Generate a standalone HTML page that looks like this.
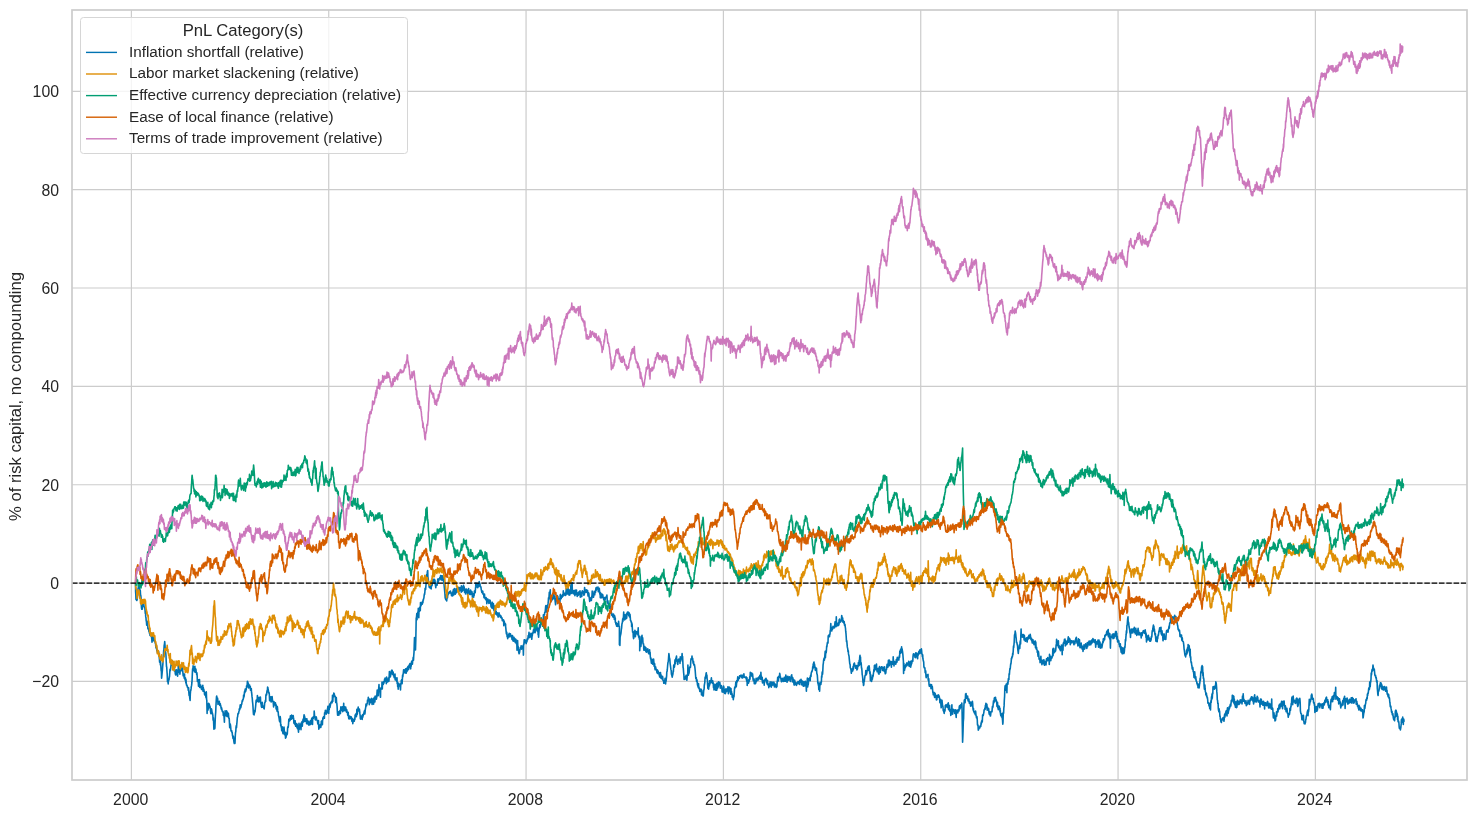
<!DOCTYPE html><html><head><meta charset="utf-8"><style>html,body{margin:0;padding:0;background:#fff;width:1477px;height:818px;overflow:hidden;position:relative;font-family:"Liberation Sans",sans-serif}</style></head><body><svg width="1477" height="818" viewBox="0 0 1477 818" style="position:absolute;left:0;top:0;will-change:transform">
<line x1="131.40" y1="10" x2="131.40" y2="780" stroke="#cccccc" stroke-width="1.2"/>
<line x1="328.73" y1="10" x2="328.73" y2="780" stroke="#cccccc" stroke-width="1.2"/>
<line x1="526.06" y1="10" x2="526.06" y2="780" stroke="#cccccc" stroke-width="1.2"/>
<line x1="723.40" y1="10" x2="723.40" y2="780" stroke="#cccccc" stroke-width="1.2"/>
<line x1="920.73" y1="10" x2="920.73" y2="780" stroke="#cccccc" stroke-width="1.2"/>
<line x1="1118.06" y1="10" x2="1118.06" y2="780" stroke="#cccccc" stroke-width="1.2"/>
<line x1="1315.39" y1="10" x2="1315.39" y2="780" stroke="#cccccc" stroke-width="1.2"/>
<line x1="72" y1="681.46" x2="1467" y2="681.46" stroke="#cccccc" stroke-width="1.2"/>
<line x1="72" y1="583.10" x2="1467" y2="583.10" stroke="#cccccc" stroke-width="1.2"/>
<line x1="72" y1="484.74" x2="1467" y2="484.74" stroke="#cccccc" stroke-width="1.2"/>
<line x1="72" y1="386.38" x2="1467" y2="386.38" stroke="#cccccc" stroke-width="1.2"/>
<line x1="72" y1="288.02" x2="1467" y2="288.02" stroke="#cccccc" stroke-width="1.2"/>
<line x1="72" y1="189.66" x2="1467" y2="189.66" stroke="#cccccc" stroke-width="1.2"/>
<line x1="72" y1="91.30" x2="1467" y2="91.30" stroke="#cccccc" stroke-width="1.2"/>
<path d="M135.5 583.1l.1 8.4 .2 2.9 .2 5 .3-1.6 .3 2.7 .2 0 .3-.8 .2-1.3 .3-3.4 .2 .1 .3-7.3 .2 3.8 .3-2.2 .2-2.9 .3 1.4 .2-4.7 .3 5.9 .2-.3 .3 2.9 .2-1.2 .2 4.1 .3 .9 .2 1.8 .3 7.4 .2 3.1 .3 1.5 .2-3.1 .3 3.1 .2-2.6 .3-2.1 .2-.6 .3-.6 .2 2.9 .3-2.7 .2 3 .3 .2 .2 .4 .3 .1 .2 2.4 .3 3.7 .2-2.2 .2 5.2 .3 1.6 .2 3 .2 .2 .3 4.1 .2-1.7 .3-.6 .2-1.7 .3 4.2 .2 3.1 .3-.6 .2 1.3 .3-.3 .2 2.4 .3 .3 .3 1.7 .2-2.2 .3 4.3 .2-.6 .3-2 .2 2.8 .3 .5 .2-2.8 .3 3 .2 2.1 .3 3.7 .2-3.6 .3 .9 .3-2.9 .2-1.6 .3 4.1 .2 1.7 .3-.8 .2-1.3 .3 2.3 .2-1.1 .3 .9 .2 .7 .3 1.9 .2-.3 .3 3.6 .3 1.3 .2-2.8 .3 2.5 .2 2.9 .3-1.4 .2 3 .3-.5 .2 .7 .3-.7 .2-.7 .3 .4 .2 3.2 .3 1.5 .3 2.7 .2 3.5 .3-4.2 .2 2.1 .3 4.8 .2-3.1 .3 5.1 .2 3.3 .3 1.4 .2 6.4 .3-2.8 .2-2.1 .3-3 .3-4.4 .2-2.1 .3-6.1 .2-2.4 .3-4.9 .2 .1 .3-5.4 .2-.1 .3-3.3 .2 2.3 .3 5.1 .2 1.9 .3 1.7 .3 3.4 .2 5 .3 5.6 .2 .2 .3 5 .2 2.3 .3 7.5 .2-1.5 .3-.6 .2 4.4 .3-5.1 .2 .2 .3 1 .3-3.3 .2 .3 .3-4.9 .2-2.7 .3 1.3 .2-1.7 .3-1.9 .2-1.7 .3-2.4 .2-1.1 .3 0 .2 3.4 .3-4.8 .3 3.6 .2-.9 .3 1.9 .2 .5 .3 1.1 .2-1.9 .3 3.1 .2 3 .3-1 .2-.5 .3 1.5 .2 2.7 .3 1.3 .3-.8 .2-.3 .3 1 .2-4.9 .3 1.1 .2 1.7 .3-2.1 .2 5.5 .3-4 .2 .3 .3-9.7 .2 6.4 .3 .1 .3 1.3 .2 2 .3-1.1 .2 2.9 .3-3.4 .2-2.5 .3-.9 .2 2.5 .3-1.6 .2 .2 .3 1.9 .2 .4 .3-3.3 .3 1.8 .2 1.3 .3 3.1 .2 2 .3-2.1 .2 1.5 .3 0 .2 3 .3-4.2 .2 5 .3-.9 .3 2.3 .2-2.3 .3 4.9 .2-3.5 .3 4.2 .2 1.4 .3-.2 .2 .3 .3 1.8 .2 .4 .3-.2 .2 1 .3 2.3 .3-2.6 .2 3.7 .3 3.8 .2-.8 .3 1.9 .2 1.8 .3 2.2 .2-6.4 .3-3.5 .2-.1 .3-1.8 .2-2 .3-1.3 .3-2.7 .2-3 .3-7.3 .2-3.7 .3 1.2 .2-4 0 2.4 .3-1.6 .2 .8 .3 2.9 .2-1.5 .3 2.8 .2-3.9 .3-1.6 .3 5.9 .2-1.7 .3 1.3 .2-2.7 .3 3 .2 .1 .3 2.5 .2-1.7 .3 3.5 .2 5.1 .3-.5 .2-1.2 .3 .1 .3 6.3 .2-6.1 .3 3.9 .2 1 .3-5.4 .2 7.8 .3-2.3 .2 2.1 .3-.3 .2-1.8 .3 2.6 .2-1.1 0 1.7 .3 1.1 .3 .1 .2-.3 .3-.8 .2 .8 .3-3.8 .2 5.7 .3-3.6 .2 2.4 .3-.7 .2 1.7 .3 .2 .2 3.2 .3 .7 .3-2.3 .2 2 .3-2.2 .2 4.2 .3 1.2 .2-6 .3 7.7 .2 .6 .3 13.2 .2-7.5 .3-1.7 .2 6.1 .3-.8 .3-2.9 .2-3.4 .3 4.6 .2-4 .3 1 .2 2.5 .3-1.3 .2 1 .3 2.1 .2 3.1 .3 1.5 .2-.8 .3-4.2 .3 1 .2 1.5 .3 2 .2-.2 .3 1.6 .2 1.1 .2 4.5 .3-2.3 .2 3.9 .3 7.4 .2-4.8 .3 1.5 .2 2.9 .3-.6 .2-5.6 .3-6.8 .3-3.7 .2-5.1 .3-5.7 .3-4.6 .2-.6 .3 1.7 .2 .3 .3-.1 .2 1.2 .3 5.3 .3-3.3 .2 1 .3 1.3 .2 .1 .3-2.4 .2 1.6 .3 2.6 .2-.7 .3-1 .2 1.9 .3 .1 .2 1.9 .3 1.5 .3-1.3 .2 1.2 .3 1.7 .2 .7 .3 .6 .2-.8 .3 .5 .2 3.8 .3-2.5 .2 .4 .3 3.8 .3 5 .2-7.9 .3 2.2 .2-5.6 .3 3.1 .2-1.1 .3 1 .2 1.2 .3-.6 .2-3.8 .3 5.7 .2-4.5 .3 .8 .3 2.3 .2-1.2 .3 3.2 .2-3.6 .3 3.6 .2 1.3 .3 0 .2 3.3 .3 6.1 .2-4.2 .3 .9 .2 .3 .3 2.5 .3 3.8 .2-.3 .3 .6 .2-.6 .3 2.2 .2-.4 .3 3.2 .2 .4 .3 2.3 .2-2.3 .3 .7 .2 3 .3 2.6 .3 1.1 .2-1.9 .3 1.8 .2-.2 .3-7.6 .2-2.9 .3-1.2 .2-4.1 .3-1.9 .2 2.3 .3-4 .2-1.8 .3-4.2 .3-1 .2-1.8 .3-1.8 .2 .6 .3-.5 .2-1.3 .3-1.1 .2-2.1 .3 1.1 .2-.5 .3-3.5 .2-1.2 .3 3.2 .3-.8 .2-1.1 .3-1.4 .2-.1 .3-1.7 .2-1.3 .3-1.3 .2 .9 .3-1.8 .2 .3 .3-1 .2-3.5 .3 2.1 .3-1.4 .2-3.2 .3-1.6 .2 1.7 .3-3.6 .2 1.5 .3 .7 .2-1.1 .2-.3 .3-2 .2-2.1 .3 1.4 .2-1.3 .3-4.7 .2 .2 .3 3.3 .2-1.8 .3 .6 .2 4.5 .2-2 .3 1.7 .2-.2 .3-2.5 .2 2.6 .2 .1 .3-1.1 .2 3.6 .3-1.9 .2 .3 .3-.1 .2 3.7 .3 1.8 .2 2.4 .3 2.2 .2 3 .3 2.4 .2 2.9 .3 5.3 .2 2.1 .3-2.2 .3 2.9 .2-1.8 .3-.3 .2-2.7 .3 1.4 .2-2.4 .3-2.7 .2-2.3 .3-3.4 .2-.8 .3 2.1 .2-.6 .3-.1 .3-5.9 .2 3.9 .3 1.3 .2-2 .3-.4 .2 3.6 .3-2.7 .2-1.8 .3 .8 .2-.7 .3 3.5 .2 .8 .3-4.8 .3 6 .2 .5 .3 1.3 .2 1.9 .3 .6 .2-.1 .3-5 .2 2 .3 1.8 .2 1.1 .3 0 .2-.5 .3 1.5 .3-2.1 .2 2.9 .3-3.7 .2-2.4 .2-.1 .3-.8 .2-1.6 .3 1.2 .2-6.6 .3 0 .2-1.1 .2 1.1 .3-3.2 .2-1 .3-.6 .2-3 .3 .5 .2 1.9 .3 1.3 .2 2 .3-.6 .2 .6 .2 1.2 .3 6.7 .2-3.5 .3 .5 .2 2.2 .3 .7 .2-3.8 .3 5.2 .2-1.2 .3-1.3 .2 1.5 .3-4.4 .2 2.1 .3 2.7 .2 0 .3 .1 .3 2.8 .2 2.6 .3-5.4 .2 .9 .3 2.6 .2-1.7 .3 1.4 .2-.9 .3-1 .2 2.6 .3-1.2 .2 4.7 .3-3.7 .3 2.8 .2 2 .3 1.4 .2-4.6 .3 3.6 .2 1.3 .3 .2 .2 3.1 .3 1.3 .2 .7 .3 1.9 .2 1.7 .3 1.2 .3-1.4 .2-3.9 .3 2.5 .2 6.8 .3-1.2 .2 2.6 .3 .3 .2 3.2 .3-1.1 .2-2.9 .3 2.5 .2 3 .3 1.5 .3-4.4 .2 .7 .3 .9 .2-3.9 .3 3.8 .2 4 .3-.4 .2-1.8 .3-.3 .2 5.8 .3-4.5 .2 3.8 .3-2.2 .3 .1 .2-1.3 .3-1.8 .2 2.1 .3-6.1 .2-1.4 .3 .7 .2-.8 .3-3.6 .2-3.8 .3 1.9 .2-2.4 .3 2.2 .3-2.7 .2 2 .3-4.5 .2 1 .3 .1 .2-.7 .3 2.9 .2-4.1 .3 1.3 .2 .8 .3 1.4 .2-2.1 .3 1.6 .3-2.4 .2 1.6 .3 2 .2 3.9 .3-2.5 .2 3.1 .3-.6 .2 1.3 .3-3.6 .2 4.3 .3 1.1 .2-1.8 .3 1.9 .3-1.9 .2-.9 .3 4.3 .2-3.3 .3 4.2 .2-2.2 .3 2 .2 .5 .3 3.1 .2-2.9 .3-6 .2 6.2 .3-2.4 .3 .6 .2-.8 .3-1.8 .2 1.7 .3-2.8 .2 5.7 .3-6.8 .2 3.9 .3-1.8 .2-3.3 .3 4.7 .2-3.4 .3-1.8 .3-2.1 .2 2.2 .3 .7 .2-4.9 .3-2.3 .2 4.8 .3-3.5 .2 4.7 .3 .6 .2-2.2 .3-.6 .2 1.9 .3-1.1 .3 1.2 .2 3.2 .3-5 .2 4.9 .3-3 .2 1.7 .3 1.7 .2-1.3 .3 1.1 .2-2.5 .3 3.9 .3-1.8 .2-.2 .3-1 .2 2.4 .3-1.1 .2-2.6 .3 3.5 .2-.3 .3-2.2 .2-2.1 .3-1.2 .2-.5 .3 1.7 .3 4.6 .2-7 .3 1.2 .2-.1 .3-1.1 .2-.8 .3 .4 .2-5.9 .3 4 .2 1.4 .3 1.1 .2 1.8 .3 .6 .3-1.5 .2-.8 .3-.8 .2 1.4 .3 1.4 .2 .4 .3 .5 .2 .7 .3 2.5 .2 .3 .3-.6 .2-3 .3 8.6 .3-1.9 .2 .6 .3-2.3 .2 .1 .3 .4 .2-1.5 .3 2 .2 1 .3-2.1 .2-4.2 .3 1 .2 .2 .3-1.8 .3 4.2 .2-4.5 .3-2.5 .2 1.3 .3-2 .2-.3 .3 .9 .2-.2 .3 .7 .2-5.3 .3 .6 .2-.9 .3-2.4 .3 .7 .2 .8 .3 2.5 .2-1 .3-2.3 .2 2.2 .3-2.2 .2-1.7 .3-1.1 .2-1.7 .3 5.8 .2-2.5 .3 3.8 .3-7.5 .2 3.7 .3-4.2 .2-1.5 .3 3.4 .2-1.4 .3-1.4 .2-1.4 .3-1 .2 .6 .3-1.5 .2 1.1 .3 .5 .3-1.9 .2-5.7 .3 6.1 .2-5.1 .3 .6 .2 .1 .3-4 .2 1.8 .3-1.1 .2 2.3 .3-.2 .2 1.1 .3-.4 .3 4.9 .2 1.1 .3-.2 .2-4.7 .3 5.7 .2-.1 .3 3.3 .2 3.9 .3 4.9 .2-2.1 .3-.4 .2 .2 .3-1.2 .3 3.5 .2-3.4 .3 .5 .2 .3 .3-2.2 .2 2.1 .3 1 .2-3.7 .3-3.2 .2 4 .3-1.8 .2-1.5 .3 2.3 .3-.2 .2-2.6 .3 4.7 .2-.6 .3-2.7 .2 1.7 .3-6.8 .2 7.5 .3-2.3 .2-1.5 .3-.1 .2 3.1 .3 .7 .3-1.7 .2-1.8 .3 3.6 .2-1.2 .3 2.6 .2-2.5 .3 1.5 .2 1.6 .3-.7 .2 3.3 .3 0 .2-2.9 .3 4.2 .3 2.2 .2-3.1 .3 1.7 .2-.4 .3 1.9 .2-2.5 .3 1.1 .2-.7 .3 1.7 .2-1.1 .3-.5 .3 1.1 .2 3.2 .3-.6 .2-2 .3 2.7 .2 2.3 .3-2.5 .2-1.2 .3-.2 .2 .2 .3 .4 .2 .9 .3-3.2 .3 1.5 .2-4.4 .3 .3 .2-1 .3 1.8 .2-2.7 .3 3.2 .2-2.5 .3-4.8 .2 5.1 .3-1.1 .2-2.7 .3-1.1 .3-2.5 .2 3.9 .3-2.1 .2 1 .3-.8 .2-.1 .3 2.6 .2 2.1 .3 2.4 .2 2.8 .3 .2 .2-1.6 .3-1.1 .3-.4 .2 1.8 .3-1.7 .2 3.3 .3-4.7 .2 2.6 .3-1.3 .2-.4 .3-1.1 .2-1.5 .3 .7 .2-2.2 .3-.8 .3 3.2 .2-.6 .3-3.7 .2-1.3 .3-1.5 .2-2.8 .3 .8 .2 1 .3-1.3 .2-.7 .3-.6 .2-3.1 .3 .7 .3-1.1 .2-2.3 .3 3.3 .2 .2 .3-2 .2 5.9 .3-3.7 .2 2 .3-3.4 .2 1.4 .3-1.7 .2 3.1 .3-1.8 .3-2 .2-.3 .3 2.1 .2 3.9 .3-1.8 .2 .2 .3 0 .2 0 .3-4.2 .2 5.6 .3-3.9 .2 1.2 .3-4.2 .3 2.2 .2 2.5 .3-6 .2 1.1 .3 1.5 .2 .1 .3-.9 .2 1.3 .3-1.8 .2-2.9 .3-4.4 .2 6 .3-4.8 .3 .9 .2 3.6 .3-4.3 .2-3.1 .3-3.7 .2 6.1 .3 .6 .2-1.5 .3-1.2 .2 7 .3 1.7 .2-9.2 .3 1.3 .3-.2 .2-.8 .3 .2 .2-6.5 .3 6.9 .2-5.5 .3 .5 .2-1.6 .3 2.1 .2-2.7 .3 1.7 .2-1.3 0 .3 .3-1 .3-2.4 .2 2.3 .3-3.3 .2 1.9 .3-1.1 .2 2.3 .3-2.2 .2 4.7 .3-6.7 .2 4.8 .3-2.1 .2 .4 .3 1.9 .3-.5 .2-1 .3-2.4 .2 1.3 .3 1.7 .2-2.9 .3-6.6 .2 3.8 .3 1.9 .2-1.2 .3-3.9 .2 3.9 .3-4 .3-.4 .2-1 .3 .7 .2-1.3 .3 .2 0 3.8 .2-.6 .3 .8 .2 .1 .3-2.3 .2 3.6 .3-1 .3 1.4 .2 1.5 .3-3.2 .2 1.8 .3-2.1 .2 5.8 .3-2.3 .2 .4 .3 .8 .2-.4 0 1.7 .3-1.5 .2 2.9 .3-3.7 .2 5.8 .3-1.3 .2 4.5 .3-2.6 .2 5 .3-3.2 .2-2.8 .3 .6 .2 .9 .3 1.3 .2-1.3 .3 .6 .3 .9 0 .4 .2 3.4 .3-6.4 .3 .1 .2-3.3 .3 2.2 .2-3 .3 4.2 .2-3.7 .3-5.1 .2 1.9 .3-2.7 .2-1 .3-3.4 .2 .3 .3 1 .3-1.1 0 2.3 .2-1.6 .3 2.3 .2-2 .3-.3 .2-1.8 .3 2.5 .2 1.8 .3-1 .2-3.5 .3-.5 .2 2.4 .3 .3 .2-1.3 .3-3.1 .2 3.1 .3-3.6 .2 3.4 .3-3 .2-1.4 .3 .3 .3 .4 .2-2.2 .3 3.9 .3-1.5 0 2.4 .2 .5 .2-4.7 .3 2.1 .2-3.7 .3-1.1 .2-.4 .3-.1 .2 3.4 .3-3.5 .3-1 .2-2.4 .3 2.8 .2-3.9 .3-3.9 .2-5.7 .3-9.2 .3 4.7 .2 4.1 .3 .6 .2 3.1 .3-10.6 .2-9.9 .2-11.4 0 2.2 .3-3.1 .3-3.6 .2 6.2 .3-6.2 .2 1.1 .3-2.7 .2 3.4 .3-7.1 .2 4.6 .3 4.9 .2-7.7 .3-.1 0 .2 .2 1 .3-3.9 .2-.3 .3 3.6 .2-8.1 .3 3.7 .2-3.3 .3 2.2 .3-2.4 .2 .5 .3-.8 .2-.5 0 2.2 .3-2.7 .3 1.2 .2-2.8 .3 .2 .2-1.3 .3-.7 .2-2.2 .3-2 .2 .7 .3-2.7 .2-3.4 .3 1.3 .2-.2 .3-3.4 .3-3.4 .2-2.1 .3-6.1 .2 2.2 .3-2.9 .2-2.4 .3-.9 .2 6.3 .3 1.9 .2 1.8 .3 4.2 .2-.1 .3 2.6 .3 .5 .2-.3 .3-1.4 .2 .6 .3 1.6 .2-2.4 .3-1.6 .2 4.7 .3-6.5 .2 3 .3 .3 .2-1.4 .3-2.7 .3-2.2 .2 2.6 .3-1.5 .2-1.1 .3 2.8 .2-.4 .3 1.2 .2-3.6 .3 2.6 .2-1.7 .3 4.2 .2 .8 .3 2.4 .3-3.5 .2-.1 .3-.5 .2 .1 .3 1.4 .2-2.9 .3-1.3 .2-1.8 .3-.2 .2 3.1 .3-2.1 .2 .6 .3-1.4 .3-.3 .2 0 .3-1.3 .2-.2 .3 .8 .2-2.6 .3 4.1 .2-2.9 .3-1 .2 2.5 .3 .6 .2 1.7 .3-1.4 .3-3.2 .2 1.9 .3-.8 .2 1.9 .3 .6 .2 3.1 .3 3.5 .2 2.2 .3 3.2 .2 2 .3 4.7 .2-1.8 .3 3.4 .3-.2 .2-4.9 .3 4.9 .2 1.3 .3-3.7 .2 .4 .3 .2 .2-2.6 .3-.3 .2-1.9 .3 .7 .2 0 .3-.3 .3-1.7 .2 .5 .3-.7 .2 .2 .3 1.1 .2-1.7 .3 1.7 .2 .6 .3-.1 .2 2.4 .3-1.2 .2-1.8 .3 0 .3 3.2 .2-4.2 .3 .2 .2-2.2 .3 2.6 .2 2.6 .3-4.9 .2-1.4 .3 5.2 .2-2.9 .3 2.1 .2 1.2 .3-3 .3-.3 .2-2.3 .3 1.8 .2 2.2 .3-.9 .2-.1 .3-3.3 .2 2.7 .3-3.2 .2-.5 .3 3.3 .2-2.3 .3-.2 .3 3.2 .2-3.7 .3 2.8 .2-1.7 .3 0 .2-.7 .3-.6 .2 .3 .3 4.4 .2-6.4 .3 3.4 .2 2.4 .3-.5 .3-1.5 .2-2.6 .3 3.3 .2-2.7 .3-2.3 .2 2.9 .3-.8 .2-.3 .3 5.1 .2-3.5 .3 1.1 .3 .5 .2 3.7 .3-1.7 .2 .1 .3-3.2 .2-.1 .3 1.2 .2 1.5 .3-1.6 .2 4.5 .3-4.1 .2 3 .3-.8 .3-4.2 .2 2.1 .3 1.1 .2 .5 .3 .5 .2 1.7 .3-1.4 .2-1.1 .3-1.9 .2 4.5 .3-3.3 .2 .8 .3-.1 .3-.3 .2 1 .3 4.6 .2-1.9 .3-.8 .2 1.3 .3-2.1 .2 3.6 .3-1.6 .2 0 .3-4.6 .2 1.8 .3-1.6 .3 1.4 .2-2.9 .3-3.4 .2-3.4 .3 2.6 .2-.6 .3-.6 .2 2.5 .3-3.4 .2 .4 .3 3.7 .2-3.6 .3 .1 .3 2.6 .2-3.1 .3 1.8 .2-3.8 .3 1.5 .2 2.6 .3-2 .2 3 .3-.4 .2 .2 .3 1 .2 1.8 .3 1.3 .3 1.7 .2-1.4 .3 2.1 .2 0 .3-1.7 .2 3 .3-.6 .2 .3 .3 1.4 .2 2.3 .3-1.2 .2-2.5 .3 4.2 .3-.3 .2 .4 .3 1.3 .2-.3 .3-1.7 .2 2.3 .3-1.3 .2 5 .3-2.3 .2-1.5 .3 0 .2-.8 .3 .8 .3 2.1 .2-1.5 .3 3 .2-3.2 .3-.1 .2 2.9 .3-1.4 .2-1.4 .3 2.5 .2-.9 .3 3.5 .2 1.5 .3-.9 .3 2 .2-.1 .3-1.7 .2-3.9 .3 5.6 .2 .6 .3-4.1 .2-.5 .3 3.9 .2 2.6 .3 .4 .2-.7 .3-4 .3 2.8 .2 1 .3-.2 .2 3.4 .3 1.2 .2-2.8 .3 3 .2 .4 .3-.3 .2-1.8 .3 1.4 .2-.8 .3 3.7 .3-.7 .2 .6 .3-1.4 .2-2.7 .3 1 .2 .6 .3 .6 .2 .8 .3 .6 .2 1 .3-.8 .2-.7 .3 2 .3 .2 0 .2 .2-.8 .3 .9 .2 2.3 .3-1.2 .2 1 .3-.6 .2 1.3 .3-1.2 .2 5.8 .3-4.8 .3 1.2 .2 1.2 .3-.2 .2 1.3 .3-.8 .2 .5 0 2.2 .3 2.5 .2 2.2 .3 2.9 .2-2 .3 1.3 .2 3.4 .3-.3 .3 2.2 .2-3.4 .3-.1 .2 2 .3-2.7 .2 .3 .3-1.3 .2 .5 .3 1.1 .2 1.9 .3-2.3 .2-.9 .3 2 .3-.3 .2-.1 .3 1 .2 .3 .3 2.8 .2-2.6 .3-1.2 .2 2.8 .3 2.6 .2-3.9 .3 4 .2-1.8 .3-2 .3 1.7 .2 1.7 .3-2.1 .2 3.1 .3 .8 .2-1.9 .3-1.2 .2 .1 .3 4.2 .2-3 .3 1.2 .2 8.3 .3-7 .3-2.6 .2 5.3 .3 .4 .2 2.3 .3 2.3 .2 1.9 .3 .9 .2-.3 .3-1.1 .2-1.8 .3-1.6 .2-1.4 .3 1 .3-1.2 .2-1.5 .3 .3 .2 3.1 .3-2.5 .2-.3 .3 .1 .2 1.9 .3-2.6 .2 .3 .3 9 .2-10.8 .3 .1 .3-4.6 .2 3 .3-3.1 .2 1.1 .3 1.3 .2-.9 .3-.8 .2 .1 0 2.2 .3 .9 .2-3.3 .3 .6 .2 .9 .3-2.3 .3-1.1 .2 1.1 .3-1.4 .2-2.6 .3 .2 .2 .2 .3-3.7 .2 5.5 .3-3.8 .2 .4 .3 .1 0 2.2 .2 .4 .3 0 .3 0 .2-3.7 .3 3.3 .2 .4 .3 2.3 .2-3 .3-.5 .2-2.7 .3 .4 .2-1.2 .3-.8 .2-1.8 .3 .7 .3-.1 0 2.2 .2-3.6 .3 3 .2-1 .3 1.7 .2-1.6 .3-3.5 .2 .4 .3-1.3 .2-.1 .3 3.4 .2-3.5 .3 1.1 .3 4 .2-3.3 .3 .5 .2-.4 0 6.2 .3 .5 .2 2.1 .3-5.1 .2-2 .3-2.4 .2-2.9 .3 0 .2 3.1 .3-3.5 .3-.5 .2-1.9 .3 0 .2-.6 .3 .9 .2-.1 .3 .1 0 2.2 .2-3.1 .3-1.8 .2 2.4 .3-1.5 .2-5.7 .3 2.2 .3-2.1 .2 .4 .3-.6 .2-2.2 .3-.4 .2-.5 .3-3.2 .2-2.3 .3-.4 .2 .3 0 6.3 .3-1.5 .3-2.1 .2 .3 .3-3.7 .2 2.6 .3-2.9 .2-1 .3-2.6 .2-3.4 .3 .6 .2-1.2 .3-5 .2 1.5 .3 1.5 .3-3.9 .2-1.7 0 10.3 .3-1.5 .2 3.3 .3-2.3 .2 1.3 .3-.1 .2-1 .3 .1 .2-.4 .3-1.9 .2-.8 .3 1.4 .3 .5 .2-.4 .3-4.4 .2 4.8 .3-.8 .2-1.7 .3 .3 .2 4.6 .3 2.2 .2 1.6 .3-6.1 .2 2.4 .3-2.8 .3 2.4 .2-1.1 .3-.1 .2-3.9 .3 7.6 .2-6.6 .3 3.2 .2 0 .3 1 .2 1.4 .3-3.2 .2 4.1 .3-.9 .3-.9 .2-6.2 .3-.7 .2 1 .3 1.2 .2 2 .3-2.6 .2 .3 .3 .3 .2 .6 .3-1.4 .2-1.2 .3 1.6 .3-5.5 .2 3.4 .3 .8 .2-.3 .3 0 .2-1.2 .3 1.7 .2-.4 .3 .7 .2-2.3 .3 2.1 .2-3.7 .3-2.7 .3 .9 .2 4.2 .3-.4 .2-3 .3-.1 .2 3.6 .3-6.1 .2 1.1 .3 .6 .2 3 .3 2.5 .2-1.2 .3 .3 .3 .6 .2-5.1 .3 3.1 .2-1.1 .3-6.8 .2 4.5 .3 4 .2-3.6 .3 2.5 .2-9.8 .3 10.5 .2-2.3 .3 1.6 .3 .1 .2 1.4 .3-3.2 .2 3.3 .3-3.1 .2 1.3 .3 1.6 .2 2 .3-5.6 .2 1.4 .3 1.2 .2 1.7 .3-.6 .3-3.8 .2 4.7 .3-.1 .2 1.8 .3-3.3 .2 2.5 .3-2.7 .2 2.4 .3-.5 .2-1.1 .3-2 .2 2.1 .3-.9 .3 1.4 .2-3.6 .3 6.6 .2-3.7 .3 3.1 .2 0 .3-1.3 .2-3.2 .3 4.2 .2-3.9 .3-1.6 .2 .5 .3 .3 .3 0 .2 1.3 .3-1.4 .2 3.6 .3-2.6 .2 2.4 .3-7.5 .2 2.1 .3-.1 .2 1.7 .3 1.3 .2-1.9 .3 1.7 .3-1.6 .2-.8 .3 1.8 .2 .8 .3-.4 .2-1.5 .3 4.2 .2 1.2 .3-2 .2-1.1 .3 .6 .3 4.2 .2 1 .3 2.8 .2-2.6 .3 0 .2 0 .3-1.1 .2 2 .3-.5 .2 1.2 .3-4.1 .2 1.7 .3-7 .3 3.3 .2 .9 .3 1.2 .2 .6 .3 .1 .2-1.4 .3-2.6 .2-1.8 .3 2.4 .2 1 .3-3.1 .2 .3 .3 .4 .3-3.3 .2-1.2 .3 2.4 .2-2.3 .3-.7 .2 .8 .3 .9 .2-.4 .3-.6 .2-.9 .3 4.5 .2-3 .3-.1 .3 1.2 .2-1.5 .3 3.8 .2 2.2 .3-1.9 .2 5.3 .3-4.7 .2 .7 .3 4.4 .2-2.9 .3 2.3 .2-3.4 .3 .7 .3 0 .2-.2 .3 1.2 .2 2.1 .3 .5 .2 .9 .3 .7 .2-1.3 .3-1.1 .2 1.2 .3 1.7 .2-.7 .3-1.7 .3-.8 .2 0 .3-.2 .2-.8 .3 .8 .2-1.9 .3 4.9 0 1.9 .2-.7 .3 1.9 .2-2.4 .3 2.8 .2 1.3 .3-1.2 .3 2.3 .2 0 .3 2.4 .2-1.5 .3-2.4 .2 3.5 .3-1.7 .2 .9 .3 2.2 .2 .7 0 2.2 .3 .5 .2 2.4 .3-1.3 .3 1.2 .2 .6 .3 1.2 .2-2.2 .3 2.6 .2-3.1 .3 2.4 .2-.8 .3 3.8 .2-3.9 .3 .9 .2 3 .3-1.4 0 4.2 .3-.3 .2 1.7 .3 .8 .2-1.6 .3 3.4 .2-3 .3 .5 .2 1 .3 1.6 .2-1 .3 .5 .2 .1 .3-4.6 .3 4 .2 1.2 .3-.4 0 18.5 .2-2.1 .3 2.8 .2-7.7 .3-2 .2-.8 .3-1.2 .2-1.7 .3-3 .2-.9 .3-3.9 .3-1.2 .2-.7 .3-3.6 .2 2.8 .3-3.8 .2 .4 .3-6 .2 3.6 .3 .1 .2 3.8 .3 .2 .2-4.9 .3 2.7 .3 .7 .2 .7 .3-1.3 .2-3.2 .3-.7 .2 4.4 .3-5.2 .2 1.4 .3-2.4 .2 1.6 .3 .8 .2-1.9 .3-.3 .3 3.4 .2-3.1 .3 3.5 .2 .9 .3-.5 .2-2.2 .3 3.4 .2 2.9 .3 .4 .2-.1 .3 1.7 .3-.3 0 4.2 .2-.1 .3-2.6 .2 3.9 .3 4.5 .2 0 .3-.5 .2 5.2 .3 1.8 .2-.6 .3-2.9 .2-3.4 .3 3.2 .3-4.6 .2 3.8 .3 2.6 .2-2.3 .3-2.9 .2 2.8 .3-.8 .2-1 .3 .9 .2-1.9 .3 2 .2-.9 .3 2.3 .3-7.2 .2 6 .3 3.6 .2-.8 .3 1.4 .2 1.5 .3-3 0 14.4 .2-3.7 .3-.3 .2-2.1 .3 1 .2 .8 .3-3.4 .3-6.3 .2-.2 .3-1.2 .2 3.7 .3 2.7 .2-4 .3 5.7 .2 .5 .3-.2 .2 2.1 0 2.8 .3 1.6 .2-1 .3-2.1 .3-.7 .2 .7 .3 2.6 .2 .4 .3 1 .2-3.4 .3 4.4 .2-.1 .3-2.4 .2 1.9 .3-.6 .2 .2 .3-2.5 .3 3.6 .2-1.4 .3 2.8 .2-2.9 .3-.4 .2 2.9 .3-3.6 .2 4.6 .3-1.9 .2 4.1 .3 2.4 .2-1 .3 2.8 .3 2.5 .2-2.7 .3 .4 .2-1.6 .3 1.9 .2 2.9 .3-2.8 .2 1.3 .3 .1 .2-3.6 .3 3.6 .2 3.4 .3-2.9 .3 .8 .2 4.5 .3 1.3 .2-2.2 .3-.6 .2 2.1 .3 .3 .2-.2 .3 1.6 .2 1.6 .3-2.5 .2 3.5 .3-3.1 .3 2 .2-.9 .3 2.2 .2-1 .3-.1 .2 2.6 .3 1 .2 .9 .3-1.8 .2-.9 .3-1.7 .2 5.3 .3-3.2 .3 2.1 .2 1.6 .3-1.3 .2 1.7 .3 .2 .2-2.8 .3 1.8 .2 2.4 .3 .3 .2-.2 .3 2.8 .2-2.1 .3 .2 .3 1.6 .2-2.7 .3-2 .2 1.7 .3 3.9 .2-3 .3 .3 .2-2.2 .3-2.8 .2-4.4 .3-.5 .2-1.6 .3-3.7 .3-3.1 .2-.9 .3-1.7 .2-3 .3-3.8 .2 1.3 .3 3.4 .2-.1 .3 2 .2 3.2 .3 2 .2 1.5 .3 2.6 .3 1.1 .2 3.4 .3 1 .2 .6 .3 1.7 .2-1.2 .3-1.2 .2-.5 .3-3.5 .2 1 .3-6.7 .3 1.7 .2 .5 .3-.5 .2-2.4 .3-4.7 .2 1.2 .3 2.8 .2-4.4 .3-1.3 .2-.4 .3-1.5 .2 3.3 .3 1.8 .3-1.4 .2 .7 .3 3.9 .2-3.5 .3 .1 .2-1.2 .3-.8 .2 2.4 .3-.5 .2-.6 .3-.2 .2 3.4 .3-6.7 .3 3.6 .2 .6 .3-2.3 .2 .3 .3-1.2 .2-.3 .3-4 .2 3.4 .3-.3 .2 4.4 .3 6.5 .2 .6 .3 4.4 .3 2.7 .2 4.3 .3-.3 .2-.7 .3-.3 .2 .9 .3-1.7 .2-.9 .3 .1 .2-1.4 .3 2.6 .2 .6 .3 1.9 .3-4.2 .2-1.2 .3 .1 .2-9.9 .3 8.6 .2 1.5 .3-1.9 .2 .4 .3-1.7 .2-2.1 .3-2.9 .2 .2 .3 .2 .3-.3 .2-5.1 .3-3.3 .2 0 .3 .2 .2 .4 .3-3.2 .2 2.9 .3-.8 .2 .3 .3 3.9 .2 .8 .3-2 .3 3.7 .2-.8 .3 .2 .2 .7 .3 1.9 .2 1.6 .3 3.3 .2 2.7 .3 4 .2-.3 .3-.5 .2 3.5 .3 .1 .2-1.6 .3 3.5 .2 1.7 .3 1.1 .2-.7 .3 2.3 .2-4.1 .3 4.8 .2-1.2 .3 2 .2-.7 .3 3.1 .2-2.1 0 .1 .3 .3 .2-.5 .3 2.3 .2-.1 .3-2.2 .2 5.6 .3-4.7 .2 3.9 .3-.1 .2-.5 .3 2.4 .2-.3 .3 .4 .3-4.4 .2-1.7 .3-.9 .2-3.6 .3-1.7 .2-1 .3-5.3 .2 1 .3-2.3 .2 .1 .3-2.9 .2-.6 .3 5 .3-2.7 .2 3.6 .3 1.7 .2 4.3 .3 3.8 .2-2.9 .3-.2 .2 3.8 .3-3.1 .2-2.6 .3 2.6 .2-5.2 .3 3.3 .3-3.4 .2 2.1 .3-1.6 .2 .6 .3-2.4 .2-1.6 .3 4.7 .2-.9 .3-.3 .2 1.8 .3-2.4 .2 1.9 .3 .1 .3 4.9 .2-4 .3 6.4 .2-3.9 .3 .5 .2-.6 .3-1.3 .2 2.8 .3 1.1 .2 1.6 .3-5.7 .2 3 .3-4.2 .3 6.9 .2-4.1 .3-.6 .2 3 .3-5.7 .2 2.7 .3 1.4 .2-5 .3 2.8 .2-2.4 .3 1.1 .2 1.4 .3-2.4 .3 2.2 .2 3.6 .3-2 .2 .5 .3 .3 .2-1.4 .3 .8 .2 1 .3 4.6 .2-.4 .3-1.7 .3 .2 .2 2 .3-2.2 .2-3.8 .3 1.4 .2 2.4 .3 .4 .2 3.2 .3-3.8 .2 3.7 .3 .2 .2-1.7 .3-3.2 .3 1.8 .2 1.1 .3-1.3 .2 .5 .3-1.9 .2 2.1 .3-.1 .2-4.2 .3 4.8 .2 2.2 .3-3.6 .2 2 .3-5.1 .3 1.3 .2 1.2 .3 .9 .2-2.3 .3 1.4 .2 4.7 .3-5.7 .2 5.8 .3-2.7 .2 2.5 .3-.6 .2 3.7 .3-2.2 .3 .6 .2 .9 .3 3.1 .2-1.9 .3-1.4 .2 .4 .3-4.4 .2-3.5 .3-1.8 .2 1 .3-1.4 .2-.2 .3-4.4 .3 4.9 .2-.5 .3-3 .2-2.9 .3 .8 .2 .4 .3-3.4 .2-1.5 .3 2.2 .2 1.2 .3-2.4 .2-.3 .3 .7 .3 .2 .2-2.7 .3 0 .2 .5 .3 .4 .2-1.3 .3 0 .2 .7 .3 0 .2-.1 .3 1.9 .2-2.7 .3 2.9 .3-.2 .2-.1 .3-2 .2 1.2 .3-.4 .2-2.8 .3 3.3 .2 .2 .3 .1 .2-.2 .3 .6 .2-.3 .3 0 .3-.6 .2 1.7 .3 1.4 .2 1.1 .3-3.3 .2 7.8 .3-3.2 .2-.9 .3-.2 .2-.3 .3 2.3 .2-3.3 .3 1.9 .3-1.3 .2-1.2 .3-2.8 .2 2.7 .3-6.9 .2 2.9 .3-1.9 .2-.3 .3 .5 .2 1.9 .3-2.4 .2 3.5 .3-2 .3-.5 .2 2.4 .3 3.2 .2 1.1 .3-1.6 .2 .1 .3-.2 .2 4.8 .3-1.2 .2 .8 .3-2 .2 2.3 .3-.3 .3-3 .2-2 .3 3.3 .2-1.2 .3-.3 .2 .3 .3-2.3 .2 1.2 .3 .4 .2-2 .3 2.1 .2-.7 .3-1.9 .3-.8 .2 .1 .3 .3 .2-1.7 .3 2.6 .2 1.3 .3-.4 .2-6.5 .3 6.2 .2-2.4 .3 3.6 .2-1.4 .3-.7 .3 5.5 .2-1.6 .3 0 .2 .3 .3-1.1 .2 1.7 .3 0 .2 3 .3-5.3 .2 .4 .3-.3 .3 .2 .2-1.6 .3 1.1 .2-1.6 .3 1.9 .2 2.4 .3-1.6 .2 2.5 .3 .7 .2-3.7 .3 3.9 .2-.6 .3 2 .3-.7 .2 2.8 .3-3.7 .2 2.1 .3 0 .2 0 .3-4.3 .2 2.2 .3 .6 .2 1.3 .3-1.4 .2 2.7 .3-5.2 .3 3.5 .2-.1 .3-2.4 .2-.9 .3 1.6 .2 .7 .3 .5 .2-2.3 .3-.6 .2 .8 .3 4 .2-2.2 .3 .4 .3-1.1 .2 2.1 .3-1.2 .2 1.9 .3 .7 .2-1.5 .3-.8 .2 1.4 .3-5.6 .2 .6 .3-4.3 .2 4.2 .3-4.2 .3 3.2 .2-3.5 .3-.9 .2 .6 .3-.1 .2-3.2 .3 1.3 .2 2.9 .3-.7 .2 1.1 .3 1.1 .2 1.5 .3 1.2 .3-2 .2 1.2 .3-2.6 .2 .5 .3 1.1 .2-.7 .3 2.1 .2-2.4 .3 .5 .2-1 .3-1.2 .2 1.8 .3 2.2 .3-2 .2 2 .3-3 .2-3.3 .3 1.6 .2 2.8 .3-2.5 .2 4 .3 1.4 .2-2.9 .3-2.5 .2-.7 .3 1.6 .3 1.4 .2 .9 .3-1.6 .2 0 .3-1.6 .2 1.7 .3-.4 .2 1.7 .3 1.5 .2-3.9 .3-.5 .2 1.1 .3-2.8 .3-.5 .2 3.9 .3-1.6 .2 4.8 .3-1.6 .2-2.4 .3 3.3 .2-.1 .3-1.3 .2 4.2 .3 1.1 .2-1.7 .3-3.1 .3 4.2 .2-.3 .3-1.9 .2 .1 .3 .7 .2 1.8 .3 .4 .2-2.1 .3-.1 .2-.2 .3 .9 .2-.6 .3-1.7 .3 1.6 .2-1.3 .3 .9 .2 .6 .3 1.1 .2-3 .3-1.1 .2 .7 .3 1.2 .2-2.2 .3 .7 .2-1.4 .3 5.5 .3-3.7 .2-.5 .3 .6 .2 3.8 .3-1.9 .2-.2 .3-1.3 .2 4.7 .3-1.8 .2-1.5 .3-.9 .3 3.8 .2-3.1 .3-1.2 .2 4 .3-4.4 .2 2.2 .3 1.2 .2 .9 .3 5.8 .2-6.9 .3 2.3 .2-4.5 .3-4.2 .3 9 .2-4.4 .3 2.3 .2-1.8 .3-2.6 .2-1.9 .3 .4 .2 0 .3 .4 .2-1.9 .3 3.3 .2-4.8 .3-.8 .3 1.3 .2-3.5 .3-.4 .2-1.3 .3 .4 .2-1.2 .3-.7 .2-3.1 .3 1.7 .2-4.4 .3-.3 .2-.6 .3-1.1 .3 5.2 .2-3.1 .3 2.3 .2 .5 .3 3.3 .2-2.7 .3 .3 .2 1.2 .3 1.9 .2-2.5 .3 4.9 .2 .6 .3 1 .3 4.4 .2 3.8 .3-.8 .2 2.9 .3-.5 .2 4.8 .3-5.4 .2 4.7 .3 2.3 .2-4.2 .3-4.7 .2 1.3 .3-.7 .3 1.6 .2-2.1 .3-.4 .2-5.8 .3 1.2 .2-4.5 .3-1.2 .2 2.7 .3-5.6 .2-3.9 .3-2 .2-2.6 .3-1.1 .3-1 .2 2 .3-2.8 .2-2.3 .3-3.7 .2 6.3 .3-4.7 .2-.5 .3 .3 .2-2 .3-4.7 .2 .9 .3-3.1 .3-1.6 .2 1.2 .3-.5 .2-7 .3 1.1 .2-.7 .3 .4 .2-2.2 .3 2.3 .2-2.4 .3-.1 .2-3.7 .3-.3 .3-6.7 .2 5.6 .3 1.1 .2-.5 .3 1.2 .2-2.4 .3-1.2 .2 1.9 .3-1.6 .2-1.3 .3 1.2 .2-.5 .3-.2 .3 1.1 .2-1.7 .3 1.3 .2-3 .3-2.9 .2 1 .3 3.5 .2 .3 .3 .1 .2-9.8 .3 8.4 .2-.8 .3 1.3 .3-2.2 .2 .8 .3-.7 .2 2 .3-.2 .2-2.9 .3 2.4 .2-5 .3 3 .2-3.8 .3 3.3 .2-1.9 .3 .8 .3 .5 .2-.8 .3 .1 .2-.7 .3-4.9 .2 1 .3 1.9 .2-.7 .3 .5 .2 4.1 .3-1.7 .2 1.3 .3 0 .3 1.4 .2-1.8 .3 3.8 .2-1 .3 .2 .2 2.1 .3 1.7 .2 2.9 .3 2.5 .2 2.8 .3 5.2 .3-1 .2 2.7 .3 3.5 .2 .9 .3 1.3 .2 2.7 .3-1 .2 3.1 .3 1.5 .2 .4 .3 3.3 .2 2.1 .3 3 .3 0 .2 3.5 .3 .7 .2 .4 .3 1.7 .2 2.8 .3-1.9 .2 .3 .3-3 .2 .3 .3 1.6 .2 .3 .3-4.3 .3 2.6 .2-4.1 .3-1.4 .2 .2 .3-.8 .2 1 .3 1.4 .2 .7 .3 .2 .2 1.8 .3-2.5 .2 2.6 .3-1.8 .3-1 .2 4.4 .3-3.7 .2 3 .3-2.3 .2-.4 .3-1.1 .2-2.8 .3 3.3 .2-1.6 .3-3.9 .2 4.9 .3-7.9 .3-2 .2 5.2 .3-3.6 .2 6 .3 2 .2-2.1 .3 5.4 .2-.4 .3 3.2 .2 3.5 .3 1.3 .2 1.9 .3 4.6 .3 .6 .2 2.5 .3-.9 .2-4.3 .3 1.1 .2-2.1 .3-2.2 .2-1.4 .3-.5 .2 .1 .3-4.7 .2 .1 .3 4 .3-.9 .2-.8 .3-2.4 .2-.2 .3-2.7 .2-.5 .3 3.3 .2-4.3 .3 1 .2 3 .3-4.4 .2 1.3 .3 4.5 .3 2.3 .2-2 .3 8.8 .2-6.3 .3 6.1 .2-.9 .3-2.4 .2 4.2 .3-2 .2-.1 .3 0 .2-4.1 .3 1.6 .3-1.3 .2-1.9 .3-2 .2-2 .3 1.6 .2-5.7 .3 1.7 .2-2.2 .3 3.1 .2 1.5 .3-.7 .2-.7 .3-.8 .3-3.4 .2 5.6 .3 1.1 .2 1.1 .3-2.8 .2 .7 .3 .3 .2-1.7 .3 5.4 .2-2.5 .3 3 .2-2.9 .3-4.7 .3 3.4 .2 2.5 .3 0 .2-2.3 .3-1.7 .2-.6 .3-.8 .2-.2 .3 .5 .2-.6 .3 .5 .2 3.2 .3-1.3 .3 .8 .2 .6 .3-3.4 .2 .2 .3 .5 .2 3.3 .3-4.5 .2 4.4 .3 1.7 .2 1 .3-2.6 .2 2.1 .3-3.5 .3-.5 .2-.1 .3-3.1 .2-1.8 .3 .3 .2 1.1 .3 1.5 .2-1.3 .3-5.6 .2 3.8 .3-3 .3-1 .2 5.5 .3-1.6 .2-.5 .3-2.3 .2 1.3 .3 1.1 .2-.8 .3 .6 .2 3.7 .3-5.6 .2 1.6 .3-.2 .3 1.3 .2-2.2 .3 1.7 .2-7 .3 6.2 .2-1.6 .3 4.7 .2-3.7 .3-.8 .2 .7 .3 .9 .2 .5 .3-.5 .3 1.1 .2-1 .3-3.6 .2 .4 .3 1.4 .2 .7 .3-4.7 .2 .5 .3 .4 .2-.3 .3 1.8 .2-.7 .3 1 .3-3.1 .2-1.1 .3 1.3 .2-6.2 .3 1 .2 1.5 .3-4.1 .2 2.4 .3 1 .2-2.1 .3-3.9 .2 5.7 .3-3.6 .3 1.9 .2 1.2 .3 2.8 .2 2.7 .3 3.8 .2 12.2 .3-10.1 .2 3.8 .3-.3 .2 3.2 .3-4 .2 1.8 .3-.3 .3-1.9 .2-1.2 .3 .8 .2-1.6 .3 2.2 .2-3 .3 .2 .2 1.8 .3-.8 .2 .9 .3-1.3 .2 .4 .3-2.7 .3 1 .2 4.1 .3-2.2 .2 1.1 .3-.3 .2-.2 .3-3.5 .2 5.8 .3-3.1 .2 1.1 .3-1.8 .2 .3 .3-3.1 .3 .5 .2-.5 .3 .7 .2-4.8 .3-2.3 .2-.4 .3 2 .2-.2 .3-.6 .2-.4 .3 0 .2 2.9 .3-4 .3 4.3 .2-5.1 .3 2 .2-.7 .3-.8 .2 .1 .3 2.8 .2 .9 .3 1.6 .2-4.1 .3 .8 .2-1.2 .3-1 .3-1.7 .2 2.5 .3-2.1 .2 1.3 .3-3.4 .2 .5 .3 .6 .2-1 .3 1.9 .2 1.8 .3-4.6 .2 1.4 .3 3.7 .3 .2 .2 2.6 .3-1.9 .2 3.8 .3 1.4 .2 1 .3 .9 .2 4.8 .3 .8 .2-.2 .3 .3 .2 .3 .3 4.8 .3-1.9 .2-.1 .3 5.7 .2 1.2 .3-2.4 .2-.1 .3 .9 .2-.4 .3-.5 .2-.4 .3-.4 .2 5.6 .3 .7 .3-1.8 .2 5.3 .3 2 .2-.7 .3-.8 .2 .8 .3 1 .2-1.4 .3-.7 .2 4.2 .3-1.9 .3-1.8 .2 3.6 .3-1.3 .2-.6 .3 3.2 .2 2.4 .3 .8 .2 1.8 .3-1.2 .2-.2 .3-1 .2 3.2 .3 1.9 .3-2.5 .2-1.6 .3 2.3 .2-.4 .3 2.2 .2-.1 .3 2.5 .2-4.4 .3 4.1 .2-4.4 .3 1.1 .2-.7 .3 1.6 .3-1.1 .2-1.2 .3 .4 .2 .6 .3 .6 .2 .9 .3 2.4 .2 2.8 .3-2.2 .2-.4 .3-.6 .2 5.4 .3 3 .3-3.4 .2-2.7 .3-1.4 .2 2.1 .3 2.7 .2 .6 .3 1.2 .2 3.6 .3-.2 .2 1.6 .3-2.1 .2 3.7 .3-3.4 .3 .1 .2 .8 .3-5.6 .2-.1 .3 1.5 .2-2.1 .3 1.9 .2-1.6 .3 .2 .2 .1 .3 2.1 .2-3.3 .3 1.7 .3 .9 .2-3.8 .3 6.7 .2-4.2 .3 4.3 .2-1 .3-3.2 .2 5.7 .3-1.9 .2 1.1 .3 1.5 .2 3.5 .3-4.2 .3-.8 .2-.3 .3-5.3 .2 9.1 .3-3.3 .2 3.6 .3-3.5 .2-1.3 .3 1.9 .2-1.8 .3 .3 .2 1.4 .3-1.1 .3 3.3 .2-.3 .3-1.9 .2 0 .3-1.5 .2 4.7 .3 3.1 .2-6.9 .3 .9 .2-.4 .3-.9 .2 .3 .3 2.4 .3-1 .2-2 .3 1.1 .2-1.2 .3 1.1 .2-3.7 .3-1.4 .2 1.2 .3 1.8 .2-2.1 .3-1.7 .2-.2 .3 .9 .3 1.8 .2-.5 .3-3.9 .2 2.7 .3 18.9 .3 17.6 .3-6.8 .2-6.3 .2-7.6 .3-3.1 .2-10.3 .2-4.5 .3-3.4 .3-.7 .2 0 .3 3.2 .2-3.1 .3-6 .2 0 .3-.1 .2 4.5 .3-.1 .2 .2 .3-1.6 .2 2.1 .3-2.6 .3 3 .2 1.9 .3-.1 .2-1.8 .3-.1 .2 2.7 .3 1.6 .2 0 .3-1.6 .2 1.1 .3 1.8 .2 1.5 .3-.1 .3-3.8 .2 1.2 .3 1.6 .2 .3 .3 .5 .2-4.5 .3 2.5 .2 4.2 .3 2.1 .2-1.9 .3 3.1 .3 .6 .2 .6 .3 .6 .2-1.3 .3 .1 .2 2.9 .3-3.8 .2 .8 .3 3.4 .2 .7 .3 1.9 .2-1.6 .3 .7 .3 3.3 .2 4.7 .3 .6 .2-.6 .3 5.2 .2-.3 .3-1 .2-.6 .3-.9 .2-.3 .3 1 .2-1.8 .3-.2 .3-.3 .2 .8 .3-3.8 .2 1.5 .3-3.2 .2 .2 .3-1.1 .2 1.9 .3-6.9 .2 .8 .3-.2 .2-.4 .3-1.7 .3-1.3 .2-2.4 .3 0 .2-.2 .3-1.6 .2 1.4 .3-4.2 .2 2.6 .3-4.5 .2 2.3 .3-2 .2 1.9 .3-1.2 .3 5.7 .2-2.9 .3 .2 .2 1.9 .3 .6 .2-.5 .3-.6 .2 3 .3 2.3 .2-2.6 .3 2.8 .2-1.3 .3 2.8 .3 .1 .2-1.5 .3-2.6 .2-.3 .3 .3 .2-.2 .3 .1 .2-2.8 .3-2.7 .2 1.4 .3-1.1 .2-2.4 .3-3.4 .3 1.1 .2 1 .3-4.6 .2-.5 .3 3.4 .2-2 .3 1 .2-2.7 .3 3 .2-.8 .3 .2 .2 2.1 .3 1.5 .2 3.1 .3-2.2 .2-2.1 .3 5.8 .2-2.8 .3 4.4 .2-.5 .3-2.9 .2 1.7 .3-1.5 .2 1.5 .3 1.9 .2-1.5 0 3.6 .3-1.5 .2 3.4 .3 1.7 .2-1.7 .3 1.4 .2 1.7 .3-2.6 .2-.7 .3 4.5 .2 1.7 .3 4.3 .2-1.6 .3-10.2 .3 .9 .2-4.7 .3-2.6 .2-5.2 .3-4.4 .2-7 .3-3.4 .2 2 .3 .8 .2 1.4 .3-5.3 .2-.8 .3 2.9 .3 5.9 .2-8.7 .3-.4 .2-1.4 .3 1.9 .2-2.3 .3-3.4 .2 .9 .3 .2 .2-5.9 .3 .8 .2-2.8 .3-3.1 .3 .4 .2-2 .3-3.3 .2 .4 .3-2.5 .2-3.2 .3 .5 .2-2.2 .3 .4 .2-.2 .3-3.7 .2 1.8 .3-3.6 .3-5.4 .2 1.8 .3-3.6 .2-2 .3-7.1 .2-.6 .3-.9 .2-2.5 .3 1.9 .2 .9 .3 3.4 .2 .7 .3 4.8 .3-.5 .2 .8 .3 2.1 .2 .1 .3 4.3 .2 1.3 .3 2.5 .2-2.4 .3-2.8 .2-.8 .3-.6 .2-2.1 .3 3.8 .3-6.4 .2-1.2 .3 3 .2-7.5 .3-7.4 .2 6.2 .3-.7 .2-.2 .3 2.6 .2-2.3 .3 .1 .3 .6 .2 2 .3-2.8 .2 3.3 .3-3.1 .2 5.2 .3-4.4 .2 3.2 .3 0 .2 1.5 .3 1 .2-2.7 .3-.1 .3 1.1 .2-.4 .3-1.4 .2 3.2 .3 1 .2-2.6 .3-2 .2 2.1 .3-2.5 .2 .1 .3 1.3 .2-3.1 .3 3.2 .3-1.2 .2-1.3 .3 .2 .2-1.7 .3 1.6 .2 1.5 .3 2.1 .2 .3 .3-1.7 .2 2.8 .3-1.8 .2 3.7 .3-2.8 .3 1.8 .2-2.1 .3 3.3 .2-1.9 .3 2.3 .2 1.1 .3-.7 .2-.6 .3-2 .2 1.1 .3-1.3 .2 6.6 .3-5.7 .3 6.2 .2 1 .3-1.9 .2 2.3 .3 .4 .2 2.4 .3-1.4 .2 2.8 .3 2.5 .2-5 .3 1.3 .2 2.8 .3 3.8 .3-.2 .2 .5 .3 .2 .2 2.9 .3-3.2 .2-.5 .3-2.6 .2 5.6 .3-.5 .2-.7 .3 4 .2-4.4 .3 1.7 .3 .8 .2-2.2 .3-.6 .2 3.8 .3-.2 .2-3.9 .3 2.7 .2 2.9 .3-2.5 .2 1.6 .3-2.9 .2 .6 .3 .4 .3 2.5 .2-2.4 .3-3.9 .2 0 .3 2.2 .2-1.6 .3 .5 .2-2.3 .3 .8 .2 2.2 .3-2 .2 0 .3-.1 .3 6.1 .2-10.1 .3 2.4 .2-.6 .3 1.8 .2-1.6 .3 4.2 .2-2 .3-1.2 .2 1 .3-.9 .2 .3 .3-1.9 .3 .3 .2-7.2 .3 6.5 .2-7.3 .3 3.2 .2 1.6 .3-.3 .2-.7 .3-.9 .2 .3 .3 .3 .2-3.5 .3 2.8 .3-2.9 .2-2.7 .3-1.5 .2-4.6 .3 1.9 .2 1.1 .3 .9 .2 2.4 .3 0 .2-1.3 .3-3.4 .2 6.9 .3 0 .3-2 .2 2.3 .3-.4 .2 1.7 .3-.4 .2 1.6 .3-4.1 .2 3 .3-.9 .2-3.5 .3 2.6 .2-1.4 .3 8.5 .3-9.7 .2 .5 .3 4.7 .2-6.5 .3-.9 .2-.5 .3 .9 .2-1.7 .3-2.4 .2 3.7 .3-3.8 .3 6.9 .2-.4 .3-2.7 .2-1.7 .3 2 .2-1.4 .3 2.6 .2-3.3 .3 2.3 .2-2.5 .3-.2 .2-1.5 .3-2.4 .3 5.3 .2-4 .3 2.7 .2-1.4 .3-1 .2 1.9 .3 1 .2 3.3 .3-4.2 .2 .8 .3 .6 .2-.6 .3-.4 .3 2.2 .2-1.8 .3 .1 .2 .2 .3 .2 .2-.9 .3 1.4 .2-.8 .3 3.4 .2-1.5 .3-.7 .2-.5 .3 1.7 .3-3.7 .2 1.4 .3-1.7 .2-1.7 .3 1.1 .2-2 .3 5 .2-.8 .3 2.1 .2-1.5 .3-1 .2 4.9 .3-4.4 .3-2.8 .2 5.7 .3-1.1 .2 2.1 .3-5.5 .2 4.8 .3 2.9 .2-.3 .3-1.7 .2 2 .3 .1 .2-4.6 .3 3.8 .3-.8 .2 2 .3 1.1 .2-2.9 .3 1.2 .2 4 .3-2.3 .2-.5 .3-.1 .2-3.7 .3 4.3 .2-.4 .3-.1 .3-3 .2-.4 .3-1.4 .2 1.8 .3-.9 .2 1.2 .3 .8 .2 1.6 .3-3.7 .2-2.1 .3 4 .2-3.7 .3 2.1 .3-1.8 .2 .9 .3-2.6 .2-.5 .3 4 .2-.8 .3-1.6 .2 2.1 .3-3.6 .2 1.2 .3 2.5 .2-3 .3 1.5 .3-3.2 .2 3 .3-.6 .2-.5 .3-1.8 .2-1.6 .3 2 .2-1.4 .3 .6 .2 1.8 .3 .8 .2 .1 .3 0 .3-2 .2-.7 .3 3.9 .2 3.4 .3-4 .2-1.5 .3 .8 .2-.2 .3 .4 .2 1.3 .3-.6 .2-1.1 .3-2.1 .3 3.5 .2 3.6 .3-4.7 .2-2.5 .3 7 .2-2.8 .3-.8 .2-1.4 .3 6.2 .2-.9 .3 .6 .2-1.1 .3-2.6 .3 .3 .2 3.2 .3-1.3 .2-1.2 .3-2.4 .2-1.3 .3 1.1 .2-3.8 .3 2.4 .2-.9 .3-2.1 .3 .5 .2 1.1 .3-4.4 .2 .8 .3-.3 .2-1 .3-.5 .2 .7 .3-.3 .2-2.8 .3-.6 .2 3.4 .3-4.2 .3 .5 .2 .6 .3-2.1 .2 7.1 .3-1.9 .2 0 .3-1.6 .2 3.8 .3 2 .2-5.2 .3 3.9 .2 10.4 .3-8.9 .3-1.6 .2-.4 .3 .2 .2-1.3 .3 .7 .2-2.3 .3 .3 .2 .6 .3 3.2 .2-4.8 .3 2 .2-1.4 .3 3.8 .3-1.7 .2-2.5 .3 1.2 .2 .9 .3-1.2 .2-3.1 .3 .2 .2-.6 .3 .3 .2 6.5 .3-4.8 .2 6 .3-3.2 .3 5.8 .2-2.8 .3 1.8 .2 .6 .3 .6 .2-1.4 .3 3.7 .2-.5 .3 2.6 .2 .2 .3-.5 .2-2.5 .3 5.3 .3 .3 .2 2.8 .3-5.2 .2 5.2 .3-2.3 .2 3.9 .3-1.1 .2 1 .3-5.9 .2 2.6 .3-1.9 .2 4.9 .3 0 .3-.9 .2-1.4 .3-4.4 .2 1 .3-3.3 .2-4.8 .3 1.4 .2-3.8 .3-3 .2-3.4 .3 2.2 .2-7.6 .3-.2 .3-4.5 .2-2.1 .3-1.7 .2 5.2 .3 0 .2 .9 .3 3.5 .2 1 .3 1.7 .2 1.3 .3 2.6 .2-1.5 .3 5.8 .3-5.9 .2 .6 .3-3 .2 2.9 .3 .9 .2-.9 .3-2.3 .2 2.6 .3 .6 .2-4.2 .3 .3 .2 .7 .3-.7 .3 2.1 .2-3.7 .3 4.9 .2 .3 .3-3.3 .2 4.6 .3-5.1 .2-.5 .3 3.4 .2 .2 .3-.7 .2 4.2 .3-4.8 .3 2.6 .2-2.7 .3 1.2 .2-3.3 .3 6 .2-3.6 .3 4.1 .2 .1 .3-1.3 .2-.8 .3 1.7 .2-1.5 .3 1.3 .3 .3 .2-.4 .3 3.6 .2-5 .3 2 .2 .9 .3-.5 .2-2.7 .3 .4 .2-.9 .3-1.2 .2-.3 .3 2.1 .3-1.6 .2 0 .3 .2 .2 2.1 .3-1 .2-2.6 .3 2.7 .2-.2 .3 5.2 .2-3.6 .3 8.1 .3-6 .2 3.2 .3 0 .2 .5 .3-3.9 .2 4.1 .3-4.6 .2 .8 .3 3.7 .2-1.8 .3-.1 .2 .3 .3 3 .3-2.4 .2 2.4 .3 0 .2-1 .3-.2 .2-3.3 .3-.3 .2 .5 .3-4.8 .2-1.5 .3 .8 .2-2.7 .3-1.6 .3-2.1 .2 2.6 .3-1.2 .2 4.5 .3-1.8 .2 2.6 .3 2.6 .2 .9 .3-1.6 .2 3.5 .3 4.1 .2-4.3 .3 4.3 .3 .2 .2-1.8 .3 2.2 .2-4.8 .3 1.7 .2-2.3 .3-1.7 .2 .8 .3-2.7 .2-1.7 .3 .3 .2-2 .3-1.7 .3 3.8 .2-2.9 .3 .5 .2 .5 .3-2.4 .2 6.8 .3-.7 .2 1.7 .3-4.2 .2 2.1 .3 3 .2-.7 .3 5.6 .3-2.7 .2-1 .3 .3 .2-3.6 .3 1.2 .2 4.2 .3-.5 .2-.8 .3 .7 .2 .4 .3 .4 .2-3 .3-3.6 .3-2.3 .2 1.7 .3-.7 .2-1.2 .3 1.1 .2-.4 .3 1.1 .2-2.9 .3-.1 .2-1.2 .3-1.9 .2 2.1 .3-4.4 .3-1.1 .2 .4 .3-1.1 .2-4.3 .3 4.7 .2-1.2 .3-.4 .2 1.9 .3-3.2 .2-1.6 .3-.2 .2-.7 .3 .1 .3 0 .2 .6 .3 .5 .2 .7 .3 1.3 .2-2.8 .3-2.1 .2 2.6 .3 4.3 .2-2.8 .3-.2 .2-2.5 .3 4.8 .3 .5 .2-1 .3 1.3 .2 .8 .3 2.4 .2 .1 .3 2.7 .2 1.5 .3-.8 .2 1.1 .3 1 .2-.4 .3-.3 .3 2.8 .2 3.4 .3 .1 .2-.1 .3-1.5 .2 1.3 .3 .7 .2-1.9 .3 5.2 .2-2.8 .3 .4 .2 3.4 .3-.1 .3 .3 .2 .2 .3 1.9 .2 1.5 .3 4.1 .2 1 .3 2.2 .2 1.8 .3 1.3 .2 .3 .3 1.1 .2-1.4 .3-.8 .3-1.8 .2-2.8 .3 3.8 .2-4.8 .3 3.5 .2-5.1 .3 3.6 .2-6.6 .3 4.6 .2-.3 .3-3.5 .3 .5 .2 2.9 .3 3.9 .2 3.4 .3-6.8 .2 8.6 .3-1.1 .2 4.2 .3 2.1 .2-.9 .3 3 .2 .5 .3 3.2 .3 .4 .2-2 .3 2.2 .2 2.3 .3-.1 .2 1.8 .3 4.1 .2-3.1 .3-.2 .2-2.5 .3 4.1 .2 3 .3-.4 .3-1.5 .2 3.1 .3 1.4 .2-.3 .3 1.3 .2 1.5 .3 0 .2 1.3 .3-1.7 .2 4.1 .3-1.7 .2-1.1 .3 0 .3 3.2 .2-1.6 .3-2.5 .2-.6 .3-4.9 .2 2.2 .3-4.9 .2-3.8 .3 0 .2 .7 .3-5.9 .2 2 .3-3.1 .3 7.4 .2-6.4 .3 9 .2-3 .3 5.9 .2-.5 .3 1.9 .2 6 .3 3.2 .2-2.8 .3-1.3 .2 3.7 .3 3.2 .3 .5 .2 2.6 .3-2 .2 .2 .3 3.6 .2-.9 .3 2.2 .2-.7 .3 2.6 .2 3.1 .3 .2 .2-.5 .3 0 .3 3.2 .2-2.5 .3 .1 .2 4.9 .3-2.1 .2 1.9 .3 1.6 .2-6.7 .3-2.6 .2 1.9 .3-5.7 .2 2.8 .3-5.5 .3 4.2 .2-5.3 .3 .8 .2-7 .3 1.2 .2-.4 .3-1.1 .2 2.4 .3-1 .2 1.2 .3-.7 .2 0 .3-3.1 .3 .8 .2-4.2 .3 .9 .2 1.1 .3 3.7 .2 3.8 .3 3.7 .2 4.6 .3 .9 .2 3 .3-.5 .2 5.2 .3 2.3 .3 1.1 .2-2.9 .3 3.3 .2-1.1 .3 5.5 .2-.5 .3 3.5 .2-1.1 .3 3.1 .2 .6 .3 .4 .2-2 .3-.2 .3-.9 .2-.6 .3 .9 .2-1.8 .3 .1 .2 .4 .3-1 .2 3.9 .3-1.9 .2-3.3 .3-2.1 .2 3.2 .3-2.1 .3-.7 .2-2.1 .3-.9 .2-.6 .3 1.7 .2 1.2 .3 2.2 .2-5.5 .3-2.6 .2 .1 .3 5.5 .2-.2 .3-2 .3-3 .2 1.7 .3-3.3 .2 1.7 .3-1.1 .2-1.2 .3-1.6 .2 .8 .3 .7 .2-2.2 .3-3.5 .3 1.6 .2-2 .3 1.2 .2-5.7 .3 .8 .2-.7 .3 .6 .2 .2 .3 6.3 .2-6.2 .3 7.3 .2-4.6 .3 3.6 .3 2.6 .2-2.8 .3 4.7 .2-3.5 .3-1.7 .2 2.5 .3 3.2 .2-1.4 .3 1 .2-3.3 .3-3.6 .2 3.5 .3 .5 .3-.6 .2-1.6 .3-.9 .2 3.3 .3-.3 .2-1.8 .3 .8 .2 .3 .3-3.6 .2 1.9 .3 .4 .2-.9 .3-1.3 .3 1.1 .2 0 .3 2.8 .2-2.6 .3-5.2 .2 3.4 .3 .1 .2-5.7 .3 5.4 .2 2 .3-1.9 .2 2.1 .3-1.2 .3 1.5 .2 1.6 .3-.4 .2-.3 .3-.5 .2-1.3 .3 4.8 .2-1.7 .3-1.3 .2 2.1 .3-.9 .2-.8 .3-.2 .3-2.6 .2 2.7 .3-.6 .2-.5 .3 2.3 .2-.5 .3 .6 .2-4.2 .3 1 .2-1.6 .3-1.3 .2 0 .3 0 .3-1.4 .2 3.2 .3-1.9 .2-1 .3 .1 .2 .3 .3 3 .2 1.1 .3 .1 .2 2.3 .3-4.6 .2 .2 .3-3.4 .3-1.3 .2 6.8 .3-1.2 .2-.8 .3-1.6 .2 2 .3 1.9 .2-1.1 .3-2.1 .2 .5 .3-2.9 .2 2.9 .3-2.1 .3 2.8 .2 2 .3-1.5 .2 .3 .3 0 .2 1.3 .3-.3 .2-.5 .3 5.7 .2-5.4 .3-2.5 .2 .6 .3 1 .3-1.5 .2 4.8 .3 .1 .2-1.9 .3 1.5 .2-2.2 .3 3.8 .2-1.7 .3 .7 .2-2.9 .3 3 .2 1 .3-2.1 .3 5.6 .2-6.4 .3 2.9 .2-.2 .3-2.5 .2 1.5 .3 1 .2-1 .3 .2 .2 1.4 .3-2.6 .2-1.1 .3-.7 .3 2.2 .2 .6 .3 .4 .2 3.3 .3 0 .2-4.6 .3 2.4 .2 2.1 .3-2.5 .2 2.7 .3-3.9 .2 2.7 .3 1.1 .3-2.1 .2 3.4 .3-10.1 .2 8.8 .3 .4 .2 .2 .3-.3 .2 2.3 .3 5.6 .2 1.8 .3-4.9 .3-.1 .2 2.4 .3 .8 .2 1.3 .3 3.6 .2-.5 .3-.2 .2-1.5 .3-3.7 .2 1.2 .3-4.5 .2 4.5 .3-3.9 .3-1.2 .2 .4 .3-3.1 .2 3.5 .3-3.1 .2 .8 .3-.9 .2-3.4 .3 .8 .2-1.8 .3 4.2 .2-4.4 .3 .9 .3-1.1 .2 2.6 .3-3.6 .2 .5 .3-2.2 .2 1.3 .3 3.2 .2-1.5 .3 4.4 .2-5.5 .3-1.9 .2 .9 .3 2.7 .3-2.8 .2-1 .3 4.2 .2 .6 .3-.1 .2 3.6 .3-3.6 .2 1.4 .3 .7 .2 3.7 .3-1.3 .2 1.1 .3-3.1 .3 2.5 .2 2.5 .3 .2 .2-.4 .3 4.2 .2-.9 .3-1.7 .2-.9 .3 .1 .2 .6 .3-1.8 .2-4.3 .3 2.3 .3-.6 .2-3.4 .3 .3 .2-3.4 .3 .1 .2-4 .3-2.7 .2 2.6 .3-1.5 .2 6.6 .3-4 .2-4.7 .3 4.3 .3 1.7 .2-.7 .3-.9 .2 .9 .3-1.1 .2 1.3 .3 2 .2-.4 .3-2.6 .2 2.5 .3-4.4 .2 3.6 .3-4.1 .2 3.2 .3 .7 .2 3.3 .3 1.2 .2-7.5 .3 6.3 .2-4.8 .3 2.4 .2-.1 .3-1.6 .2 .6 .3-3.4 .2 1.7 .2 2.6 .2 8.1 .3 1.8 .2 1.1 .3 0 .2 0 .3 3.5 .2 2.5 .3-4.2 .2 .6 .3 1.2 .2 2.7 .3-3.7 .2-1.1 .3 5.2 .2 1.1 .3 2.1 .3-1.3 .2 .5 .3 1.1 .2-1 .3-.6 .2-2.5 .3-.7 .2-2.2 .3-1.6 .2 0 .3-.6 .2-2.1 .3-1 .3-1.6 .2 5.7 .3-5.8 .2 2 .3-2.3 .2-4 .3-6.4 .2 6 .3-2.1 .2-1.1 .3-.1 .2-.7 .3-2 .3-.5 .2-3.7 .3 2.9 .2-3.8 .3 1.4 .2 3.7 .3-1.4 .2 1 .3-.3 .2 .1 .3 4.4 .2-.5 .3-.1 .3 3.1 .2-.8 .3 7.7 .2-2.7 .3 1.4 .2 .3 .3-4.6 .2 .4 .3-.7 .2 3.6 .3 1.1 .2-1 .3 0 .3-3 .2-1.6 .3-2 .2 0 .3 1.6 .2 .5 .3-2.1 .2-.2 .3 4.4 .2-2 .3 .2 .2-1.1 .3-.8 .3 1.1 .2-.1 .3-.8 .2 .2 .3 3.6 .2-2.7 .3-1.5 .2 2.9 .3 1.4 .2-2.6 .3-.5 .3-1.9 .2-.5 .3 2.3 .2-1.9 .3-2.4 .2-.5 .3 1.1 .2 1.2 .3-3.7 .2-1 .3-.3 .2-.4 .3 3.3 .3 .5 .2 1 .3 .8 .2-2.8 .3 5.2 .2-3.6 .3 4.3 .2 1.9 .3-2.1 .2 2.1 .3-2.1 .2 1.4 .3-.3 .3 2.9 .2-4 .3-4.8 .2-1.5 .3 2.4 .2-1.2 .3 .9 .2-4.6 .3 1.7 .2 3.2 .3-3.3 .2-1.6 .3-1.3 .3 1.5 .2 2.1 .3-3.3 .2-3.2 .3 2.6 .2 .1 .3-2 .2 1.6 .3-7.5 .2 11.8 .3-3.3 .2 1.2 .3 .3 .3 1 .2-1.6 .3 .7 .2 2.7 .3-2.2 .2-.1 .3 .7 .2 5.4 .3-5.1 .2 1.1 .3-1.2 .2 1.6 .3 1.1 .3 1.4 .2 2.7 .3 2.3 .2-3.7 .3 .4 .2 1.4 .3-.2 .2-.5 .3-2.5 .2-.4 .3-1.8 .2 4.3 .3-4.1 .3-1.3 .2-1.3 .3 1.6 .2-1.9 .3-1.7 .2 3.3 .3 9 .2-5.1 .3-.5 .2-4.2 .3 2.8 .2 .1 .3 .1 .3-2 .2-1.6 .3 2.6 .2 .9 .3 2.5 .2-.9 .3-1 .2-1.4 .3 2.4 .2-3.1 .3-.8 .2 2.8 .3 .6 .3-.8 .2-.6 .3 1 .2-1.7 .3-2.8 .2 1.2 .3 2.6 .2 1.6 .3-5.6 .2 1.7 .3-.3 .2 .4 .3-.9 .3 2.4 .2 2.2 .3-.1 .2-.7 .3-2.3 .2 1.1 .3-1 .2 .6 .3-.4 .2-.8 .3-.7 .2 5.3 .3-.9 .3-1.9 .2 1.1 .3 1.4 .2 2.5 .3-.8 .2 .1 .3 2.6 .2-2 .3 3.8 .2-4.7 .3 2.1 .2-1 .3 1.3 .2 .1 .3 0 .2 3 .3-1.8 .2-.7 .3 1.5 .2-.2 .3-.1 .2 1.9 .2-.2 .3-1.5 .2 1.7 .3 6.5 .2-.4 .3-2.7 .2-1.2 .3-2.1 .2 .5 .2-6.5 .3 3 .2-.3 .3-2.5 .2-1.3 .3-1.2 .2-2.3 .3-1.7 .2 1.1 .3-.2 .2-2.6 .3 .9 .2-4.3 .3 1.4 .2-2.5 .3 .4 .2-1.7 .3-3.1 .2-.8 .3 1.8 .3-.6 .2-6.9 .3 3.2 .2 1.3 .3-5.4 .2 .9 .3-3.1 .2-6 .3 1.9 .2-2.7 .3-2.4 .2-.4 .3 1.5 .3-3.7 .2-2.2 .3 2.3 .2 .5 .3 .6 .2 1.8 .3-1 .2 2.1 .3 3.1 .2 1.2 .3-.5 .2-.1 .3 2.9 .3-.7 .2 .9 .3 3.8 .2-1.3 .3 .4 .2 7.4 .3 3.1 .2 2.9 .3 1.1 .2-4.5 .3 .7 .2-1.1 .3-.7 .3-3.6 .2-1.3 .3 .2 .2 .1 .3-2.6 .2 3.7 .3-1.4 .2-2 .3 5.5 .2-4.3 .3 2.7 .2 2.5 .3-3.3 .3 2.3 .2 .9 .3-2.2 .2 2.8 .3-.6 .2 .7 .3-2.7 .2-.8 .3 0 .2 1.3 .3 .4 .2 1.5 .3 1.6 .3-.4 .2-1.5 .3-2.3 .2 4.9 .3-1.6 .2 3.8 .3-.6 .2 .6 .3 1.8 .2 .8 .3-2.6 .2 .9 .3 3 .3-.6 .2 .9 .3 3.8 .2 .9 .3 3.7 .2-.3 .3-.4 .2 2.1 .3 1.5 .2 2.3 .3 .4 .2-1.1 .3 3.4 .3 .5 .2-1.7 .3 2.4 .2 1.7 .3 1.6 .2 .6 .3-1 .2 1 .3 .9 .2-4 .3 .5 .2-5.6 .3-1.2 .3 3.7 .2-3.7 .3 1.3 .2 4.4 .3-3 .2 .6 .3 .9 .2 5.1 .3-3.4 .2 5.3 .3 .3 .2-.8 .3 1.8 .3 4.3 .2 1.2 .3-1.3 .2 1 .3 .4 .2 1.5 .3-1.9 .2-1.1 .3-3.1 .2-4.1 .3-.7 .2 3.1 .3-1.9 .3-.5 .2-2.8 .3 4.5 .3 2.9 .2-5.5 .3 .4 .3 2.6" fill="none" stroke="#0173b2" stroke-width="1.6" stroke-linejoin="round"/>
<path d="M135.5 583.1l.3 4.4 .3 1.6 .2 .3 .3 .3 .2 2.8 .3 6 .2-6.4 .3 1.9 .2-.4 .3-1.7 .2-.3 .3-1.8 .2 1.7 .3-.8 .2 4.9 .3 .7 .2 2.2 .3-1 .2 .9 .2 4.9 .3-.9 .2-1.2 .3 3.2 .2-3 .3-1.9 .2 3.5 .3-2.7 .2 3.2 .3-3.1 .2-.4 .3-.5 .2 1.3 .3-1.3 .2 4 .3-2.4 .2-1.5 .3-.2 .2 .2 .3 3.4 .2-2.1 .2 3.6 .3 3.3 .2 1.5 .3 .7 .2 3.5 .3-1.7 .2 2.7 .3 .8 .2-.7 .3 2.2 .2-1.2 .3 6.5 .2-1.1 .3 3.1 .2 1.1 .3 2.6 .2 4.3 .3-4.1 .2 5.5 .3-.1 .2 1.9 .3-1.1 .2 2 .3-3.2 .2 1.9 .3-2.1 .2 .7 .3 2.3 .3-1.1 .2-.2 .3 1.6 .2-3.2 .3 2.5 .2 1.2 .3-1.3 .2 1.3 .3-.9 .2 4.4 .3 2.3 .2-.8 .3 .4 .3 5 .2-2.4 .3 .5 .2 .8 .3 3.9 .2 3.8 .3-1.1 .2 .5 .3-1 .2-1.4 .3 3.8 .2 1.8 .3-.8 .3-1.9 .2 2.3 .3 3.1 .2-1.1 .3 1.3 .2-1.7 .3 1.5 .2 1.3 .3-3.9 .2-1.5 .3 5.7 .2-.6 .3 1.4 .3 .6 .2-2.1 .3 .9 .2-2.6 .3-1 .2-.1 .3-.5 .2-4.1 .3-1.2 .2-2.5 .3 .7 .2 .8 .3 0 .3-1.3 .2-.7 .3 2.1 .2-2.6 .3 .2 .2-2.5 .3 3.9 .2 2.4 .3-2.1 .2 3.3 .3 1.1 .2 1.5 .3-.4 .3 3.1 .2-2.8 .3 4.4 .2 3 .3-9.3 .2 7.8 .3 1.9 .2-3.9 .3 5 .2-.8 .3-1.1 .2-2.1 .3 .8 .3 8.9 .2-8.8 .3 2.8 .2 3.5 .3-2.3 .2 2.3 .3-6.1 .2 9.2 .3-5.4 .2 .7 .3 1.5 .2-2.5 .3 .3 .3-.8 .2-3.4 .3 1.6 .2 .8 .3 2.3 .2-4.5 .3 4.3 .2 .3 .3-1.2 .2 0 .3-3.9 .2 1.2 .3 0 .3-1 .2 2.5 .3 3.9 .2-1.7 .3 2.5 .2 .9 .3-2.7 .2-1.2 .3-.4 .2 2.3 .3-1.8 .2-2.6 .3 3.5 .3 .7 .2-1.8 .3 .9 .2 .6 .3-3.7 .2 4.2 .3 2.3 .2-1.2 .3 .6 .2-2.5 .3 1.3 .3 4.9 .2-2.5 .3-1.9 .2-.1 .3 .9 .2 3.2 .3-4.4 .2 4.4 .3-1.1 .2 1 .3 .9 .2-.8 .3-1.8 .2-4.2 .3-2.7 .2 2.8 .3-4.3 .2-1 .3-5.8 .2-4.7 .3 4.6 .2-3.7 .3-.3 .2-2.4 .2-1.1 .3-1.8 .3 4.5 .2 4.5 .3-1.5 .3 10.6 .3-5.8 .2 4 .3 2.1 .2-4.8 .3 5.3 .2-4.3 .3 1.7 .2-.8 .3-1.3 .3-.2 .2-3.3 .3 2.2 .2 2.2 .3-3.7 .2 5.4 .3-3.1 .2 .5 .3-2 .2-1 .3-3.2 .2 2.6 .3 1.6 .3-1.4 .2 2.3 .3-5.5 .2 2.4 .3 1.5 .2-.3 .3 3.7 .2-3.8 .3-.3 .2-2.4 .3 1.4 .2-1 .3 2.3 .3-2.7 .2 1.6 .3 .8 .2-1.2 .3 .6 .2-2.5 .3 .4 .2-3.4 .3 2.6 .2-1.8 .3-3.3 .2-2.4 .3 2.6 .3-2.4 .2-.5 .3-2.1 .2-1.2 .3-1 .2 3.5 .3-4.4 .2-2.7 .3-6.4 .2 4.7 .3 2.2 .2-1.6 .3 .6 .3 2.5 .2 1.5 .3-.1 .2-.4 .3-.1 .2 .3 .3-2.7 .2 3.1 .3 2.3 .2-1 .3 1.1 .2 0 .3-1.6 .3-.4 .2-8 .3-2.1 .2-2.9 .3-2.5 .2-2.6 .3-5.5 .2-3.1 .3-8.5 .2 1.2 .3-3.5 .2-2.8 .3 4 .3 8 .2 3.4 .3 1.7 .2 7.1 .3 4.8 .2 2.2 .3 7.4 .2 .6 .3 1 .2-3.8 .3-.8 .2 .9 .3 8.1 .3-4.3 .2 .8 .3-.6 .2-.5 .3 4.4 .2-5.1 .3 3.7 .2-3.6 .3-.5 .2-.7 .3 3.2 .2-5.7 .3 3.1 .3-.2 .2-2.3 .3 .2 .2 1.6 .3 .1 .2-1.3 .3-3.4 .2 .2 .3-.3 .2 1.4 .3 .6 .3-5.6 .2 3.9 .3 0 .2-1.4 .3-1.6 .2 1.8 .3 1.7 .2-3 .3-.1 .2 2.8 .3-2.6 .2-1.8 .3 1.8 .3-1.9 .2-4.3 .3-.1 .2 1.2 .3 1.7 .2-4.9 .3 2.9 .2-1.4 .3-1 .2 1.7 .3-1.1 .2 1.3 .3-3 .3 4.5 .2-1.6 .3 5.5 .2-.4 .3 5.4 .2-.9 .3 2.3 .2 3.9 .3-3.3 .2 7.3 .3-1.1 .2 .7 .3-2.9 .3 2 .2-2.7 .3-3.6 .2-3.4 .3 1.2 .2-.8 .3-4.9 .2 1.4 .3-4.3 .2 1 .3 .6 .2-4.3 .3-4.4 .3 3.1 .2-2.4 .3-.2 .2-.2 .3 4.1 .2-1.3 .3 2.4 .2-1.1 .3 3.8 .2-.8 .3 2.8 .2 1.3 .3-1.1 .3 4.2 .2-.8 .3 3.5 .2-1.3 .3 1 .2-3.3 .3 0 .2-.8 .3-5.4 .2 8.1 .3-.1 .2-6.1 .3 3 .3-5.8 .2 3.9 .3 0 .2-1.2 .3 1.5 .2-6.6 .3 3.1 .2 2 .3-1.5 .2 1.1 .3-5.9 .2 3.8 .3 .6 .3-1.3 .2-.5 .3 2.4 .2-4.1 .3 4.3 .2-6.6 .3 2.6 .2 3.4 .3-4.3 .2-2.2 .3 2.7 .2-5.6 .3 1.4 .3 2.8 .2-1.9 .3 3.3 .2-3.9 .3 2.5 .2-3.7 .3 .1 .2 1.7 .3-1.6 .2 4.3 .3 2 .2-1.7 .3 2.7 .3 2.4 .2 .8 .3-3.4 .2 7.3 .3-1.5 .2 4 .3-.1 .2 4.8 .3-1 .2 4.5 .3-.1 .2 2.5 .3-1.3 .3-1.4 .2-3.3 .3 2.1 .2-4.8 .3-2.2 .2 1.3 .3-3.3 .2-4.9 .3-2.5 .2 2.4 .3 0 .2-3.7 .3-1.8 .3 2.8 .2 2.2 .3-4.2 .2 2.5 .3 2.7 .2-1.8 .3 .8 .2 1.2 .3 1.1 .2 10.8 .3-9.9 .2 1 .3 1.7 .3 .8 .2 .3 .3-1.1 .2-.2 .3-1.7 .2-2.1 .3 .2 .2-3.2 .3-1.5 .2 .2 .3-1 .3 2.4 .2-.2 .3-3.3 .2-.1 .3-1 .2-2 .3 .3 .2 1.8 .3-3.4 .2 1.1 .3 .8 .2-5.3 .3 2 .3-.7 .2 2.6 .3-1.4 .2 .7 .3 1 .2-1.2 .3 .3 .2 .7 .3 2.9 .2-7.3 .3 3.4 .2-3.8 .3 1.7 .3-.8 .2 2.1 .3-2.9 .2-.3 .3 2 .2 3.1 .3-2.9 .2 2.6 .3 .5 .2 2.9 .3 3.7 .2-2.4 .3 3.6 .3-4.3 .2 1.7 .3 1.3 .2 2.5 .3-2.1 .2 5.5 .3-4 .2 2.5 .3-1.2 .2 3.4 .3 .4 .2-.1 .3 3.1 .3-3.3 .2-2.1 .3-.6 .2-.8 .3 1 .2 5.8 .3-4 .2-1.9 .3 .8 .2 1.9 .3-.4 .2-2.1 .3 1.6 .3-.9 .2 2.6 .3-3.1 .2 .3 .3-.4 .2 2 .3-4.4 .2-.3 .3 2.3 .2-4.5 .3 .2 .2 4 .3-7.9 .3 .5 .2 2.3 .3-3.6 .2-5 .3 5.5 .2 .3 .3-2.2 .2 .5 .3 .7 .2-.6 .3-3.7 .2-1.5 .3 4.6 .3-1.3 .2-.8 .3-2.9 .2-.4 .3 1.7 .2 2.6 .3 1.7 .2-2.8 .3 1.8 .2 1.7 .3 9.5 .2-6.7 .3-3.6 .3 5.4 .2 2.4 .3-4.9 .2-.3 .3-.6 .2 3.3 .3 .9 .2 0 .3-.9 .2 .8 .3-1.5 .2-1.2 .3 .2 .3-.4 .2 0 .3-1.4 .2-.8 .3-1.9 .2 2.8 .3 .1 .2 2.3 .3-3 .2 2.9 .3 3.1 .2-2.9 .3 1.1 .3 2.1 .2-2.9 .3 2.2 .2 .6 .3 1.7 .2 2.2 .3-4 .2 3.6 .3-2.1 .2 .4 .3-1.1 .2 5.4 .3-1.3 .3-2 .2-.9 .3 1.4 .2-2 .3 7.9 .2-6.5 .3-.5 .2 .2 .3-.1 .2-4.2 .3 1.2 .2-.4 .3-.9 .3-3.4 .2 3.5 .3-3.4 .2-1.6 .3 1 .2 1.4 .3 1.8 .2-5.2 .3 4.5 .2-2.5 .3 2.3 .3 3.7 .2-.1 .3-3 .2 3.5 .3 1.9 .2-1.9 .3-1.3 .2 2.9 .3 2.1 .2 1.2 .3-6.8 .2 5.9 .3-1.6 .3-.3 .2 6.5 .3-2.2 .2-.8 .3 2.5 .2 .2 .3-2.2 .2 2.4 .3 1.3 .2 2.2 .3-1.6 .2 .1 .3 1.2 .3 .9 .2-1.9 .3 4.6 .2 2 .3 2.6 .2 .7 .3-.9 .2 4.7 .3-1.4 .2 1.6 .3-4.4 .2-.2 .3-1 .3 .6 .2-4.4 .3 1.9 .2-2.3 .3-.5 .2-2 .3 1 .2-3.7 .3 .7 .2-5.8 .3 .3 .2 .3 .3-.8 .3-.4 .2-2.2 .3 .4 .2 2.3 .3 1 .2-4.9 .3 .4 .2 3.2 .3-1.9 .2-.4 .3-1.2 .2 2.2 .3-4.4 .3-.2 .2-.5 .3 .5 .2 1.3 .3-4.1 .2 .5 .3 .6 .2-1.4 .3-.1 .2-3.8 .3-2.4 .2 2.3 .3-4.2 .3 .6 .2-.9 .3-4 .2-2 .3-.3 .2 1.7 .3-.8 .2-1.9 .3-2.8 .2 .5 .3-3.5 .2-2.5 .2 .2 .3-6 .2 1.3 .3-5.8 .2 5.1 .3-6.5 .2-5.1 .3 1.4 .2 3.1 .3 1.8 .2-.3 .2-.2 .3 6.8 .2-.8 .3-.6 .2 2.5 .2-.3 .3 1.5 .2 2.7 .3 5.1 .2 2.9 .3 .8 .2 4.2 .3 1.2 .2 7.3 .3-3.3 .2 3.2 .3 3.1 .3 1.6 .2 2.3 .3 2.1 .2 .3 .3-2.5 .2-1.6 .3-.4 .2-2.3 .3-3.8 .2 5.1 .3 .3 .2-1.8 .3-1.1 .3 .1 .2-2.9 .3 1.5 .2-.8 .3-4.5 .2 4.2 .3-1.3 .2 4.3 .3-4.7 .2 .8 .3 1.8 .2-5.9 .3 1.4 .3-2.6 .2-1.7 .3-1.4 .2 1.1 .3-1.9 .2 1.9 .3 .7 .2-.3 .3 4.8 .2-3.8 .3 2.6 .2-5.6 .3 5.4 .3 .2 .2-.4 .3-.7 .2 3 .3-.1 .2-1.3 .3-1.7 .2 7 .3-.3 .2-6 .3 2.4 .3 .3 .2 .8 .3-2.2 .2-1.2 .3 3.4 .2-2.8 .3 .3 .2 .5 .3-1.6 .2 .8 .3-3.7 .2 1.1 .3-3 .3 6.6 .2-2 .3 1.4 .2-.5 .3 3.2 .2-3.4 .3 1.9 .2-.7 .3 .8 .2 0 .3-1.1 .2-.6 .3 1.4 .3 .6 .2-1.5 .3 3.1 .2-.9 .3 1.6 .2-4 .3 2.6 .2 2.9 .3-5.1 .2 3.3 .3-.1 .2 2.3 .3-.2 .3-3.3 .2-.9 .3 2.2 .2 .8 .3-.8 .2 .3 .3-1.2 .2 3.3 .3-.6 .2 .3 .3 4 .2-2.7 .3-.5 .3 .7 .2 .9 .3-3.1 .2 3.7 .3 .2 .2-.2 .3-4.7 .2 4.4 .3-1 .2 .5 .3 1 .2 .6 .3-2 .3 1.2 .2 .5 .3-2.2 .2 0 .3-2.1 .2 .8 .3 1.1 .2 .9 .3 .7 .2 2.1 .3-.7 .2-1.4 .3 1.8 .3 .9 .2-1.5 .3 4 .2-3.1 .3 4.5 .2-2.4 .3 3.3 .2-.5 .3 1.7 .2-1.7 .3 1.9 .2 .1 .3-3.4 .3 2.4 .2-1 .3 1.9 .2-.7 .3 1 .2-.9 .3-2.3 .2 1.2 .3 2.1 .2-1.9 .3 .1 .2-.5 .3 1.9 .3-6.6 .2 5.9 .3-5.1 .2-1 .3-1.3 .2 5.7 .3-1.3 .2 12.7 .3-12.3 .2-1.8 .3 .6 .2 .2 .3-3.6 .3-1.8 .2 1.6 .3-1.2 .2-.3 .3 .4 .2 .5 .3 .2 .2-5.6 .3 5.6 .2-6 .3 2.9 .2-.1 .3-2.5 .3-1.1 .2-.7 .3-.7 .2 3.5 .3-1.5 .2-4.2 .3 1.2 .2 .1 .3 1.9 .2-.4 .3-.3 .2 .6 .3 3.4 .3-3 .2 5.2 .3-4.3 .2 6.2 .3-1.4 .2 .1 .3 1.1 .2-5.6 .3 1.9 .2-3.7 .3-1.4 .2-1 .3-4 .3-.8 .2-4.8 .3-1.2 .2-1.3 .3 .5 .2 1.3 .3 1.2 .2-3.4 .3-2.7 .2 3.5 .3-.8 .3-.7 .2-1.6 .3-1.7 .2 2.7 .3-1 .2 2.5 .3-2.7 .2-1.6 .3-1 .2-.1 .3 2.8 .2-1.9 .3 1.8 .2-5.2 .3-1.3 .2 6.6 .3-3.9 .2 2.2 .3 .2 .2-2.7 .3 0 .2 1.1 .3-1.3 .2 .1 .3 .4 .3-.9 .2-2.3 .3 1.4 .2-.1 .3 1.3 .3 2.2 .2-3.6 .3 1.6 .2-2.6 .3 .4 .2-6 .3 2.6 .2 .6 .3-.2 .2-1.6 .3-.9 .2-3.8 .3 8.2 .2-8 .3 2.1 .3-.6 .2 1.4 .3-3.9 .2 1 .3 2.6 .2-.2 .3 1.6 .2 4.4 .3 1.2 .2 2.7 .3 .8 .2 1.8 .3-1 .2 2.3 .3 2.5 .2-.9 .3 .2 .3-2.4 .2 3.3 .3-5.6 .3 3.6 .2-2.1 .2-3.3 .3-.9 .2 1.4 .3-4.7 .2-1 .3-.7 .2 2 .3-2 .3 1.9 .2-3.2 .3-1 .2-.6 .3 1.8 .3 .2 .2 0 .3-2.2 .2-1.7 .3-2.4 .2 4 .3-.1 .2-6.4 .2 1.6 .3-1.1 .2 2.2 .3 1.6 .2-3.5 .3 2.7 .2-1.8 .3 1.2 .2-13 .3 13.7 .2-.1 .3-2.1 .2 1.6 .3-.9 .2 1.8 .3 .8 .3-7.2 .3 2.7 .2-5.4 .3 4.6 .2-4.2 .3-1.2 .2 1.8 .3-2.1 .2 3.7 .3 1.1 .3 .4 .2-2.5 .3 .7 .2 2.6 .3-2.6 .2 0 .3-1.6 .2-1.5 .3-.7 .2 .5 .3 1.3 .2 3.4 .3-3.2 .3-.2 .2 2.7 .3 2.5 .2 .3 .3-2.5 .2-2.3 .3 3.4 .2-.5 .3 1.3 .2 1.6 .3 .1 .2-1.1 .3 1.8 .3 .9 .2-1.5 .3-2.1 .2 3.5 .3-1.5 .2-.7 .3 1.3 .2-4.1 .3 2.9 .2-2.3 .3-1.8 .2-2.8 .3-.7 .3-.2 .2-6.2 .3 4.6 .2 3 .3-2.6 .2 2.7 .3-.1 .2-5.9 .3 4.2 .2-2.5 .3-2 .2-.7 .3 2.4 .3-2.7 .2 .8 .3 1.1 .2 2.1 .3-.9 .2-.8 .3-4 .2 1.3 .3 .1 .2-.4 .3 2.2 .2-.4 .3 2.3 .3-3.6 .2 1 .3-.1 .2-2.1 .3 1.1 .2 .2 .3 2.4 .2-.5 .3-1.1 .2 2.3 .3-4.8 .2 3.8 .3 .8 .3-1.6 .2 1.9 .3-.4 .2-.9 .3 2.2 .2 1.8 .3 2.9 .2-3 .3 2.3 .2 3.1 .3 4.1 .2 .4 .3 2.6 .3 4.3 .2-1.5 .3 6 .2 1.3 .3-3.9 .2-1.2 .3-2.9 .2-.3 .3-1.9 .2-3.1 .3-3.4 .2 .5 .3-4.6 .3 3.5 .2-1 .3 1.9 .2-2.1 .3 .7 .2-2.8 .3-.8 .2 4.2 .3-1.4 .2 .6 .3-1 .2 2.5 .3 2.5 .3-1.4 .2-.8 .3 1.8 .2-1.8 .3-3.2 .2 5.7 .3-1.1 .2-2.2 .3-.4 .2 3.5 .3-2.9 .2 1.9 .3-1.2 .3 1.1 .2-.8 .3 .5 .2 4.2 .3-1.1 .2 2.1 .3-.9 .2 .3 .3 4.9 .2-1 .3 .8 .2-1.2 .3 3.6 .3 .3 .2 .4 .3-1.4 .2 1.5 .3 1 .2-1.4 .3 .9 .2 2.3 .3-2.2 .2 5 .3 1.4 .2-2.9 .3 5.3 .3-6.8 .2 .8 .3 3.2 .2 5.4 .3-2.7 .2-1.9 .3 .9 .2 2 .3-2.4 .2 3.7 .3 1.4 .3-.6 .2 .2 .3-5.3 .2 1 .3 3.1 .2-2.1 .3 2.1 .2-1.7 .3-1.5 .2-.8 .3-5.3 .2-2.6 .3 4.3 .3-.4 .2 3 .3-1.6 .2 .3 .3 0 .2 2.9 .3-1 .2-.5 .3 5.5 .2-4.3 .3-1.6 .2 .7 .3 3.8 .3-4.6 .2-.8 .3-2 .2 .7 .3 8 .2-5 .3-1.4 .2 1.7 .3 3.2 .2-1.1 .3-.1 .2 2.4 .3-4.8 .3 4 .2 .4 .3-.8 .2-.7 .3 5 .2-1.8 .3-1.5 .2 5.3 .3-1.7 .2 1.4 .3 .2 .2-4.5 .3 5.6 .3 3.4 .2-5.5 .3-.4 .2-.4 .3 1 .2-3.6 .3 1.5 .2-1.2 .3 1.7 .2-1.4 .3 0 .2 .2 .3-.2 .3 2.6 .2 1.1 .3-2.9 .2 .4 .3-2.7 .2 3.1 .3 .6 .2-2.1 .3-1.2 .2 1.6 .3 .7 .2 .4 .3 .9 .3-1.9 .2 1.6 .3 3 .2-3.6 .3 1.4 .2-4.3 .3 4.7 .2 1.5 .3 .3 .2-5.1 .3 4 .2-3 .3 4.7 .3-3.8 .2 2.5 .3 1.2 .2 .1 .3-1.6 .2 .4 .3-.4 .2-1.9 .3 3.7 .2-1.4 .3 1.2 .2 1.9 .3-.4 .3 .3 .2 1.8 .3-.8 .2 1.4 .3-1 .2-2.1 .3 6.2 .2-.8 .3-1.6 .2-.9 .3-4.2 .2-1.3 .3-1.1 .3-2.2 .2-2.1 .3-.8 .2 2 .3 1.3 .2-3.7 .3-1.1 .2 1.4 .3-1.2 .2-1.2 .3 2.5 .2 1.4 .3-3.3 .3-1.9 .2 3.8 .3 1.5 .2-3 .3 2.6 .2-3.1 .3-2.3 .2 2.9 .3-4.4 .2 1.2 .3 2.6 .2 0 .3-2.8 .3 .6 .2 .9 .3 2.7 .2-3.7 .3 2.4 .2-2.1 .3 .9 .2 .1 .3 1.8 .2-.8 .3 1.3 .3-1.8 .2 .5 .3 2.1 .2 .6 .3-2 .2-.7 .3-.8 .2 1.5 .3-2.7 .2 2.3 .3-2.5 .2-2.1 .3-2 .3 1.9 .2 .3 .3-1 .2-3 .3 3.1 .2-3.1 .3 .2 .2-.1 .3 1.9 .2-2.7 .3 1.1 .2-2.4 .3 1 .3 0 .2-1.7 .3 1.2 .2 2.1 .3-.8 .2-.7 .3 1.2 .2-1.1 .3 4.7 .2-2.3 .3-1.4 .2-.2 .3 .3 .3 1.2 .2 3.8 .3-4.8 .2-.9 .3-3.5 .2 6.1 .3-6.4 .2 4 .3-3.7 .2 .9 .3 2.2 .2 1.2 .3-.6 .3-3.5 .2-.4 .3-.4 .2 1.2 .3 1 .2-2.3 .3 5.4 .2-3.3 .3 2.4 .2-3.9 .3 2 .2-.8 .3 2.2 .3-2.1 .2-2 .3 2.5 .2-3.9 .3 2 .2-1.1 .3-1.4 .2-.3 .3 1.6 .2-1.8 .3 0 .2 1.8 .3-2.7 .3 2 .2-7 .3 1.9 .2 4.6 .3 1.2 .2-1.7 .3 2.4 .2-3.5 .3-2.1 .2 .2 .3-2.3 .2-8.8 .3 4.4 .3-1.5 .2-1.9 .3-.2 .2 .6 .3-2.4 .2 .5 .3 .2 .2 .3 .3-.5 .2 2.2 .3-3.8 .2 1.8 .3 4.2 .3-5.2 .2 2.9 .3 2.5 .2-1.7 .3 .8 .2-.4 .3-3.4 .2 2.2 .3-.6 .2 3.3 .3-1 .2-1.8 .3 .9 .3-.5 .2-2 .3 3.2 .2-.8 .3-.4 .2-3.6 .3 2.5 .2 .7 .3-2.8 .2 1.1 .3-.1 .2-1.4 .3 1.3 .3 3.6 .2 .4 .3-1.7 .2 2.9 .3-3.5 .2 3.5 .3-4.2 .2 2.1 .3-.9 .2 1.6 .3 1.7 .2-2.3 .3 .8 .3-1.8 .2-7 .3 10.3 .2-1.4 .3-2.8 .2-.6 .3-.1 .2-2.6 .3 2.7 .2-2.7 .3-1.9 .2 .9 .3 .2 .3-3.9 .2 3.8 .3-2.6 .2-.6 .3 1.1 .2 .6 .3-3.4 .2 2 .3-.2 .2 .5 .3-1.2 .3 1.9 .2-.6 .3 .3 .2 .8 .3-5.1 .2-.9 .3 1.3 .2-1.7 .3 4.9 .2-4.7 .3-.7 .2 1 .3-2.2 .3 2.1 .2-4.1 .3-1.3 .2 6.1 .3-4.4 .2-1.1 .3 5.1 .2-.2 .3 .7 .2-1.7 .3 4.2 .2-4.2 .3 1.6 .3 2.7 .2-2.4 .3 3.9 .2 0 .3 .5 .2 3.2 .3 .4 .2 .5 .3 .2 .2 1 .3-4.1 .2-2.8 .3 4.8 .3-1.7 .2 1.7 .3 10.4 .2-13 .3 2.1 .2 2.8 .3 .6 .2-2.1 .3-2.9 .2 5.6 .3-2.6 .2 0 .3 3.1 .3 .5 .2-2.4 .3 2.5 .2-.4 .3 3.2 .2-5.1 .3 4.5 .2-1.9 .3 1 .2 3 .3-2 .2 .4 .3 1.1 .3 .4 .2-1.4 .3 0 .2-4.5 .3 4.5 .2 2.6 .3-2.7 .2 4.2 .3-2.1 .2 4.1 .3-1.8 .2 4.5 .3-3.5 .3 .3 .2 .3 .3-2.7 .2 1 .3 1.8 .2 .8 .3 1.1 .2-1.5 .3-4.8 .2 4.6 .3-2.5 .2 1.8 .3-2.2 .3-1.8 .2 0 .3-1 .2 1.1 .3 .7 .2-2.1 .3-.2 .2-1.3 .3 1.1 .2 .2 .3-1.6 .2 .8 .3 .2 .3-2.8 .2-1.8 .3 5.8 .2-2.7 .3-1.1 .2 .7 .3-2 .2 .3 .3-1.6 .2-1.4 .3 1.1 .2-.3 .3-1.9 .3-.9 .2 3.4 .3-2.7 .2-1.3 .3-1.6 .2-4.9 .3 3.6 .2-1.9 .3-3.5 .2-.5 .3-.9 .2 0 .3 3 .3-2.3 .2 1.9 .3-2.4 .2 3.8 .3 .2 .2 6 .3-2.9 .2 4.1 .3 1.5 .2 .8 .3 3.2 .2-3.9 .3 .5 .3-1.9 .2-2.5 .3-.7 .2 .2 .3 1.6 .2-5.1 .3 .9 .2-1.2 .3 2.6 .2 2.3 .3-1.8 .2 5.8 .3-2.1 .3-.3 .2-.4 .3 1.4 .2 4.4 .3-.3 .2 3.7 .3-.8 .2 4.6 .3-1.2 .2-1.1 .3 1.5 .3-.3 .2-2.8 .3 3.3 .2-.2 .3 .3 .2-2 .3-2 .2-.7 .3 1.5 .2 .8 .3-6.2 .2 3.6 .3-2.6 .3-1 .2 2.9 .3-2.7 .2-1.4 .3 0 .2 2.6 .3-.4 .2 1.4 .3-.9 .2-.2 .3 0 .2 .1 .3-6.8 .3 3 .2 4.2 .3-3.2 .2-1.5 .3 3.5 .2-2.5 .3-1.7 .2 1.7 .3 2.7 .2-2.8 .3 .8 .2 2.9 .3 2.2 .3 .3 .2-4.1 .3 5.3 .2-3.3 .3-2.8 .2 1 .3 3 .2 .7 .3 .2 .2 2.5 .3-2.5 .2 1.4 .3-.3 .3-1.3 .2 3.3 .3-.1 .2-1.3 .3 1.5 .2 0 .3 1.5 .2 1 .3-2.4 .2-3.3 .3 5.6 .2-1.5 .3 .3 .3-3.5 .2-.1 .3 .5 .2 .1 .3-1.1 .2-.1 .3 2.6 .2-1 .3-1 .2 .8 .3-1.7 .2 1.5 .3 .9 .3 .9 .2-1.1 .3 .6 .2-3.3 .3 2.1 .2 .7 .3 .9 .2-2.6 .3 1.6 .2-2.3 .3 3.4 .2 .8 .3-1.1 .3-1.4 .2 1.8 .3-1.8 .2 1.7 .3-2.7 .2 2 .3-1.7 .2 2 .3 .6 .2-.4 .3-.1 .2 10.6 .3-9.4 .3 .6 .2 .8 .3-.6 .2 2.2 .3-3.7 .2 1.6 .3-.7 .2-1.9 .3-1.3 .2-.1 .3 1.2 .2 2.7 .3-4 .3 5.3 .2-3 .3-1.1 .2 .2 .3-.5 .2 2.8 .3-3.6 .2 3.3 .3 .9 .2-4 .3 3.4 .2-4.8 .3 5.8 .3-2.9 .2 1.3 .3 .1 .2 1 .3 1.4 .2-2.4 .3 .2 .2-.2 .3-2.5 .2 .8 .3-.8 .2 2.2 .3-2.9 .3-1.2 .2-3 .3 5.7 .2-5.1 .3 1.4 .2-2.2 .3 2.3 .2 2.8 .3-1.6 .2 2.5 .3-5.9 .2 1.4 .3 0 .3 1 .2-9.9 .3 5.9 .2-.9 .3 1.6 .2 .8 .3 .3 .2-.2 .3-.4 .2 1.9 .3-2.1 .3-1 .2-2 .3-.7 .2 .9 .3 .9 .2 .5 .3-3.1 .2 2.3 .3-1.9 .2-2.3 .3-1.9 .2 .3 .3-3.5 .3 1.2 .2-1 .3-1.8 .2-3.5 .3 3.4 .2-.6 .3-2.9 .2-2.5 .3 .9 .2-3.9 .3-.4 .2 .2 .3 .3 .3-6.1 .2-.9 .3 6.9 .2-3.2 .3-2.2 .2 .7 .3 2.1 .2-5.7 .3 1.4 .2-2.6 .3 4.4 .2-.4 .3-3.9 .3 .2 .2 .9 .3 4 .2-2.4 .3 4.4 .2-3.7 .3 1.1 .2-6.8 .3 7.3 .2 1.9 .3 .2 .2 1.8 .3-1.4 .3-1.6 .2 .5 .3 1.6 .2 3 .3 .3 .2-1.6 .3-1.8 .2 2.7 .3-2.8 .2-1.8 .3-.9 .2-1.6 .3 1.3 .3-4.2 .2 2.1 .3 .6 .2-2.9 .3 1.2 .2-1.7 .3 1.4 .2-3 .3-3.5 .2 1.3 .3 .4 .2-4.7 .3 2 .3-1 .2 .1 .3-2 .2 .1 .3-2 .2 2 .3-2.2 .2 1.2 .3 4 .2-4.5 .3 5.2 .2-3.8 .3 2.3 .3 1.3 .2-1.1 .3-.1 .2 2.3 .3 2.6 .2-1.2 .3-.1 .2-2.8 .3-.2 .2 2.1 .3-2.4 .2-.8 .3-1.6 .3 4.1 .2-1.7 .3-2 .2 1.1 .3 1.7 .2 .6 .3-1.6 .2-2.3 .3 1.9 .2-1.9 .3 1.2 .2 2.6 .3-4.9 .3 .4 .2 2.3 .3-1.7 .2-1.9 .3-2.8 .2 .4 .3 5 .2-5.1 .3-.2 .2-.5 .3-1.1 .2 0 .3 2.3 .3-1.3 .2 4.3 .3-.3 .2 .9 .3-3.2 .2 5.8 .3 3.5 .2-6.4 .3 4.3 .2 1.5 .3 1.1 .2 3.9 .3 3.7 .3 1.8 .2-1.5 .3-2.8 .2 4.6 .3-3.6 .2 3 .3 1.1 .2-.6 .3-2.1 .2-1 .3-3.1 .2 1.6 .3 2.9 .3-2.8 .2-.1 .3-1.3 .2-.9 .3 3 .2-1.2 .3 .8 .2 3 .3-2.5 .2 1.1 .3 3.8 .3-3.2 .2 .4 .3-3.2 .2 3.7 .3-4.7 .2 .5 .3 1.4 .2 1.4 .3-2.7 .2-.6 .3-.2 .2-.1 .3 .1 .3 2.3 .2-3.3 .3 1.2 .2-2.1 .3-.3 .2 .1 .3-1.6 .2-.2 .3 1.8 .2-1.5 .3 .9 .2-1.2 .3 0 .3 .4 .2-1.1 .3 2 .2-2.1 .3 1.6 .2-1.5 .3 2.1 .2 1.1 .3 0 .2-1.6 .3 5.4 .2-4.7 .3 2.1 .3-1.3 .2 1.8 .3-.1 .2 1.5 .3-.4 .2 2.3 .3 .6 .2-1.4 .3 1.9 .2-1.6 .3-.2 .2 2.7 .3-1.6 .3 1.2 .2-2.8 .3 6.4 .2-2.4 .3 1.1 .2-1.2 .3-.1 .2 3.6 .3-.6 .2-2.1 .3 2.8 .2-1.5 .3 3.7 .3 2.6 .2 1.5 .3 .2 .2-.4 .3 2.2 .2-6.4 .3 3.1 .2 .9 .3 .6 .2-1.5 .3 3.3 .2 1.2 .3-4.1 .3-5.7 .2 2.4 .3-.5 .2 .6 .3-2.5 .2-.7 .3 1.5 .2-3 .3 1.2 .2 .1 .3-2.2 .2 1.8 .3-4 .2 1.2 .3-2.1 .2 1.8 .3-2.1 .2 2 .3-8.1 .2 3.6 .3 1.4 .2-5 .3 1.6 .2-1.8 .3 1 .2-1.7 .3-2 .2 .4 .3 .1 .2 4.3 .3-4.2 .2-1.5 .3 4.2 .2-2.3 .3-1.9 .2 6.7 .3-4.1 .2 3.8 .3-2 .3 .2 .2 .5 .3 .5 .2-.3 .3 2.5 .2-2 .3-1.7 .2 .7 .3 1.4 .2-1.4 .3-.3 .2-1.5 .3 3.1 .3 2.4 .2-3.1 .3 1.2 .2 1.8 .3-3.9 .2 2.7 .3-1.4 .2-1.1 .3-1.5 .2 3.2 .3-4 .2 1.7 .3-1.4 .3 2.9 .2 1.8 .3-5.7 .2-.5 .3 4.6 .2-3.9 .3 1.4 .2-1.1 .3 2.5 .2 2.5 .3-.9 .2 4.4 .3-5.8 .3-1 .2 .7 .3 2 .2-1.8 .3 1.4 .2 .2 .3 .8 .2-2.2 .3 .8 .2 .7 .3-1.9 .2 1 .3 .9 .3-.8 .2-3.7 .3 3.7 .2-1.9 .3 .2 .2-1.6 .3 4.1 .2-2.7 .3 4.4 .2-1.2 .3-4.2 .2 0 .3 2.1 .3-1.7 .2 .4 .3 .4 .2-2.2 .3 .4 .2 3.9 .3-2 .2 3.1 .3-.3 .2-3.6 .3 6.2 .3-.1 .2-3.6 .3 1.5 .2 2.8 .3-2.1 .2 .6 .3-1 .2 .2 .3 3.3 .2 .9 .3-1.2 .2-.4 .3 1.4 .3-1.6 .2 .8 .3-.3 .2 1.2 .3 1.4 .2 .7 .3-.8 .2 1.4 .3 .1 .2-1 .3 1.6 .2-.8 .3 1.3 .3 1.4 .2 1.7 .3-.4 .2-2.5 .3 1.5 .2 .7 .3 1.8 .2 1 .3 1.5 .2-2.5 .3 .8 .2 3.5 .3-.4 .3-1.6 .2 3.1 .3 .5 .2 1.5 .3-.5 .2 5.7 .3 .5 .2-3.8 .3 1 .2 .7 .3 1.3 .2 1.7 .3 2.3 .3-1 .2 2.1 .3-1.6 .2 .6 .3 1.2 .2-1.3 .3 .2 .2-1 .3-1.8 .2 4.2 .3-5.6 .2 .1 .3 2.9 .3 5.3 .2-4.5 .3 .4 .2-3.6 .3 3.2 .2 1.4 .3-2.5 .2-1.1 .3 6 .2-5.2 .3 1.2 .2-.4 .3-1.4 .3 1.1 .2-.6 .3 .3 .2-3.9 .3 3.1 .2 1.8 .3-.9 .2-2.2 .3 1.2 .2 1.4 .3-3.1 .2 4.6 .3-1.8 .3 .6 .2-1.6 .3-5 .2 2.8 .3 .1 .2 .8 .3 .6 .2-1.4 .3 .5 .2 1.4 .3-1.4 .2-1.4 .3 1 .3-2.1 .2 2.5 .3-.5 .2 1.1 .3-1.7 .2-3.6 .3 2.6 .2-.1 .3-4.5 .2 3.1 .3-2.3 .2 2.6 .3 0 .3-1.7 .2 5.5 .3-2 .2-2.2 .3-.9 .2-2.1 .3 1.3 .2 .1 .3-.2 .2 3 .3-4.1 .2 4.6 .3-3 .3-.6 .2-2.2 .3 2.8 .2 6.9 .3-5.6 .2-1.8 .3 .8 .2 5.9 .3-4.6 .2-6.3 .3 3.8 .2 1.2 .3 1.9 .3-1.7 .2 1.8 .3-2.3 .2 5.2 .3-.5 .2 .3 .3-.7 .2 .2 .3-2.4 .2-2.1 .3 .3 .2-1.1 .3-.8 .3 1.8 .2-3.2 .3-1.1 .2 .9 .3-1.4 .2-5.1 .3 4.3 .2-3 .3-3.1 .2 3.4 .3-1.6 .3-.6 .2 1 .3-.5 .2 2.2 .3-4 .2 3.3 .3-5.9 .2 1.8 .3 1.1 .2 1.7 .3-3.3 .2 2.5 .3 1.2 .3-3.1 .2 1.6 .3-1.1 .2 4.7 .3-6.5 .2 3.6 .3 3.2 .2-6 .3 1.5 .2-3.1 .3 1.7 .2-.7 .3 .5 .3 2 .2-3.7 .3 2 .2-.5 .3 .6 .2-1.3 .3-1.6 .2 3.8 .3 .3 .2-2.3 .3 2.1 .2 1.4 .3 1.2 .3 1.5 .2 1.3 .3 2.3 .2-1.6 .3 5.8 .2-.1 .3 .7 .2-1.5 .3 .2 .2 3.4 .3-.8 .2-3.1 .3 4.3 .3-2.8 .2 4.8 .3 1.2 .2-2.2 .3 .3 .2-1.3 .3 1.9 .2 1.9 .3-1 .2 4.1 .3-5.3 .2 2.7 .3-2.7 .3 4.7 .2-8.8 .3 6.8 .2 4 .3 .7 .2 1.2 .3-1.1 .2-2.6 .3 .8 .2-.6 .3 0 .2 .9 .3 0 .3-1 .2 1.3 .3-7.1 .2 .6 .3 2.1 .2 1 .3-5.1 .2 1.9 .3-.5 .2 .2 .3-2.2 .2 3.1 .3 1.3 .3-.8 .2 .4 .3-.2 .2 3.8 .3 2.8 .2-1.2 .3 2.9 .2-1 .3 1.4 .2-2.3 .3 2.1 .2 1.6 .3 .5 .3-.1 .2 1.2 .3-.7 .2 .9 .3 .3 .2-.9 .3 .3 .2 1.1 .3-.9 .2 .7 .3-1.9 .2 3.6 .3-4.2 .3 5.8 .2 .2 .3-1.4 .2 .3 .3 1.8 .2 .1 .3 1.7 .2 .6 .3-3.4 .2 2.6 .3 3.4 .2 2.5 .3-2.2 .3-.9 .2 1.7 .3-2.5 .2-1.5 .3-1.8 .2-4.7 .3 2 .2 .9 .3-4.5 .2-4.8 .3 2.3 .2-2.3 .3 8.1 .3-11.5 .2 .6 .3-.1 .2 1.9 .3 .9 .2-5 .3 1.8 .2-2.7 .3 1.3 .2 2.9 .3-2.8 .3 1 .2-.4 .3-1.6 .2-2.7 .3 1 .2-2.2 .3-1.8 .2-.7 .3 2.3 .2 .1 .3-1.4 .2 1.1 .3-5.5 .3-1.6 .2 .5 .3 2.7 .2-2.2 .3-.2 .2 0 .3 .3 .2-2.1 .3 2.4 .2-2.8 .3 2.2 .2-1.4 .3 0 .3 2.1 .2 2.9 .3-4.8 .2 2.5 .3 1.7 .2-5.4 .3 4.1 .2-1.1 .3-1.1 .2 1.8 .3 8 .2-1.5 .3 1.4 .3-.6 .2 1.3 .3 .9 .2 1.2 .3 2.2 .2 1.3 .3-.7 .2 3.6 .3 .8 .2 .3 .3 4.1 .2-1.9 .3 6.3 .2 1.5 .2 2.2 .3 2.4 .2-.4 .3 5.1 .2-2 .3 1.8 .2 4.6 .3-1 .2-1.9 .2 1.5 .3-6.5 .2 4 .3-2.3 .2-3.1 .2-1.4 .3-1.5 .2 .8 .3-2.8 .2 1.5 .3 .2 .2-2.3 .3-1.3 .2-1.3 .3 1.2 .2-2.6 .3-7.3 .3 5.5 .2-1.2 .3 .5 .2-.1 .3-2.8 .2 .7 .3 0 .2-.5 .3 4.1 .2-1.3 .3-4.3 .2 3.2 .3-1.9 .3 .5 .2 1.2 .3 .6 .2 2.4 .3-6.7 .2 1.5 .3 3.3 .2-1.5 .3 1.5 .2 1.5 .3-2.5 .2-2.7 .3 1.2 .3 .5 .2-1 .3-.4 .2 .3 .3-3.9 .2 .2 .3 1.2 .2-2.9 .3-2.7 .2 .9 .3-2.9 .2 2.5 .3-3.6 .3-2.3 .2 1.5 .3-2.8 .2-.7 .3-.6 .2-.1 .3 .6 .2 0 .3 3.1 .2 2 .3 3 .2-.1 .3 3.3 .3 1.2 .2 2.9 .3 1.4 .2 1 .3-1.6 .2 3 .3-2.3 .2 1.1 .3-1.5 .2 1.4 .3-1.4 .2-4.6 .3 1.7 .3 3 .2-3.5 .3-2 .2 2 .3-2.2 .2 3.2 .3-.4 .2 2.3 .3 1 .2 2.3 .3-1.2 .2 1.8 .3-.1 .3-4.6 .2 4.7 .3-.4 .2 3.2 .3 1 .2-.9 .3-.2 .2 1 .3-3 .2 5.3 .3-2.4 .3-1.6 .2 .8 .3-4.8 .2 1.8 .3-3.5 .2 2.2 .3-4.9 .2-3.7 .3 1 .2-5.3 .3-2.3 .2-1.7 .3-3.5 .3-.8 .2-1.8 .3 1.7 .2-.4 .3-.2 .2 4.7 .3-.9 .2 .8 .3 2 .2-.1 .3 .6 .2-3 .3 2 .3 .2 .2 4.9 .3-3.8 .2 1.2 .3 .5 .2 2.4 .3-1.4 .2 1.5 .3-.4 .2 4.1 .3 2.1 .2-.2 .3-.2 .3-1.3 .2 1.7 .3-1.6 .2 3.9 .3-1.2 .2 1.4 .3 2.3 .2-.9 .3-1 .2-4.3 .3 4.2 .2-2.7 .3 .5 .3-2.6 .2-1.5 .3-.4 .2 4.2 .3-5.2 .2 1.8 .3-1.1 .2-.3 .3 1.4 .2 5.5 .3 1.8 .2 .3 .3 1.8 .3 4.1 .2-.9 .3 2.2 .2 2.8 .3 2.3 .2-.7 .3 2.6 .2 1 .3-.6 .2 3.1 .2-1.7 .3 6.5 .2-2.3 .3 1.8 .2 3.1 .3 2.7 .2 1.5 .2-7.7 .3 3.7 .2-2.4 .3-5.5 .2 2.2 .3-2.2 .2-.6 .3-3.2 .2 3 .2-5.5 .3-4 .2 1.9 .3-2 .2-3.6 .3-.1 .2 1.2 .3-3 .2-1.4 .3 1.4 .2 .3 .3-.6 .2 .7 .3 2.6 .3-2.1 .2-2.9 .3-2.8 .2 1.9 .3 3.1 .2-4 .3 1.7 .2-1.4 .3-1.9 .2-.8 .3-.2 .2-.6 .3 .9 .3-1.3 .2-1.4 .3-3.3 .2 1.3 .3-4.4 .2-.4 .3 1.6 .2-5.5 .3-2.5 .2 3.6 .3-.1 .2 0 .3 0 .3-2.7 .2 1.1 .3 1.2 .2-.6 .3-1.9 .2-.3 .3-.1 .2-.3 .3 .2 .2 2.3 .3-3.2 .2-2 .3 1.5 .3-3.7 .2 5 .3-4.4 .2-.1 .3 2.4 .2-6.7 .3 4.1 .2 .2 .3-1.5 .2 5 .3 .8 .2-2.7 .3 4 .3 3.1 .2 .5 .3-1.1 .2-1.7 .3 5.9 .2-1.5 .3 6 .2-2.8 .3 4.3 .2-.2 .3-2 .3 1.5 .2 1.3 .3 3.4 .2 2.1 .3-3.8 .2 2.2 .3-3.4 .2-1.6 .3-.6 .2 .4 .3-1 .2 1.7 .3-4.9 .3-1 .2 2.1 .3-2.3 .2-1.6 .3 .5 .2-2.2 .3 1.4 .2-.7 .3 1 .2 1.5 .3-1.3 .2 1.1 .3 4.1 .3-6.1 .2 3.7 .3-1.8 .2 2.8 .3 3.7 .2-2 .3-2.7 .2 2.4 .3-.8 .2-1.1 .3-5.6 .2 3.3 .3-3.3 .3 5.2 .2-.8 .3-1.2 .2-2.8 .3-1.4 .2 .1 .3 3 .2-4.2 .3 1.7 .2-2.3 .3 3.4 .2 .6 .3-1.7 .3 5.4 .2-1.2 .3-1.7 .2 1.4 .3 .2 .2 .2 .3 1.5 .2 2.2 .3-1.8 .2 1.7 .3-.5 .2-1.3 .3-2.2 .3 4.5 .2 .5 .3-.2 .2-.3 .3 .9 .2 3.1 .3-3.2 .2 2 .3-1.3 .2 1.4 .3-3.8 .2 2.9 .3-.4 .3 1.1 .2 3.1 .3-4.8 .2 3 .3 3.1 .2-2.9 .3 2.4 .2-8.7 .3 10.6 .2-.1 .3 3.6 .2-1.4 .3 1 .3-3.9 .2-1 .3 9.2 .2-3.1 .3-.9 .2 1.5 .3-1.5 .2 .1 .3-2.6 .2 3 .3 .1 .2-3.7 .3-2.9 .3 1 .2-2.2 .3-.9 .2 2.7 .3-4.1 .2 2.6 .3 1.7 .2-.9 .3 1.9 .2-.9 .3-1.8 .2 0 .3-2.7 .3 2 .2 1.7 .3 3.7 .2-3.9 .3-2.5 .2 .4 .3-2 .2 2.9 .3 2 .2-5.1 .3 2.3 .2 1.7 .3 3.1 .3-5.8 .2-2.3 .3-1.9 .2 2.1 .3 .6 .2-3.4 .3-.4 .2-1 .3 1.2 .2-.5 .3 .8 .2-2 .3-.5 .3-1.8 .2 2.4 .3-1.9 .2 4.9 .3-3.6 .2-.2 .3 .1 .2 .4 .3 .6 .2 5.7 .3-2.9 .2-12.8 .3 11.1 .3 10.4 .2-3.6 .3-1.8 .2 1.3 .3 .9 .2-.9 .3 1.2 .2-1.1 .3 1.5 .2-.8 .3-.4 .3 2.4 .2-2.1 .3-2 .2 3 .3-.1 .2-3.6 .3 4.6 .2 2.1 .3-2.7 .2-.9 .3-2.5 .2 4.8 .3-3.5 .3 2.7 .2-.3 .3-1.4 .2-2.2 .3-3.2 .2 .8 .3-2 .2-.3 .3-2.2 .2-2.2 .3 1 .2 .2 .3 .2 .3-3.6 .2-.8 .3 1.2 .2-1.3 .3 2.1 .2 4.3 .3-7.5 .2 2.9 .3-3.9 .2 2.4 .3-7.6 .2 3.4 .3 1.7 .3-1.2 .2-.2 .3-3.2 .2 1.3 .3 1.3 .2-.3 .3-.8 .2 .3 .3-.8 .2-1 .3 4.3 .2-2.2 .3-1.9 .3 5.2 .2-2.1 .3-.1 .2-.8 .3 2.2 .2 2.8 .3-6.8 .2 1.5 .3-.4 .2 2.1 .3-3.7 .2 2.8 .3 .1 .3-1.7 .2-6.1 .3 11.2 .2-2.7 .3-6.4 .2 4.2 .3 1 .2-2.5 .3 .2 .2 .5 .3 2 .2-2.6 .3 2.5 .3-1.2 .2-1.7 .3 1.4 .2-1.5 .3 2.9 .2-2.4 .3-.6 .2 1.9 .3 2.3 .2-2.6 .3-.7 .2 5.4 .3-1.5 .3-4.1 .2 .8 .3-1.9 .2 2.2 .3-1.3 .2-2 .3-6 .2 8.7 .3-1.5 .2 .4 .3 .3 .2 1.6 .3-.5 .3 3.7 .2 0 .3-2.9 .2-3.2 .3 3 .2 2.2 .3-3.1 .2-.4 .3 3.8 .2 0 .3-6.6 .2 3.5 .3 3.3 .3-2.1 .2 5 .3-1.3 .2 1.2 .3 2.3 .2-4.4 .3 .4 .2 1 .3 4.4 .2 1 .3-3 .2 1.4 .3-.4 .3 1.7 .2 2.1 .3 1 .2-3.7 .3-.4 .2 .9 .3 4.6 .2-1.9 .3 2.1 .2 1.1 .3 .9 .2-1.6 .3 1.9 .3-.7 .2-1.5 .3 .4 .2 .2 .3-3.2 .2 2.3 .3-1.3 .2 1.2 .3-4.3 .2 .5 .3 1.9 .2-.8 .3-.4 .3 .4 .2 2.9 .3 2.9 .2 .8 .3-1.5 .2-.4 .3 .4 .2-1.1 .3-1.2 .2 4.2 .3-1.2 .3 2 .2-2 .3 1.4 .2 2.5 .3 1.3 .2-2.4 .3 2.1 .2-2.2 .3-.3 .2 0 .3-.3 .2 .3 .3 1.8 .3-3.3 .2 3.3 .3-4.1 .2 1.1 .3 .1 .2-1.7 .3-.7 .2-1 .3 .6 .2 1.7 .3-3 .2 .5 .3-.5 .3-1.1 .2 2.4 .3-3 .2 .3 .3-.8 .2 4.1 .3-3.4 .2 .3 .3-3.7 .2 4.5 .3-1 .2-.6 .3-1.7 .3 5.5 .2-2.2 .3 5.7 .2-3.4 .3 1.8 .2-1.9 .3 2.2 .2 4.2 .3-2 .2 2 .3 0 .2 2.2 .3-3.7 .3 6.7 .2-3.7 .3 .1 .2-.3 .3 2.5 .2-.3 .3-1.3 .2 3.2 .3-.9 .2-1.9 .3 .7 .2-1.4 .3 1.9 .3 .2 .2 4.2 .3-2.7 .2 .1 .3 1 .2 2.6 .3 1.2 .2-.4 .3 4.2 .2-1.3 .3 .1 .2 .2 .3 1 .3-1.9 .2-4.7 .3-.6 .2-2.5 .3 3.8 .2-3.3 .3-1.9 .2-1 .3-2 .2 1.2 .3 .6 .2-4 .3-1 .2 6.3 .3-.1 .2-5.6 .3-1.6 .2 2.9 .3-2.4 .2 1.1 .3-.2 .2-1.6 .3-.1 .2-1.6 .3-2.7 .2 3.1 .3 1.7 .2-1.1 .3 3.1 .2-2.4 .3-2 .2 2.4 .3-1.9 .2 2.2 .3-.6 .2 2 .3 1.8 .2-.9 .3-1.3 .3-.6 .2 3.9 .3 .8 .2 0 .3-.5 .2 .9 .3 1.8 .2 .3 .3-1.8 .2 5.8 .3-.5 .2-.9 .3-1.2 .3 1.2 .2 1 .3 1 .2-5.1 .3 .3 .2 2.7 .3 1.3 .2 .1 .3-.9 .2 1.2 .3 1 .2-1.7 .3 .4 .3 2.7 .2-3.3 .3 .9 .2-3.7 .3 1.2 .2-2 .3-5.7 .2 7.7 .3-3.2 .2-.1 .3 .7 .2-2.4 .3 4.4 .3-3.7 .2-1.2 .3-2.2 .2 2.5 .3-.5 .2 3.5 .3-.9 .2 .7 .3-.1 .2 .1 .3-1.2 .2 .7 .3-3.5 .3 3.2 .2 .5 .3-5.4 .2 2.2 .3-1.6 .2 1.9 .3-4.2 .2 2.5 .3-2.7 .2-.6 .3-.7 .2-1.7 .3 .8 .3 5.9 .2-1.8 .3 1.2 .2-1.4 .3 1.3 .2 1.8 .3-1.3 .2 2 .3-6.6 .2 2.4 .3-1.9 .3 1.5 .2-3.6 .3-2 .2 2.7 .3-1.4 .2 .4 .3 3 .2 2.6 .3 1.3 .2 7.3 .3-1.4 .2-1.2 .3 1.4 .3 3.5 .2-5.3 .3 4.8 .2-1.2 .3 1.1 .2-5.2 .3 2.5 .2-.5 .3-.8 .2-.1 .3 .1 .2-5.4 .3 .9 .3-1.6 .2 1.6 .3 1.3 .2-2.1 .3 1.4 .2-1.1 .3 2.2 .2-.6 .3 .3 .2 .5 .3-2.9 .2 .1 .3 1.5 .3 3.3 .2-4.2 .3 1.1 .2 4.2 .3-3.3 .2-1.7 .3 0 .2-.7 .3 1 .2-4 .3 4.9 .2-1.3 .3-.7 .3 2.4 .2-2.6 .3 .1 .2-2.7 .3 5.2 .2-4.9 .3 2.6 .2 1.3 .3 .1 .2 4 .3-2.5 .2-3.1 .3 4.8 .3-1.4 .2-3.3 .3 3.9 .2-.6 .3 .3 .2-.4 .3-.5 .2-4.5 .3 1.7 .2 2.3 .3-.1 .2 3.3 .3-4.7 .3 4.2 .2 5 .3-4.5 .2-.9 .3 2.7 .2-1.3 .3-1.4 .2 1.8 .3 3 .2-3.1 .3 .5 .2 0 .3-1.1 .3 2 .2-.9 .3-1.9 .2-1.6 .3-.2 .2 1.4 .3-2.2 .2-2.2 .3 1.8 .2 1 .3-.7 .2-4.7 .3 .5 .3 .1 .2-1.4 .3 1.5 .2 2.7 .3-.6 .2 .2 .3 4.3 .2-2 .3 1.3 .2-.9 .3 .1 .2-.3 .3 3.5 .3 1.8 .2-5.1 .3 2.5 .2 1.6 .3-5.6 .2 5.5 .3-1.2 .2 3 .3 .2 .2-2.9 .3 .8 .2-.1 .3-.7 .3 .9 .2-4.4 .3 2.4 .2-1 .3 1.5 .2 0 .3-5.8 .2 7.5 .3-2.1 .2 1.4 .3 1.8 .2-6.1 .3-.4 .3-2.7 .2 1.8 .3-3 .2 5 .3-2.6 .2-1.8 .3 2.8 .2-3.3 .3-.4 .2-.1 .3 .7 .2-4.1 .3 3.1 .3-.7 .2 2.6 .3 .8 .2-.6 .3-.1 .2 .9 .3-.1 .2 .8 .3-.7 .2-.5 .3 .1 .3-3.2 .2 4.6 .3-2.4 .2-.5 .3 3.8 .2-5.8 .3 2.9 .2-1.1 .3-.8 .2 1.2 .3 .3 .2 2.6 .3-6 .3-.1 .2 1 .3 .6 .2-5.1 .3 2.8 .2-.2 .3 .7 .2-.9 .3 .6 .2 .5 .3-1.7 .2 2.1 .3-.2 .3-1.3 .2-2.1 .3-.6 .2 2.9 .3-2.9 .2 1.5 .3-3.1 .2 5.5 .3 .6 .2-8 .3 4.3 .2-.2 .3-.6 .3 3.3 .2-.1 .3 3.6 .2 .7 .3-1.9 .2-.8 .3-.3 .2-1.7 .3-1.2 .2-.7 .3 3.7 .2-5.1 .3 1.5 .3 .3 .2 1.7 .3-7 .2 5.5 .3 .8 .2-3.6 .3 1.4 .2 1.5 .3-1.1 .2-1.4 .3-.7 .2 1.1 .3-3.7 .3 .9 .2 1.2 .3-1.2 .2-1.5 .3 1 .2-2.7 .3 1.5 .2-.3 .3-.3 .2 .9 .3-.6 .2 2.3 .3-.6 .3-.1 .2 2 .3 1.7 .2 .9 .3 1 .2-.4 .3-.9 .2 1.1 .3 5.6 .2-5.6 .3 4 .2 1.7 .3 1.4 .3 .9 .2 .4 .3-2.2 .2 3.4 .3-2.1 .2 3.9 .3-6 .2 3.4 .3 1.2 .2-2.4 .3 0 .2 2.1 .3 1.3 .3 .5 .2 .1 .3-3.5 .2 4 .3 1.6 .2-5 .3 3.1 .2 .3 .3-.4 .2-.9 .3 2.9 .2-1.7 .3-3.4 .3 7.8 .2-.9 .3 .3 .2-6.2 .3 2.3 .2 .6 .3-1.2 .2-.2 .3 .7 .2 1 .3-1.8 .2 .6 .3-1.1 .3 .2 .2 1.6 .3-3.1 .2 1.6 .3 4.1 .2 2.1 .3-2.1 .2-1.5 .3 1.8 .2-2.2 .3 .8 .2-.1 .3-.1 .3-1.9 .2 1.2 .3 .6 .2-2.6 .3-2.4 .2 1.3 .3 2.7 .2-1.4 .3-2.1 .2 2.4 .3 2.6 .3-6.2 .2 .2 .3-.3 .2-.2 .3-.6 .2 1.1 .3-5.4 .2 3.1 .3 3.7 .2-3.5 .3-1.1 .2-.8 .3-5.7 .3 2 .2-3.2 .3-2.7 .2-.1 .3-2.6 .2 .7 .3 3.8 .2 2.5 .3-4.1 .2 4 .3 4.2 .2-1.9 .3 3 .3 3.1 .2-.6 .3 1.8 .2-3.3 .3 3.2 .2 2.7 .3 1.3 .2-.1 .3-1.5 .2 0 .3 3.2 .2 .1 .3-.6 .3-2.4 .2-1.2 .3-.1 .2 .9 .3-2.1 .2 4 .3-5.4 .2 .7 .3 2.3 .2 .2 .3-2.1 .2 1.7 .3 1.7 .3-.8 .2 1.4 .3-.1 .2 1.9 .3-4.4 .2 2.3 .3 3.7 .2-3.1 .3 1.9 .2 2.9 .3 1.1 .2-.2 .3 .3 .3-3.2 .2-1.8 .3 .4 .2 .6 .3-2.6 .2-1 .3-.3 .2 .9 .3-2.3 .2 1.2 .3-2.6 .2-.3 .3-1.8 .3-.7 .2-4.3 .3 1.1 .2-6.5 .3 3.5 .2-3.9 .3 4.2 .2-1.1 .3-.9 .2-2.8 .3 1.2 .2-3.1 .3-1.8 .3-1.4 .2-1.4 .3-1 .2-.6 .3 3 .2 4.2 .3-.8 .2-1.2 .3 1.7 .2 3.7 .3-.8 .2-1.4 .3-.3 .3 2.3 .2 4.1 .3 2.1 .2-3.9 .3 1.9 .2-4.1 .3-.3 .2 0 .3-1.5 .2 1.4 .3-.5 .2-.7 .3 7.3 .3-7.4 .2-.8 .3 .2 .2 4.9 .3-1.7 .2-1.1 .3 .2 .2-.7 .3-.4 .2-.5 .3-2.2 .2 3 .3 .5 .3 .9 .2 1.9 .3-6 .2 3.8 .3-.7 .2 2.2 .3 .9 .2 .2 .3 .7 .2 4.5 .3-6.1 .2 7.4 .3-.9 .3-2.7 .2-.7 .3-.3 .2-2.4 .3 1 .2 1.2 .3-5.3 .2-.7 .3 .5 .2-5.3 .3 3 .2-3.3 .3 2.2 .3 0 .2-1.5 .3-1.1 .2-4.3 .3 0 .2-.7 .3-1.7 .2-6.8 .3 .6 .2-1.2 .3 1.5 .2-.9 .3-3.2 .2 .9 .3 .3 .2-1.7 .3 1.1 .2-.9 .3-.3 .2 .3 .3 2 .2 2.8 .3-4.3 .2 .3 .3 0 .3 3.6 .2 .9 .3 1.6 .2-1.5 .3 3.3 .2 1.1 .3 1.5 .2 1.7 .3-2.8 .2-.7 .3-1.3 .2 2.2 .3-1.4 .3-4.8 .2-3.8 .3-1.6 .2 .2 .3-1.5 .2 .1 .3 3.8 .2-5.5 .3-3.1 .2 .7 .3 .2 .2 2.7 .3-.3 .3 1 .2 1.6 .3-.5 .2 2.5 .3-.4 .2-.5 .3-.8 .2 4 .3 1.3 .2 .1 .3 4.9 .2 8.9 .3-6 .3 .8 .2-1.2 .3 1.2 .2-5.7 .3 .9 .2-2 .3 1.9 .2-.1 .3-.1 .2-.6 .3-.3 .2 2.9 .3-1.8 .3 1.1 .2-2.4 .3 1.8 .2 2.4 .3 .7 .2-1 .3 .8 .2-.5 .3 .3 .2 3.2 .3 2.4 .2-2.8 .3 3 .3-5.1 .2-.6 .3 2.4 .2 .2 .3 3.5 .2-3.3 .3 1.9 .2-2.3 .3 1.5 .2-.6 .3 1.5 .2 8.4 .3-2.5 .3-1.7 .2-.3 .3-1.8 .2 .4 .3 2.2 .2-4.3 .3-1.5 .2 1.3 .3 1.4 .2-.5 .3 .6 .3-1.4 .2-4.2 .3 .7 .2-2 .3 .1 .2 3.8 .3-6.9 .2 1.2 .3-1.1 .2-4 .3 4.9 .2 2.5 .3-3.1 .3-2.3 .2 .8 .3 .5 .2-.8 .3-7.9 .2 7.8 .3 .4 .2 4 .3-.7 .2 .8 .3-6.3 .2 1.9 .3-.6 .3 .7 .2-2.2 .3 .5 .2 .3 .3-1.4 .2-2.3 .3-1 .2 1 .3 4.6 .2-4.7 .3 3.9 .2-.4 .3-6.1 .3-.6 .2-1 .3 2.8 .2-1.3 .3 4 .2-1.9 .3-2.2 .2 5.2 .3-3.3 .2 1.5 .3 .3 .2-1.6 .3-1 .3 .9 .2 .6 .3-2.7 .2 4.6 .3 1 .2-.3 .3 4.3 .2-1.9 .3-1.7 .2 2.4 .3-.1 .2-1.9 .3 2 .3 1.8 .2 2.4 .3 1.8 .2 .8 .3-2.2 .2 3.4 .3 4.8 .2 2.6 .3-4.6 .2-.7 .3 3.8 .2 1.2 .3-2.3 .3 3.4 .2 1.7 .3 2.1 .2 .4 .3 .9 .2 4 .3-.5 .2 1.2 .3 1.3 .2-1.2 .3 3.9 .2-3.1 .3 5.9 .3-.8 .2 2.5 .3-1.2 .2 1.1 .3-4.6 .2-4 .3-7.8 .2-1.8 .3 4.1 .2 3.9 .3 4.6 .2 7.7 .3 .9 .3 2.7 .2 3.8 .3 .7 .2 1.1 .3-1.1 .2-3.1 .3-2.7 .2-1 .3-1.1 .2-7.2 .3-3.2 .2-2.5 .3-3.6 .3-3.3 .2-4.2 .3-.2 .2-1.4 .3 3.3 .2 2.1 .3 4.6 .2-.3 .3 4.1 .2 3.5 .3 2.6 .2 3.4 .3 1.2 .3 3.7 .2 .5 .3 3.2 .2 .7 .3 2.9 .2-1.8 .3 .8 .2-2.8 .3-.4 .2-1 .3-.2 .2-3 .3 .3 .3 .3 .2 4 .3 .1 .2 4.2 .3 5.5 .2-2 .3 2.5 .2 .6 .3-.7 .2-3.4 .3 3.2 .2-2.9 .3-6.4 .3 .1 .2 3.5 .3-4.5 .2 2.5 .3-6.3 .2 1.9 .3-.8 .2 .1 .3 .2 .2-3.2 .3 1.5 .3 .1 .2-3.7 .3 1.6 .2 1.3 .3-2.5 .2-2.4 .3 .7 .2-.2 .3-.7 .2 1 .3 1.8 .2 1.1 .3 .2 .3-2.8 .2 .9 .3 1.6 .2 2.2 .3-.1 .2 1.4 .3-2.1 .2 3.3 .3-1.1 .2 3.3 .3-.8 .2-.3 .3 4.3 .3 2.2 .2 1 .3-2.1 .2 2.4 .3-1.7 .2 .3 .3 6.7 .2-3.1 .3 5.8 .2 2.1 .3-1.4 .2 7.5 .3-1 .3 3.5 .2-1.6 .3-2 .2-2.6 .3-.4 .2-4.7 .3 1.2 .2-4.5 .3-2.5 .2 .1 .3 .1 .2 1.6 .3-3.8 .3 3.2 .2-4.2 .3 2.1 .2-.1 .3 2.5 .2-3.5 .3 2.7 .2-1.9 .3 6.1 .2 .1 .3-.3 .2 .4 .3-6.6 .3-5.4 .2-1.5 .3-6.8 .2-1 .3 .8 .2-1.3 .3-.9 .2 1.7 .3-4.8 .2 .3 .3-1.9 .2 2.7 .3-2.3 .3-.4 .2 2.3 .3 .1 .2 0 .3 .3 .2 2.3 .3 1.7 .2-6.7 .3-.6 .2-.4 .3-1.5 .2 .3 .3-.7 .3-.2 .2-1.5 .3-4 .2 2.2 .3-2.5 .2 .8 .3 5 .2-4.6 .3-2.5 .2-2.8 .3 .6 .2-1.6 .3 3.3 .3-4.7 .2 1.1 .3-1 .2-3 .3 .1 .2 6.1 .3-3.2 .2 5.2 .3-.6 .2-1.3 .3 .3 .2 3.5 .3-.1 .3-.4 .2-3.5 .3 1.5 .2-1 .3 .2 .2-5.2 .3 3.5 .2-3.2 .3-.5 .2-1.3 .3 .9 .2-.5 .3-3.2 .3 3.9 .2-3.2 .3 1.8 .2-4.4 .3 1.2 .2 6.9 .3-7.2 .2 1.6 .3-5.1 .2 2.1 .3 1.2 .2-2.7 .3-.4 .3 6.2 .2 2.5 .3 3.5 .2-.1 .3-1 .2-1.6 .3 .8 .2 3.5 .3-1 .2 4 .3-4.3 .3 2.7 .2 2.4 .3-2.2 .2-3.5 .3 3.9 .2-1.7 .3 1.8 .2 3.9 .3-3.1 .2 2.4 .3 3.6 .2 0 .3 .5 .3 1.1 .2-8 .3 8.5 .2-5.4 .3 2 .2 1.5 .3-2.2 .2 1 .3-1.5 .2-1.3 .3 .5 .2 1 .3 0 .3-5.1 .2 3.3 .3 .7 .2 2.9 .3 .3 .2-2.2 .3 1.2 .2-2.3 .3-2.4 .2 2 .3 1.3 .2 .3 .3-1.8 .3-.4 .2 4.9 .3-2.9 .2 1.4 .3 3 .2 1 .3-2.2 .2 5 .3-1.7 .2-.8 .3 2.6 .2-1.1 .3 .8 .3 2.6 .2 1.6 .3-1.4 .2-.8 .3-.4 .2 7.4 .3-2.4 .2-2.9 .3 3.4 .2-.9 .3-.3 .2-.4 .3 1.2 .3-5.2 .2-.8 .3-.8 .2-1.5 .3-4.4 .2-1 .3-.8 .2-1.8 .3-3 .2 2.5 .3-6.1 .2-3 .3 0 .3-.6 .2 .8 .3 2.4 .2-1.2 .3-1.9 .2 7.1 .3-3.2 .2 1.7 .3 3.3 .2-1.4 .3-.7 .2 4.4 .3 .5 .3-1.1 .2-.5 .3-.4 .2-1.6 .3 4.1 .2-6.6 .3 5 .2-1.5 .3-2.5 .2-2.5 .3 3.5 .2-1.7 .3-1.5 .3-.6 .2 .3 .3-4.4 .2 1.7 .3 .3 .2-2.4 .3-3.6 .2 1.3 .3 2.8 .2-2.3 .3 3 .2-6.9 .3 1.9 .3-1.5 .2-.6 .3-4.8 .2 1.9 .3-2.2 .2 1.4 .3 .1 .2-2.2 .3-.7 .2-4.3 .3 1.6 .2 .9 .3-2.2 .3 1.6 .2-3.6 .3 2.8 .2 .6 .3 2 .2-3.5 .3-.8 .2 2.3 .3-1.3 .2 3.4 .3-1.9 .2 .5 .3 1.3 .3-1.1 .2 2.1 .3 .8 .2-.6 .3 0 .2 1 .3-1.2 .2-1.8 .3 1.1 .2 .2 .3-.8 .2-8.8 .3 9.9 .3-2.1 .2-.3 .3 2.7 .2-3.4 .3 3.6 .2-.2 .3-1.6 .2 1.1 .3-.8 .2-.8 .3-.4 .2 .3 .3-.4 .2 .9 .3 .8 .2-1.8 .3-.9 .2-.6 .3 4.1 .2-.2 .3 1.3 .2 .7 .3-3.3 .2-5.3 .3 3.8 .2-.4 .3-2.3 .2 2.5 .3-2.4 .2-2.3 .3-2.4 .2 1.6 .3 1.8 .2-2.1 .2 2.8 .3-4.6 .2 .2 .3-.3 .2-.7 .3-2.4 .2 .3 .3 3 .3-2.3 .2-2.1 .3 1.8 .2 3.1 .3-8.1 .2 2.6 .3 1 .2 4.5 .3-2.6 .2 .9 .3 3.3 .2 .7 .3-2.5 .3-1 .2 7.3 .3-1.2 .2-1.2 .3 2.8 .2-2.8 .3-8.7 .2 8.4 .3-1 .2 4.1 .3-2.7 .2 5.3 .3-.8 .3-3.6 .2 .7 .3 1.3 .2 1 .3-1.3 .2 1.3 .3-.6 .2 2.4 .3-1.8 .2-2.9 .3 2.7 .2-2.5 .3 1.2 .3 3.8 .2-2.1 .3 6.2 .2-6.1 .3 3.7 .2 2.7 .3 0 .2 1.8 .3 1.6 .2 1.2 .3-2.2 .2 1.1 .3-.3 .3 .1 .2-4.5 .3 5.2 .2 .2 .3 .3 .2 .6 .3 .9 .2 1.3 .3-1.5 .2 1.8 .3-2.2 .2-.2 .3 3.5 .3 1.3 .2-.4 .3 1.4 .2-.9 .3-2.2 .2 .2 .3 1.8 .2-2.5 .3 4 .2-1.7 .3-4.3 .3 1 .2-.1 .3 2.9 .2-1.9 .3 1 .2-1.9 .3-.9 .2-2.1 .3-3.4 .2 5 .3-2.3 .2 .3 .3-1.1 .3-4 .2 1.7 .3-.3 .2-1.5 .3 .8 .2-3.1 .3-.6 .2-.1 .3-1.5 .2-2 .3-5.3 .2 7.6 .3 1.9 .3-3.2 .2 .5 .3-.9 .2 0 .3-.7 .2 1.9 .3 4.6 .2 .9 .3 1.3 .2 0 .3 2.4 .2-7.2 .3 4.3 .3-3 .2 3.8 .3-2.3 .2 3.1 .3 2.1 .2-5.4 .3-1 .2 1 .3 .5 .2 2.8 .3 .2 .2 .1 .3-.4 .3 1.3 .2-2.4 .3 1.6 .2-.8 .3 5.2 .2 0 .3-.9 .2 1.3 .3 .7 .2 6 .3-3.4 .2 1.8 .3-.4 .3 1.1 .2 1.6 .3-2.6 .2-.5 .3-2.3 .2 .6 .3-1.6 .2 .2 .3-2.1 .2-.9 .3-.7 .2-1.8 .3-.3 .3-2.2 .2 2.4 .3-.2 .2-2.2 .3-.8 .2 .5 .3 4.4 .2 0 .3 .6 .2-.5 .3-7 .2 6.7 .3 .7 .3 2.5 .2-2.5 .3-1 .2-1.2 .3 3.6 .2 .2 .3-.6 .2-1.5 .3 .6 .2-.6 .3-.5 .2 1.6 .3-4.8 .3 3.3 .2 .3 .3-1.5 .2 0 .3-3.1 .2 1.7 .3 1.9 .2-3.1 .3-1.1 .2 2.4 .3 2.8 .2-4.6 .3 .9 .3-1.4 .2-.9 .3-.8 .2 3.8 .3-2.9 .2 3.7 .3-4.3 .2 1.2 .3-.3 .2-.6 .3 3.3 .2-1.6 .3 2.7 .3-1.5 .2-2.4 .3 2.4 .2 2.4 .3-1.1 .2-4.3 .3 2 .2 2.6 .3-.9 .2-2.4 .3-1.7 .2 2.6 .3 .2 .3 4 .2-2.9 .3 .4 .2-8.1 .3 5.1 .2 1.5 .3-.2 .2 .1 .3-.7 .2 3.2 .3 .8 .2-.6 .3-2.9 .3 2.1 .2-.7 .3 2.2 .2 1 .3-1.4 .2 3 .3-3.2 .2 2.5 .3 4.8 .2-3.1 .3-6.5 .3 5.4 .2-.1 .3-4.5 .2 .7 .3-1.8 .2-1.4 .3-3.2 .2 4.8 .3-1.1 .2-2 .3 5.1 .2-5.4 .3 .5 .3 1 .2-3.3 .3-1.8 .2 4.2 .3 5.2 .2-6.8 .3 .7 .2-.1 .3-.2 .2-3.2 .3 .7 .2 4.6 .3 0 .3-2.1 .2-3 .3 3 .2 1.7 .3-1.9 .2 1.2 .3 .2 .2 1.5 .3-4.4 .2 5.7 .3-2.2 .2 5.4 .3-3.1 .3 1.5 .2 .3 .3 3.5 .2-1.3 .3-1.1 .2-.8 .3 .1 .2-.8 .3 2.2 .2-2.8 .3 2.6 .2-2 .3-.9 .3 1.9 .2 2.2 .3-2.1 .2 1.1 .3 1 .2 1.3 .3-4.8 .2 1.9 .3 .8 .2 .2 .3 .6 .2-1 .3 1.5 .3-.6 .2 1.4 .3-2.9 .2 .8 .3-2.9 .2 .5 .3-.2 .2-2.5 .3 1.9 .2 2.6 .3-.6 .2 0 .3 .8 .3 2.7 .2-2.5 .3 .6 .2 .1 .3-.1 .2 .5 .3 2.8 .2 .1 .3 2.1 .2-4.1 .3 3.1 .2-.1 .3 1 .3-2.4 .2 1.2 .3-1.5 .2 1.3 .3-1.1 .2 2.4 .3-7.9 .2 4 .3 0 .2-1.7 .3 3.4 .2-3.3 .3 1.6 .3 1.3 .2 .3 .3-2.1 .2 2.4 .3-3 .2 4.9 .3-5 .2-.9 .3-.7 .2 .3 .3 1.4 .2 1.7 .3-3.7 .3 1.1 .2 1.2 .3-1.2 .2 3.3 .3-3.8 .2-2.4 .3 4.5 .2-1.1 .3-.9 .2 3.1 .3-2 .2 3 .3-1.9 .3 3.4 .2-2.8 .3 .9 .2 2.1 .3 3.3 .2-6.7 .3 .8 .2 1.9 .3-3.3 .2 .4 .3 1.5 .2 .8 .3 0 .3-.7 .2 4.5 .3-3.8 .2 1.7 .3 .3" fill="none" stroke="#de8f05" stroke-width="1.6" stroke-linejoin="round"/>
<path d="M135.5 583.1l.3 .5 .3 1.7 .2-9.1 .3 6.2 .2-2.8 .3 .8 .2 1.8 .3-2.2 .2 3.4 .3 .6 .2 2.5 .3 0 .2-.4 .3-2.1 .2-1.5 .3 1.7 .2 .4 .3 1.4 .2 .4 .2-2.5 .3 2.5 .2 1.6 .3-2.4 .2-1 .3 .7 .2-6 .3 5.5 .2-2.6 .3-1.8 .2 3.2 .3-4 .2-3.5 .3-1.2 .2-.2 .3 .3 .2-3.2 .3-2.1 .2-.3 .3-.4 .2-1.7 .2-4.4 .3 2.9 .2-3 .3-.5 .2-2.5 .3-.9 .2-1.6 .3-1.2 .2-4 .3 4 .2-4 .3 1.9 .2-3.1 .3-1.9 .2 2.7 .3-3.5 .2-3.9 .3 3.2 .2-.1 .2 1.1 .3-2.5 .2-.2 .3 1.3 .2-4.5 .3 1.4 .2 5.5 .3-7.9 .2 3 .3-4.7 .2 2 .3 3.3 .2-5.2 .3 2 .2-.8 .2-1 .3 .9 .2-1.4 .2-1.2 .3-3.2 .2 5.1 .2-2.3 .3 .8 .3-.9 .2 .6 .3-3.9 .2 3.2 .3-5.6 .2 4 .3-3.9 .2 1.6 .3-.8 .2-1 .3-1.6 .2 1.6 .3 4 .3-7.9 .2 1.7 .3 2.1 .2-1.7 .3 .4 .2 2.8 .3-.3 .2 1.4 .3 2.6 .2-1.2 .3-.1 .2-1.3 .3 3 .3-1.5 .2 5.2 .3-2.6 .2 2.1 .3 1.3 .2-2.4 .3 .6 .2-1.5 .3 .8 .2-.4 .3 .9 .2 1.2 .3-3.9 .3-.2 .2-3.8 .3-1.3 .2 3.1 .3-1.7 .2-.3 .3 2.6 .2-.4 .3-3 .2 .8 .3-4.9 .2 1.6 .3 .1 .3 2.3 .2-.6 .3-4.8 .2 .8 .3 1.4 .2-3.6 .3 1.2 .2-1.7 .3-1 .2 .6 .3 4.1 .2-6.9 .3-2.1 .3-9.4 .2 2.2 .3 .1 .2-3.4 .3 2.1 .2-1.7 .3-.7 .2-.1 .3-1.4 .2-.8 .3 .6 .2-.5 .3 .7 .3 2.6 .2 .5 .3-2.4 .2-.3 .3 2.9 .2 .3 .3-3 .2-.8 .3 .4 .2-2 .3 3.1 .2-3.3 .3-.1 .3 .2 .2 3.8 .3-5 .2 .4 .3 3.9 .2-1.9 .3-2.5 .2 4.1 .3-1.1 .2-1.1 .3 1 .2 1.4 .3-2.2 .3-1 .2 2.3 .3 0 .2 .5 .3-.2 .2-5.9 .3 2.3 .2 1 .3-1 .2 .3 .3-2.8 .3 2.6 .2-1.1 .3 .2 .2 2 .3-3.4 .2 2.7 .3 4.6 .2-2.4 .3 1.5 .2-4.6 .3-.6 .2 .2 .3-2.6 .3 .3 .2-1.2 .3 2.5 .2-2.1 .3-.6 .2-3.6 .3-1.5 .2-.4 .3-.3 .2-.6 .3-.1 .2-6.4 .3-3.6 .3-5.5 .2-2.7 .3 3 .2 .7 .3 2 .2 2.3 .3 3.2 .2 1.9 .3 .2 .2 2.9 .3-.2 .2 2.7 .3-3.8 .3 1.9 .2-1.1 .3 .7 .2 5.3 .3-2.5 .2-2.5 .3 .7 .2 .9 .3 1.6 .2-2.1 .3-.2 .2 1.7 .3-1.1 .3 1.4 .2-.7 .3 1.2 .2 1.2 .3-.5 .2 4.8 .3-.8 .2-3.4 .3 1.4 .2 2.4 .3-.1 .2-.8 .3-3.5 .3 3.6 .2-.1 .3-1.8 .2-1.2 .3 .9 .2 4 .3-3.3 .2 2.1 .3-1.3 .2 .4 .3-.6 .2 2 .3-2.1 .3 2.9 .2-2 .3 2 .2 .5 .3-.9 .2 4.7 .3 .2 .2 .3 .3-1.8 .2 .4 .3-.7 .2-1.8 .3 5.5 .3-1 .2 1.9 .3 .2 .2-.5 .3-1.9 .2 3 .3-5.3 .2 1.1 .3 1.3 .2-3 .3 1.5 .2-3 .3 5.6 .3-4.7 .2-.3 .3 1.1 .2 .4 .3-3 .2-.2 .3-.9 .2 1.4 .3-.7 .2-3.4 .3-2.6 .2-5 .3-.8 .2 .8 .2-4.4 .3-4.6 .2-5.7 .3 0 .2 2.4 .3 .4 .3 7.5 .3 4.5 .2 5.8 .3 1.7 .2-.5 .3 1.6 .3-4.8 .2 2.3 .3-2.4 .2 3.1 .3-3.8 .2-.1 .3 1.8 .2 .9 .3 2.3 .2 2.6 .3-2.3 .2-2.3 .3 .3 .3-.7 .2-.3 .3-6 .2 8.6 .3-1.8 .2-2.1 .3-4 .2 2.5 .3-1.1 .2 .4 .3-6.4 .3 5.2 .2-.9 .3 1 .2 4.8 .3-6.7 .2 1.6 .3 2.5 .2-3.8 .3 3.7 .2-.3 .3 1.8 .2-4.7 .3 5.3 .3-.5 .2-2.5 .3 3.2 .2 .3 .3-2.1 .2 .8 .3-.6 .2 5 .3-4.3 .2 2.9 .3-1.9 .2 .7 .3-.3 .3-1.5 .2-.4 .3 2.1 .2-1.1 .3 1.4 .2-1.3 .3 1.7 .2-3.1 .3 2 .2 4.9 .3-7 .2 3.8 .3 3.6 .3-1.8 .2-.9 .3 1.6 .2-3.3 .3 2.5 .2 1.4 .3 1.5 .2-5.2 .3-2 .2 .6 .3 2.2 .2-4.3 .3-2.5 .3 1 .2-2.5 .3-1.6 .2-4.8 .3-2.5 .2 3.3 .3 2.9 .2-3.1 .3-1 .2 1.2 .3 1.2 .2-6.1 .3 5.6 .3 1.6 .2 2.4 .3 1.9 .2-3.9 .3-.1 .2 .9 .3-1.3 .2 1.5 .3 1.6 .2-2.4 .3 1.1 .2 3.1 .3-3.1 .3-4.2 .2 3.6 .3-1.9 .2-1.3 .3 3.3 .2 4.5 .3-7.7 .2 4.4 .3-.8 .2-2 .3-2.5 .2 1 .3 1 .3-3 .2-1 .3-2 .2 .2 .3 .2 .2 1.2 .3-.4 .2 .6 .3-6.1 .2 6.9 .3-1.1 .2-2.9 .3 3.2 .2-2.6 .3 .2 .2-2.7 .3-.2 .2-4.1 .2 .9 .3 1.5 .2-.3 .3-1.4 .2 3.6 .3-6.5 .2 0 .2-3.9 .3 3.3 .2 2.4 .3 4.4 .2 4.4 .2 3.5 .3 2.3 .2-1.5 .3 1.1 .2-1.3 .3 .4 .2 2.9 .3-2.4 .2-.6 .3-2.5 .3 1.5 .2 1.2 .3-4.8 .2 1.9 .3-3 .2 1.7 .3 2 .2 0 .3 .8 .2 .5 .3-1.1 .2-2.2 .3 7.3 .3-1.8 .2-2.5 .3-1.6 .2 4.8 .3 1.8 .2-2.8 .3 .2 .2 0 .3-1.8 .2 4 .3-4.5 .2 2.1 .3-1.7 .3 2.8 .2-.1 .3-3.3 .2 .2 .3 1.7 .2-.2 .3-1.5 .2 3 .3 1.2 .2-4.2 .3 1.8 .3-2.9 .2 4.3 .3-1.4 .2 1.5 .3-3.5 .2 .6 .3-.1 .2 1.6 .3 .1 .2 .6 .3-3.3 .2 2 .3-2.2 .3 2.3 .2-2.4 .3 2.6 .2 .2 .3-.5 .2-2.9 .3 7.2 .2-3 .3 .2 .2 1.5 .3-4.3 .2 3.3 .3-4.8 .3 3.9 .2 1.6 .3-3.3 .2 1.3 .3 .4 .2-.5 .3 1 .2 .4 .3-4.1 .2 1.6 .3 1.9 .2-2.1 .3-.3 .3-.5 .2 0 .3 .9 .2 2.8 .3-.4 .2-.5 .3 1 .2 1.7 .3-5.7 .2 1.7 .3 1.4 .2 .3 .3-1.5 .3-3.4 .2 4.7 .3-1.7 .2 2.9 .3-6.9 .2 4 .3 3 .2-2.7 .3 .1 .2-3.6 .3 .3 .2 .7 .3-.1 .3-1 .2-1.3 .3 1 .2-5.5 .3 2.5 .2 2.7 .3-3.3 .2-.1 .3 .2 .2-.7 .3 1.6 .2 2.6 .3-5.8 .3 0 .2-1.5 .3 3.8 .2-6.5 .3 .1 .2-1 .3 .2 .2-4.5 .3 1.7 .2 1.1 .3-.1 .2 1.3 .3-1.8 .3 .1 .2 1.4 .3-1.5 .2 3.1 .3-2.7 .2 1.7 .3 5.6 .2-5.1 .3 2.5 .2 .5 .3 2.3 .2-2.3 .3-.1 .3 .7 .2-1.2 .3 3 .2-3.3 .3-.6 .2 2.8 .3-3.2 .2 3.4 .3-5.3 .2 6.7 .3-3.1 .2 2.6 .3-3.7 .3 .4 .2-2.1 .3-2.7 .2 5.1 .3-1.8 .2-2.5 .3-.7 .2 1.8 .3 2.4 .2-1.9 .3 3.6 .2-3.5 .3 0 .3-.8 .2 2.1 .3-3.9 .2-.7 .3 2.5 .2-3.6 .3 1.7 .2-1.3 .3-1.5 .2 2.4 .3-3.2 .2 4 .3-4 .3 0 .2-1.2 .3 .3 .2-2.1 .3-.9 .2 .8 .3-3 .2-1.6 .3 .9 .2 1.9 .3 1.5 .2-1.6 .3 4.2 .3-1.2 .2 2.1 .3-.8 .2-2.9 .3 4.8 .2 2.2 .3 4.1 .2-1.3 .3-.7 .2 2.2 .3 3.7 .3-2.9 .2 5.6 .3-1 .2 1.7 .3 .1 .2 .5 .3 .4 .2 2.3 .3 .9 .2-2.5 .3 1.6 .2 3.6 .3-2.7 .2-3.5 .3-.4 .2-4.4 .2-4.1 .3 2.3 .2-4.8 .3 .5 .2-1.5 .2-3 .3-2.8 .2 4.8 .3 .4 .2 1.7 .3 10.7 .2-7 .3-3.2 .2 9.2 .3 2.5 .2 2.1 .3 1.5 .2 .7 .2 .5 .3 5.7 .2 .9 .3-1.6 .2-1.2 .3-2.6 .3-3.1 .2 .8 .3-3.8 .2-3.4 .3-.2 .2-3.7 .3-.4 .2-1.9 .3-1 .2-3.3 .3-.4 .2-3 .3-.7 .3 5.3 .2 3.6 .3 1.6 .2 4.6 .3-.1 .2 2.7 .3 2.5 .2 3.2 .3-2.5 .2 .7 .3-4.5 .2 3.4 .3-3.4 .3-4 .2 4.5 .3-2.3 .2 1.9 .3-.6 .2 3.8 .3-1.8 .2 2.1 .3 0 .2 0 .3-.9 .2 4.1 .3-3 .3 3.3 .2-.8 .3-5.4 .2 2.7 .3-1.4 .2-1 .3-1.7 .2 .1 .3 1.1 .2-5.1 .3-4.2 .2-.3 .3-2.8 .3 .7 .2 6.6 .3-2.8 .2-.1 .3 5.2 .2-.3 .3 1.8 .2 4.8 .3-.6 .2 3.2 .3 1.2 .2 .8 .3 1.6 .3 1.4 .2-1.7 .3 1.4 .2-2.4 .3 3.2 .3-1.1 .2 .6 .3-.5 .2 3.4 .3-.2 .2-1.9 .2 1.8 .1 15.2 .2 5.5 .3 3.5 .3 8.1 .2 4.2 .3-1.9 .2-1.3 .3-7.1 .2-.6 .3-1.9 .2-4.4 .3 .3 .2 .2 .3-3.4 .2 1.6 .3-1.7 .3-1.5 .2 .8 .3-3.5 .2-3.1 .3 1.3 .2-2.8 .3-5.5 .2-.6 .3-4.3 .2 .9 .3-4.1 .3-1.3 .2 2 .3-2.1 .2 6.4 .3 .3 .2 1.2 .3 .7 .2-.1 .3-1.4 .2 .2 .3 6.4 .2-1.2 .3 2.3 .3-4.5 .2 2.4 .3-.2 .2-1.2 .3 2.8 .2-.6 .3 .2 .2 .3 .3 4 .2-2.9 .3 1 .2 2 .3 1.6 .3-1.1 .2 0 .3-3.1 .2 4.9 .3-1.5 .2-1.1 .3-3.7 .2-1.6 .3 4.5 .2-2.7 .3 3.6 .2-2 .3 3.2 .3-3.5 .2-2.9 .3 6.3 .2-1.2 .3 .1 .2 1.9 .3 3.2 .2-4.3 .3-.8 .2 3 .3-8.2 .2 6.6 .3 1.4 .3-2.2 .2 1.6 .3 .9 .2 2.3 .3-2.1 .2-.6 .3-.4 .2-.2 .3 2.4 .2-2.3 .3 1.5 .2-1.3 .3-.1 .3-1.2 .2 2.7 .3 0 .2 1.5 .3-3 .2-1.1 .3-2 .2 2.6 .3 2.5 .2 4.3 .3-1.8 .2 5.5 .3-2.7 .3-1.2 .2 2.5 .3-1 .2 .1 .3 .1 .2 2.6 .3-2.3 .2 .6 .3 2.9 .2 1.6 .3 .9 .2-.1 .3 2.2 .3-2.5 .2 .5 .3-1.1 .2-2.1 .3-2.1 .2 .6 .3-.5 .2-1.9 .3-2.4 .2 1.3 .3-.1 .2 3.4 .3-1.7 .3 2.4 .2-.6 .3-2.7 .2 1 .3 1.7 .2-1 .3 1.1 .2-1 .3 1.2 .2 3.9 .3 1.1 .2-3.5 .3 3.2 .3-1.9 .2 .7 .3-1.6 .2-1.4 .3-1.6 .2 .5 .3 2.9 .2 0 .3 .9 .2-.7 .3-1.2 .2-1.6 .3-2.1 .3 1.6 .2-1.3 .3 4.5 .2-5.1 .3-.1 .2 1.8 .3-1.7 .2 4.2 .3 .2 .2-.6 .3-1.2 .2 .2 .3 3.8 .3-2.4 .2 1.2 .3-3.8 .2 6.3 .3-.2 .2 3 .3 .2 .2 3 .3 4.1 .2 .2 .3-1.7 .3 .6 .2 2.8 .3-1.3 .2 .6 .3 .1 .2 1 .3 1.4 .2-.4 .3 .6 .2 1.7 .3-.3 .2-2.7 .3 3.4 .3-1.1 .2-.6 .3-4.1 .2 3.2 .3 .9 .2 .9 .3-4.5 .2 1.9 .3 3.3 .2-2.9 .3-.2 .2-1.4 .3 4.7 .3 1.1 .2 2 .3-4.8 .2 3.6 .3 .2 .2 1.8 .3-3.8 .2 6.8 .3-3.5 .2 4.7 .3-.7 .2 2.6 .3-1 .3-3.6 .2 3.1 .3 1.6 .2 .3 .3-4.6 .2 .8 .3 1.7 .2 2.3 .3-.5 .2-1.8 .3 .7 .2-.1 .3 4.4 .3-3.8 .2 1.6 .3 4.5 .2-1.8 .3-.4 .2 2.4 .3 .5 .2 .9 .2-.2 .3 3.9 .2 1.1 .3 .1 .2-4.9 .3 3 .2 2.9 .3-2.5 .2-3.6 .3 0 .2 .3 .3 5.5 .2-6.7 .3 2 .2-2.4 .3-2 .3 .6 .2-1.2 .3 .8 .2 2.9 .3-2.1 .2 2.4 .3-2.5 .2 3.7 .3-1.8 .2 1.4 .3 1.1 .2 2.6 .3 1.4 .3-5.4 .2 5.5 .3 1.2 .2-1.4 .3 3.5 .2-2.4 .3 1.7 .2 1.5 .3-2.1 .2 4.4 .3 3.6 .2-2.8 .3 1.7 .3-.7 .2 2.6 .3 2.7 .2 1.6 .3 .1 .2-2.6 .3-3.2 .2 0 .3-.4 .2-2.2 .3-2.7 .2-4.1 .3-1 .3 4 .2-3.4 .3-1.3 .2-4.6 .3-2.1 .2-2 .3 .4 .2-5.3 .3 1.6 .2-2.5 .3-2 .2-1.1 .3-1.2 .3-2.2 .2 7.8 .3-5.3 .2 1 .3 .3 .2 .8 .3-8.1 .2 3.6 .3 2.9 .2-2 .3 .3 .2 2 .3-2.6 .3 1.8 .2-1 .3-4.8 .2 4.5 .3-4.5 .2 3.9 .3-1.7 .2-1.7 .3-.9 .2 .9 .3 .4 .3-3.9 .2-1.1 .3-1.7 .2-2.8 .3 1.5 .2-2.2 .3-2.4 .2 .3 .3-.7 .2-5.4 .3-.2 .3 3.9 .2-11.5 .3 4.2 .3-4.9 .2 2.2 .3-3.1 .3 7.9 .2 3.9 .2 .2 .3 3.3 .2 1.2 .2 6.9 .3 1.7 .2 3.8 .3 .2 .3 6.9 .2 1.5 .3 3.1 .2 2.6 .3 .5 .2-4.5 .3 .5 .2-1.5 .3-2.5 .2-.5 .3-3.4 .2-4.8 .3 2.5 .3 1.2 .2-1.6 .3 1.1 .2-.2 .3-.1 .2-3.5 .3 1.1 .2 4.1 .3-1.5 .2-4.8 .3 3.4 .2-.6 .3 4.1 .3-3.3 .2-2.8 .3 1.3 .2-.3 .3-1.1 .2-4.3 .3 1.5 .2 1.8 .3-2.3 .2 .2 .3 3.5 .2-2.8 .3-1.1 .3-.8 .2-.3 .3 2 .2 .7 .3-.2 .2-2.6 .3-4.1 .2 6.9 .3 .4 .2-1.8 .3 1.4 .2-2.6 .3 1.1 .3-1.5 .2-.1 .3 1.8 .2-1.8 .3-.2 .2-1.9 .3-2.8 .2 3.6 .3-1.4 .2 2.4 .3 4.9 .2-1.2 .3 6.7 .3 2.9 .2 4.5 .3 2.2 .2 1 .3-2.1 .2-2 .3-5.4 .2 4.5 .3-4.9 .2-.3 .3 1.8 .2-3.2 .3-1.4 .3-1.3 .2-.2 .3-1.8 .2 3.8 .3-2.7 .2 4.5 .3-1 .2 4.6 .3-1.7 .2 1.3 .3-10.1 .2 11.3 .3 .4 .3-.3 .2-.6 .3 4.1 .2-.1 .3 .6 .2 2.2 .3-.5 .2 4.4 .3-4.5 .2 2.9 .3 6 .2-6.6 .3 .5 .3-1.3 .2 2.8 .3 .5 .2 2.4 .3-.5 .2 .1 .3-.9 .2-4.3 .3 5 .2-1.2 .3 .7 .2-1.3 .3 3.2 .3-2 .2-1.1 .3 .7 .2-1.4 .3-1 .2 0 .3-1.6 .2-1 .3-1.4 .2-3.6 .3 6.1 .2-2.8 .3-.7 .3-.4 .2 .6 .3-3 .2 .8 .3-2 .2-3.6 .3 4.4 .2-1.2 .3-1.6 .2 1.7 .3-1.5 .3 .4 .2 3.1 .3-2.5 .2-1.4 .3-.3 .2 7.1 .3 .3 .2-.8 .3 1.5 .2 1 .3-1.9 .2 1.5 .3 6.4 .3-5.9 .2 3.4 .3 .3 .2-.3 .3 3 .2-1.6 .3 2.4 .2-3.4 .3 2 .2-5.6 .3 3.8 .2 2.9 .3-1.7 .3 .9 .2 .4 .3-3.2 .2 .9 .3 1.9 .2 .7 .3 2.8 .2 .1 .3 .1 .2-2 .3 .3 .2-.1 .3-.1 .3 1.1 .2-2.3 .3 2.2 .2-.1 .3-.3 .2-1.4 .3 1 .2 1.3 .3-1.6 .2-2.6 .3-.1 .2 1.5 .3 .8 .3-2.7 .2-.6 .3-.6 .2 2.3 .3 .1 .2-1.5 .3-3.5 .2 4.6 .3-.6 .2 1 .3-5.1 .2 2.9 .3 .2 .3 1.8 .2-3 .3 .9 .2 3.9 .3-1.2 .2-.1 .3 1.8 .2 2.2 .3-2.2 .2 .5 .3 .6 .2-3.7 .3 2.4 .3-5.4 .2 5.4 .3 1 .2 .5 .3-.1 .2-.9 .3-4.8 .2 1.2 .3 5.5 .2 1.3 .3-1.7 .2 3.6 .3-1.3 .3 5.1 .2-4 .3-.8 .2 2.7 .3 .8 .2 1.3 .3-.8 .2-1.8 .3 1.4 .2 .7 .3-2.3 .2 .4 .3 2.3 .3-1.6 .2 .2 .3-.9 .2 1.2 .3-2.4 .2 2.7 .3 .5 .2-4.6 .3 3.3 .2 2.8 .3-.2 .2-1.3 .3 3.5 .3 .5 .2-.9 .3 .1 .2 1.2 .3 3.1 .2-3.2 .3 2.8 .2-.6 .3 2.2 .2-2 .3-.8 .2-.8 .3 5.3 .3-.7 .2-5.1 .3 3.6 .2 .2 .3 1.6 .2-4.2 .3 .7 .2 4.7 .3-1.8 .2-.1 .3-1.2 .2-.9 .3-1.3 .3 4.3 .2-.7 .3 2.2 .2-2.2 .3 2.9 .2-.3 .3-1.1 .2 9 .3-6.7 .2-.4 .3 .4 .3 4.2 .2-4.1 .3 5.7 .2-4.9 .3 3.1 .2 .1 .3 5 .2-6.2 .3 1.1 .2 7.1 .3 .1 .2-.8 .3 2 .3 1.8 .2-5.3 .3 4.9 .2 3.3 .3 1.1 .2-.8 .3 2.1 .2-2 .3 5.4 .2-.2 .3-.9 .2 0 .3-3.6 .3 8.4 .2-3.6 .3-.2 .2-.4 .3-1.5 .2 6.6 .3-1.4 .2-.7 .3 3.6 .2-3.6 .3 0 .2 .1 .3-1.1 .3 2.9 .2 1.7 .3 .2 .2-4.3 .3 7.1 .2-.4 .3-3.6 .2 4.3 .3-.8 .2-.4 .3 1.9 .2 3.2 .3-3.8 .3 3.8 .2-1.6 .3 1.6 .2-.3 .3 2.5 .2 5.5 .3-4.3 .2 2.6 .3 2.5 .2 2 .3 .2 .2-4.3 .3 .9 .3-2.6 .2-2 .3-2.3 .2-1.4 .3-4.2 .2-1 .3 .1 .2-2.2 .3-3.5 .2-.2 .3 1.5 .2-.3 .3 4.3 .3-2.5 .2 1.9 .3 1.8 .2-.8 .3 .7 .2-1 .3 1.5 .2 1.2 .3 1.1 .2 1.4 .3-.8 .2-4.3 .3 4.2 .3 3.7 .2-2.3 .3 4.4 .2-.2 .3 3.2 .2-3.9 .3-1.2 .2 1.2 .3 0 .2 3.1 .3 .6 .2 6.9 .3-1.7 .3-5.6 .2 2 .3 1.2 .2-1.5 .3-.7 .2 3.7 .3-.1 .2-3.1 .3 .7 .2 1.8 .3-2.7 .2 1.3 .3 0 .3 1.8 .2 2.1 .3-5.4 .2 2.1 .3 .3 .2-.9 .3 3.3 .2-3.7 .3 2.5 .2 .2 .3-2.4 .2 1.9 .3-2.1 .3-.9 .2 .2 .3-.3 .2-.9 .3-2.2 .2 1.9 .3-1.4 .2 1.8 .3-4.7 .2 3.7 .3 .8 .2-.6 .3-.5 .3 1.7 .2-.4 .3-4.4 .2 5.4 .3 .7 .2-1.9 .3 2.1 .2 1.9 .3-1.8 .2 1.1 .3-3.1 .2 4.1 .3-1.4 .3 3.1 .2 0 .3-.6 .2 .2 .3 3.1 .2-2.3 .3-1 .2 2.4 .3-.5 .2 .9 .3-1.1 .3 7.3 .2-2.6 .3-2 .2 1.3 .3 5.1 .2-2.7 .3-8.5 .2 9 .3 1.6 .2-1.4 .3 2 .2 .6 .3-.3 .3 3.5 .2-1.6 0 6.2 .3 1.3 .2 4.9 .3-3.3 .2 2.9 .3 2.8 .2-2.8 .3 1.2 .2 .3 .3 2.9 .2 2.6 .3 .7 .3-1.3 .2-3.5 .3-1.3 .2-4.7 .3-3.5 .2 2 .3-3.2 .2-1 .3 2.4 .2-3.3 .3 4.2 .2-2.5 .3 .2 .3-.2 .2 4.5 .3-3 .2 2 .3-.3 .2 .6 .3 1.1 .2-.8 .3-4.4 .2 3.1 .3-1.4 .2-1.8 .3 6.2 .3-1.1 .2 3.5 .3 .1 .2 2.2 .3 4.9 .2-2.5 .3 2.2 .2-.9 .3 3.6 .2 2.9 .3-2.2 .2-.1 .3-.7 .3-9.2 .2 5.1 .3 .1 .2-2.5 .3-6.7 .2 5 .3-1.2 .2-2.9 .3-6.1 .2 3 .3-.2 .2-3 .3 0 .3-3 .2-.3 .3 5.8 .2-4.3 .3 4.5 .2 5 .3-3.2 .2 4.1 .3 .2 .2 1.3 .3 1.5 .2 6 .3-2.3 .3 1.3 .2 .1 .3-.3 .2-.3 .3-5 .2-.9 .3 2.6 .2 2.5 .3-4.4 .2 2.6 .3-3.4 .2 6.1 .3-1.2 .3-6.6 .2 4.9 .3-2.6 .2 .8 .3-2.8 .2 2.6 .3-.1 .2-1.4 .3 .7 .2-1.4 .3-5.1 .2 1.7 .3-2.3 .3-2.9 .2 1.8 .3 1.2 .2-2.8 .3 3 .2-.3 .3 2.6 .2-.5 .3-.2 .2-.2 .3-2.6 .2-3.9 .3 2.2 .3-9.7 .2 1.4 .3-4.8 .2-2.5 .3-2.6 0 4.3 .2-3.5 .3-.8 .2 .5 .3-6.4 .2-4.9 .3 .7 .2-1.5 .3-4.1 .3 1.1 .2-4.9 .3-4.2 .2-2.7 .3-.6 .2 2.5 .3 .1 .2 .4 .3 3.2 .2 4 .3-2.7 .2 3.7 .3-2.1 .3-1.4 .2 1.1 .3 4 .2 1.6 .3-2.4 .2 .3 .3 5.3 .2-2.3 .3 2.4 .2 1.5 .3-1.1 .3-.3 .2 1.6 .3 1 .2 .5 .3-4.6 .2-1 .3 3.3 .2 1.4 .3-9.1 .2 7 .3 0 .2-2.4 .3 3.9 .3-.2 .2-2.5 .3 2 .2 .4 .3 .1 .2-.6 .3-1.7 .2-3.2 .3 2.5 .2-4 .3 2.7 .2-6.5 .3 .1 .3-1 .2-3.8 .3-.4 .2 1.4 .3-1.1 .2 1.1 .3 .4 .2 .3 .3-.6 .2 1.4 .3 8.8 .2-6.8 .3-.1 .3 3.8 .2-4.4 .3 4.3 .2 .4 .3-2 .2 1.2 .3-3.2 .2 2.6 .3 2 .2 1.4 .3-3.3 .2 1.3 .3-5.8 .3 0 .2 2 .3-.7 .2-3 .3 3.3 .2-2.2 .3-1.9 .2 1.2 .3-3.6 .2 3.6 .3-.5 .2 .7 .3 .7 .3-3.6 .2 7 .3-1.6 .2 1.4 .3-2.7 .2 2.3 .3 2 .2-1.4 .3 2.4 .2-2.6 .3-2.8 .2 .6 .3-.7 .3-1.2 .2 1 .3-.3 .2-1 .3-1.4 .2-2 .3 .3 .2-2.3 .3-1.7 .2 .9 .3-1.6 .2 1.2 .3 1 .3-2.2 .2-.4 .3-.1 .2-2.8 .3-1.4 .2-1.8 .3-2 .2 4.1 .3 .4 .2-6.5 .3 3.5 .2-1.5 .3-2.1 .3-.5 .2 .9 .3-2.2 .2 .5 .3-2.4 .2 3.2 .3-.4 .2 .9 .3-2.7 .2 2.2 .3-2.7 .2-.9 .3 1.5 .3 5.3 .2-6.6 .3-.1 .2-2 .3 2.2 .2-2.6 .3 1.7 .2-3.2 .3 2.2 .2-1.5 .3-2.2 .2 .5 .3 1.3 .3 .7 .2-2.1 .3-2.2 .2-2.9 .3-2.7 .2 2.6 .3-.9 .2 1.1 .3 2.7 .2-6.1 .3 4.8 .2-3.4 .3 1 .3-.2 .2-3 .3 2.1 .2-.5 .3 2.2 .2-3.2 .3 1.8 .2 1.2 .3-3.7 .2 1.5 .3 .4 .2-3.3 .3 6.8 .3-2.4 .2-2.7 .3 3.5 .2-.3 .3 2.2 .2 1.3 .3 1.1 .2 1.7 .3 2.3 .2-.6 .3 2.3 .3 .5 .2 2 .3-2.6 .2-.4 .3 1.6 .2-2.2 .3-2.3 .2 2.5 .3-2.8 .2 1.4 .3-2.7 .2-2.1 .3 2 .3-.5 .2-1 .3-4 .2 2.9 .3-3.8 .2 3.1 .3-1.8 .2 .1 .3 1 .2-3.2 .3 2.5 .2-.3 .3 .8 .3 3.2 .2-3.1 .3 0 .2-2.3 .3 1.7 .2-3.6 .3 1.7 .2 3.6 .3 2.2 .2 5.4 .3-.2 .2 5 .3 2.9 .3 3.8 .2 5.7 .3 .6 .2-.8 .3-4.5 .2 3.9 .3-3.5 .2 .6 .3-.8 .2-3.5 .3-.6 .2-.3 .3-1.4 .3-5.7 .2 3.6 .3 1.9 .2-1.4 .3-.3 .2 1.1 .3-.3 .2 .5 .3-.1 .2-.7 .3 .7 .2-7.3 .3 4.6 .3 3.1 .2-1.5 .3-1.4 .2-.9 .3 2 .2 .2 .3 0 .2-1.6 .3 .1 .2-2.5 .3 .2 .2 1.7 .3-3.6 .3 1.4 .2-2.2 .3 2.5 .2-3.1 .3 3.7 .2-1.5 .3-2.9 .2-.2 .3 1.8 .2-.6 .3-.7 .2-.5 .3 4.2 .3-5.7 .2 6.9 .3-5.1 .2 4 .3-2.2 .2-1.1 .3 2.9 .2-1.3 .3-2.8 .2 5.5 .3-.2 .2 1.7 .3-2.8 .3-2.1 .2-.9 .3 .3 .2 1.1 .3-.6 .2 3.6 .3-1.2 .2-3.4 .3-.2 .2 .7 .3 1.7 .2-4.4 .3 2.4 .3-2.5 .2-.9 .3-.5 .2 .6 .3-2.2 .2 2.5 .3-.8 .2 .6 .3 2.3 .2-4.4 .3-3.9 .2 4 .3 4.3 .3 1.3 .2-1.2 .3 .8 .2 4.9 .3 .1 .2 1.2 .3-2.3 .2 .5 .3 3.2 .2-2 .3 4.3 .2 1.8 .3-1 .3-.1 .2 .2 .3-.6 .2 1.8 .3-1.8 .2-.7 .3 8.6 .2-2.5 .3-1.7 .2 1.2 .3-1.2 .2 2.5 .3-3.9 .3-1.3 .2-3.1 .3-3.9 .2 1.3 .3-1.3 .2 1.7 .3-.3 .2-1.2 .3-1 .2-2.8 .3-.9 .3-.5 .2-.3 .3-2.7 .2-2.3 .3 2.6 .2 .3 .3-.7 .2-6.4 .3 5.8 .2-6.1 .3-1.6 .2-.5 .3-.2 .3 4.4 .2-6.2 .3 2.7 .2-3.1 .3-2.5 .2-2 .3-.3 .2-.2 .3-1.9 .2-2.5 .3 1 .2-.6 .3-1.4 .3 .2 .2 2.6 .3 3.1 .2-3 .3 5 .2-3.2 .3 3.6 .2-.6 .3-.3 .2 2.2 .3-3.2 .2 2.3 .3-2.2 .3 1.9 .2 .6 .3-.9 .2 1.5 .3-6.6 .2 3.4 .3-.3 .2 4.8 .3-.8 .2 3.6 .3-3.6 .2 1.9 .3-3.1 .3 3 .2 .6 .3 3.1 .2-.1 .3 4.5 .2-3.7 .3 1.8 .2 2.6 .3-1.2 .2 2.2 .3 1.5 .2 0 .3 .5 .3 1.8 .2-1.1 .3 2.5 .2 8.4 .3-8 .2 3.8 .3 .3 .2 2.2 .3-1.1 .2-4.7 .3 1.5 .2 .1 .3-2 .3-.9 .2 .1 .3-7.2 .2 1.8 .3-2.3 .2-1.3 .3-3.2 .2-.7 .3-2.5 .2 1.6 .3-3 .2-1.7 .3-5.4 .2 3.1 .3-2.8 .2-2.9 .3-2.2 .2-2.9 .3-1.7 .2-.1 .3-1.1 .2-2.2 .3 .2 .2-5.6 .3 .5 .2-1.2 .3 1.7 .2-3.4 .3-7.4 .2 .1 .3-.1 .2-1.9 .3-.5 .2-.9 .3-1.9 .2-2.4 .3 1.1 .2-4.1 .3 2.5 .3 6.8 .2 4.6 .3 .8 .2 6.7 .3 1.8 .2 6.1 .3 3.2 .2 .1 .3 .7 .2-2.1 .3-.9 .2 1.4 .3 1.5 .3-2.9 .2-.7 .3 2 .2-4.9 .3 3.5 .2-1.8 .3 .8 .2 .7 .3 6 .2-4.3 .3 2.8 .2 3.8 .3 .9 .3-.5 .2 10.3 .3-6.5 .2-.6 .3-1 .2 2.1 .3-1.6 .2-.6 .3 1.3 .2-1 .3-3 .2 3.3 .3 2.1 .3-2.9 .2 2.5 .3 .8 .2-2.3 .3-1.1 .2-2.3 .3 .9 .2 .2 .3-1.4 .2 .4 .3-.6 .2 1 .3-1.3 .3 1.9 .2-1.4 .3 1.1 .2-1.4 .3-2.5 .2 4.7 .3-2.6 .2-.8 .3 3.7 .2-1.2 .3 1.8 .2-.4 .3-.5 .3-1.7 .2 .9 .3 .8 .2 .3 .3-1.1 .2 0 .3-1 .2 3.6 .3-5.5 .2 3.6 .3-1.1 .3 0 .2 1.5 .3 1.1 .2 1.5 .3-.4 .2 .5 .3-.9 .2-.4 .3 0 .2-3.8 .3 2 .2 .1 .3-2.1 .3 .7 .2 .3 .3 1.7 .2-3.5 .3 1.1 .2 4.7 .3-1.4 .2 2.9 .3-3.7 .2-1.4 .3 4.5 .2-.5 .3-3.2 .3 .2 .2 3 .3 1.3 .2 6.8 .3-6.4 .2 1.3 .3-1.4 .2 .8 .3 2 .2 1 .3-.4 .2-2.6 .3 3.3 .3 .9 .2 .4 .3 2 .2-2.6 .3 4.4 .2 0 .3 1.2 .2-2.2 .3 1.7 .2-.1 .3 1.8 .2 .1 .3-.2 .3-2.5 .2 4.7 .3-1.5 .2 1.3 .3 1.2 .2-.2 .3 2.2 .2-3.5 .3 5.3 .2 1.4 .3-1.6 .2 1.3 .3-2.2 .3 1.6 .2-4.6 .3 3.4 .2-3 .3 .1 .2 .9 .3-2.7 .2 3.9 .3-2.1 .2 .1 .3-1.6 .2 3 .3-4.1 .3 0 .2 .1 .3 4.3 .2-2.2 .3-.5 .2-1 .3 1.1 .2 1.9 .3-5.2 .2 3 .3 1.8 .2-2.6 .3 2.5 .3-2.1 .2 2 .3 4.5 .2-1.6 .3-.9 .2 .8 .3-2.3 .2 2.4 .3-2.3 .2-1.9 .3-.5 .2-.6 .3 2.1 .3-3.3 .2 4.2 .3-2.3 .2 1.8 .3-1.4 .2-1.7 .3-.1 .2 1.2 .3-.4 .2-4 .3 1.5 .2 .8 .3 .9 .3-4.7 .2 4 .3-4.4 .2-1.3 .3 1.5 .2-1 .3-1.9 .2 1.4 .3-2.6 .2 1 .3 1.2 .2 1.2 .3 1.5 .3-2 .2 7.5 .3-5.6 .2-.3 .3 2.4 .2-3 .3 2.5 .2 .4 .3 .4 .2 1.6 .3 1.5 .2-1.8 .3 2.4 .3-5.1 .2 3.4 .3-3.8 .2 7.5 .3-6.2 .2 1.7 .3 5.3 .2-4.7 .3 .1 .2 1 .3-6.1 .2 1.2 .3 4.3 .3 0 .2-2.2 .3 .4 .2 1.1 .3-1.1 .2-3.4 .3-1.3 .2 1.6 .3-2.4 .2 3 .3-2.3 .3 2.4 .2-3.4 .3 1.1 .2-1.8 .3 .1 .2-2.1 .3 2.3 .2-2.2 .3 2.7 .2-.7 .3 2.7 .2-4.9 .3-3.5 .3-9.8 .2 10.3 .3-1.4 .2 1.1 .3 .4 .2-2.7 .3 1.2 .2-1.8 .3-1.7 .2 1.3 .3 1 .2-.6 .3-.4 .3 3.1 .2-2 .3-1.6 .2 .4 .3 3.2 .2-10.5 .3 8.1 .2-.1 .3-.4 .2 .2 .3-1.5 .2-1.3 .3 3.6 .3-1 .2-2.2 .3 4.1 .2 1.8 .3-2.6 .2-1.6 .3 2.8 .2 3 .3 .7 .2-2.2 .3 1.2 .2 2.8 .3-1.7 .3 1 .2-1.7 .3-.1 .2-3.3 .3 0 .2-1.6 .3 3.6 .2-5.2 .3 .6 .2 4.3 .3-6.8 .2-1 .3-1.1 .3 1 .2-2.9 .3 3 .2 1.9 .3-1.5 .2-1.7 .3-1.4 .2 1.1 .3-.9 .2-.6 .3-.9 .2-1.2 .3-3.2 .3-.2 .2-1.2 .3-3 .2 2.4 .3-4.6 .2 3.1 .3-7 .2 4.4 .3-3.1 .2-.6 .3-1.1 .2 .3 .3-4.1 .3-1.7 .2-2.4 .3 3.4 .2-1.5 .3-5.8 .2-1.2 .3-.4 .2 .9 .3-1.5 .2-.8 .3 .4 .2-2.5 .3-2.3 .3 2.9 .2 1.2 .3 4 .2-1.9 .3 4.5 .2 5.2 .3-.8 .2 5.2 .3-.2 .2-1.4 .3-.2 .2 .9 .3-3.2 .3-.7 .2-3.4 .3 .5 .2-4.7 .3 3.1 .2-3.3 .3-1.7 .2 1.7 .3 .3 .2-.4 .3 .6 .2-.8 .3 2 .3 2.2 .2 1.9 .3 .1 .2 .8 .3 .6 .2-.8 .3-3.4 .2 7.6 .3-5.5 .2 3 .3 .5 .2 1.2 .3-1.9 .3-.8 .2 5.8 .3-1.8 .2 3.5 .3-2.1 .2 1.4 .3-6.3 .2-3.6 .3-1.2 .2 0 .3-.8 .3-4.9 .2 1.3 .3-2.1 .2 2.2 .3-5.6 .2 1.3 .3-.9 .2 1.8 .3 .6 .2-.9 .3 .6 .2 3.5 .3 .2 .3 1.9 .2 2.2 .3 3.1 .2-2 .3 2.1 .2-.2 .3 3.4 .2-3.2 .3 2.3 .2 1.6 .3-.5 .2 .3 .3 2.4 .3-1.3 .2-.8 .3 2.1 .2 0 .3 3.4 .2 .9 .3 4.3 .2 1.6 .3 1 .2 3.3 .3 2.3 .2 1.4 .3-.2 .3-.5 .2-3.9 .3-3.4 .2-1.1 .3-4.8 .2 1 .3 1.1 .2-4.3 .3 3.2 .2-4.6 .3-.7 .2-1.3 .3 0 .3-1.7 .2-.8 .3-.6 .2-.8 .3-3.5 .2 .5 .3 0 .2 .8 .3 2.8 .2 1.4 .3 3.3 .2-2.4 .3 5.4 .3 3 .2-2.9 .3 5 .2-.4 .3 4.4 .2-.6 .3-5.6 .2 4.6 .3 .1 .2 1.4 .3-.5 .2 3.3 .3 3.1 .3-2.1 .2-1.8 .3-.2 .2 .3 .3 .1 .2 .8 .3-.8 .2-2.4 .3 2.8 .2-1.4 .3-1.1 .2-7 .3 9.6 .3-7.1 .2 .2 .3 2.2 .2-3.3 .3 4.5 .2-1.8 .3-3.6 .2-2.5 .3-.2 .2-1.1 .3-1.7 .2-1.6 .3-1.2 .3-3 .2-.7 .3-1 .2 3.2 .3-2.1 .2 4 .3-2.5 .2 1.9 .3 4.4 .2 1.2 .3-2.5 .2 5 .3-2.7 .3 3.3 .2 .7 .3-3.1 .2-1 .3 2.5 .2 2.9 .3-4.8 .2 1.7 .3-.4 .2 .4 .3-1.8 .2-1.1 .3-2.5 .3 .5 .2-.9 .3 2.2 .2-1.4 .3 1.9 .2 2.6 .3 2 .2 6.8 .3-1.9 .2 1.4 .3 3.4 .2 0 .3-8 .3 2.1 .2 3.8 .3-2.3 .2 2.6 .3-3.9 .2 1.4 .3-3.1 .2-.3 .3 2.6 .2-1.4 .3 .9 .2-2.6 .3-1.7 .3 .2 .2-.4 .3 .2 .2-2.8 .3 1.6 .2-.4 .3 2.9 .2-4.5 .3-2.2 .2 .9 .3-.5 .3-.5 .2-1.2 .3 1.5 .2 .1 .3-4.6 .2-.1 .3-.6 .2-2.2 .3 4.7 .2-6.9 .3 .8 .2-3.5 .3 1.8 .3-.2 .2-2.6 .3-.6 .2 6.7 .3-5.1 .2-1 .3 .5 .2 1.3 .3-1 .2-.3 .3-.4 .2 6.3 .3-.8 .3-.1 .2 .3 .3 2.1 .2-.7 .3-1.1 .2-2.4 .3 2 .2-1.8 .3 .6 .2-6.1 .3-1.4 .2-3.7 .3 6.8 .3-2.3 .2-4.7 .3 1.2 .2 1.1 .3-2.7 .2 2.2 .3-1.4 .2-1.6 .3-.4 .2-.1 .3 2.1 .2 1.6 .3-1.3 .3-.6 .2 6.7 .3-5.1 .2-.2 .3 5.7 .2-2.9 .3-1.5 .2-.3 .3 4.1 .2-4.5 .3-.6 .2 1.6 .3-2.7 .3 2.5 .2-.5 .3-4.2 .2 4.3 .3 1.6 .2-3.3 .3-3.2 .2-.8 .3 1.4 .2-.9 .3-.1 .2-1.1 .3-3.2 .3 2.2 .2-3.7 .3 2.5 .2-.7 .3-1 .2 .5 .3-4.5 .2 5.1 .3-2.7 .2 1.3 .3-1 .2 3.1 .3-1.4 .3 3.2 .2-1.7 .3 1 .2 2.4 .3-2.3 .2 4.5 .3-.8 .2 1.9 .3-.5 .2-4.5 .3-1.4 .2 4.7 .3-5.9 .3 0 .2-7.1 .3 2.2 .2-3.2 .3 .6 .2-3.6 .3 .4 .2 .6 .3 .9 .2-4.4 .3 1.9 .2-.8 .3 .6 .3-.1 .2-.1 .3-4.2 .2 3.6 .3-.3 .2-.8 .3-1.4 .2-2.1 .3-.5 .2-1 .3-3.5 .2 2 .3 .3 .3-.4 .2-2 .3 2.4 .2-2.1 .3-3.5 .2 1.1 .3 .9 .2-.3 .3-1 .2 3.6 .3-7.6 .2 3.1 .3-4.3 .3-.6 .2-2.9 .3-.6 .2 .1 .3 1.9 .2 3.6 .3-2.3 .2-3.4 .3 3.7 .2-3.2 .3 2.8 .2-1 .3 .5 .3 2.7 .2-3.9 .3 5.8 .2 7.7 .3-6.2 .2 7.2 .3 8.5 .2 3.6 .3-2.3 .2 2.8 .3 7.1 .3 1.7 .2-5.7 .3-5.6 .2 8.2 .3-5.9 .2 .7 .3 2.5 .2-1.3 .3-2.3 .2 2.2 .3-5.8 .2 1.1 .3 1.5 .3-1.5 .2-3.3 .3 2.4 .2-1.6 .3-3.3 .2 2.3 .3 1 .2-3.3 .3-2.6 .2 1.6 .3-.1 .2 .8 .3-1.3 .3-.1 .2-.6 .3 2.5 .2-2.2 .3 3.9 .2-3.3 .3 5 .2-.2 .3 2.2 .2-1.3 .3 6.8 .2 2.5 .3-1 .3-.7 .2 1.1 .3-.1 .2 3.9 .3-.8 .2 3.5 .3-1.5 .2 7.7 .3-.9 .2-1.5 .3 2.8 .2 1.2 .3 2.9 .3-5.7 .2-9.4 .3-4.9 .2-6.4 .3 2.6 .2 1.5 .3 .4 .2 5 .3-4.7 .2 7.3 .3-3.2 .2 2.4 .3 .8 .3 2.9 .2-1.1 .3 2.4 .2-.9 .3-1.5 .2 .9 .3-2.3 .2-.2 .3 2.6 .2 2.6 .3-4.1 .2 .6 .3-3 .3 2.5 .2-3.4 .3-3.3 .2 3.4 .3-.3 .2 .3 .3 2.1 .2-1.6 .3-2 .2 4.5 .3 3.5 .2-3.5 .3 3.4 .3-1.4 .2 2.7 .3-1.1 .2 3.1 .3 2.4 .2 1.6 .3 3 .2-.7 .3 .6 .2-.3 .3 .5 .2-2.8 .3 2.5 .3 2 .2-3.3 .3 2.3 .2 3.5 .3-4.7 .2 1.5 .3 6.9 .2-4.4 .3-.7 .2 .3 .3-2.6 .2 .1 .3-1 .3-3.5 .2 .6 .3 .1 .2 5.1 .3-3.6 .2-2.7 .3-.3 .2 3.7 .3-3.7 .2-.5 .3-1.1 .2 2.7 .3-3 .3 1.7 .2-1.4 .3-.5 .2-.6 .3 .1 .2 .9 .3 .4 .2-1.2 .3 .9 .2-2.4 .3 2.2 .2-4.2 .3 3.8 .3-7.8 .2 3.4 .3 1.4 .2-.4 .3-.1 .2 3.4 .3-2.3 .2-.7 .3 3.3 .2-2.5 .3 1.7 .2 .4 .3 1 .3-1.8 .2 1.3 .3-.4 .2 2.3 .3 2.1 .2-3.2 .3 1.2 .2 1.1 .3-3.6 .2 1.7 .3-.5 .3 .8 .2 2.7 .3-2.1 .2 5.2 .3-4 .2 2.3 .3-5.4 .2-2 .3 1.7 .2-1.1 .3-1 .2 1.5 .3-3.8 .3 2.9 .2-2.3 .3 3.3 .2-4.4 .3 2.8 .2-1.1 .3 2.4 .2 1.2 .3 1.4 .2-8.3 .3-.1 .2 4.5 .3 .3 .3 .1 .2-4.8 .3 2.5 .2 .3 .3-1.2 .2-2.8 .3 2.7 .2-4.4 .3 0 .2-.7 .3-1 .2 .4 .3 2.6 .3-6.6 .2 2.5 .3-2.3 .2 2.5 .3-3.4 .2 0 .3 .6 .2 .6 .3-4.8 .2-1.3 .3-2.2 .2 2.4 .3-4.1 .3-.5 .2-2 .3-.2 .2-3.2 .3-2.4 .2-.5 .3 .9 .2 .4 .3-2.8 .2 .1 .3-1.1 .2 1.8 .3-2.9 .3 2.6 .2-1.9 .3-3.1 .2 2.4 .3-3.2 .2 2.3 .3-2.9 .2-1.9 .3-.1 .2 1.6 .3 3.2 .2-7.8 .3 2.5 .3 .1 .2-2.4 .3 2.6 .2 1.8 .3 1.4 .2 .6 .3 1.1 .2 .9 .3-5.1 .2 6.1 .3-3 .2-1 .3 5.3 .3-2.5 .2-1.6 .3-1.1 .2-4.6 .3-.7 .2 1.2 .3 .2 .2-2.4 .3 .4 .2-3.2 .3-3 .2-5 .3-3.1 .3 1 .2 2.1 .3-4.8 .2 6.5 .3-2.4 .2 5.9 .3-2 .2 0 .3 4.9 .2-.3 .3-3.6 .2-3.7 .2 .2 .3-3.1 .2-2.7 .3 .7 .2-2.2 .2-1.6 .3-3.1 .2-3 .3 22.6 .2 8.8 .2 12.5 .3 11.6 .2 11 .2 14.8 .3-2.8 .3-1.6 .2 1.1 .3-.3 .2-3.1 .3-1 .2 .9 .3 1.5 .2 2.6 .3-1.7 .2-.9 .3 0 .2 .3 .3-3.1 .3 .8 .2-.9 .3 .5 .2-.9 .3-.9 .2 2.6 .3-1.3 .2-2.1 .3 1 .2-2.8 .3-2 .2 3.7 .3 .8 .3 0 .2-1.8 .3 0 .2 1.6 .3-2.4 .2-.9 .3 .3 .2-.7 .3-1.4 .2-.9 .3-2 .3-2 .2 2.8 .3-1 .2-3.4 .3-.7 .2-.3 .3-3 .2-1 .3 3.2 .2-3.8 .3-1 .2 1.4 .3-2.1 .3 .8 .2-3.4 .3-.9 .2 3.9 .3-6.8 .2 2.8 .3-3.7 .2 .3 .3-.9 .2 1.7 .3 3.1 .2 .1 .3-3.7 .3 3.6 .2 5.2 .3-5.9 .2 4.5 .3 3.3 .2-1.8 .3 5.8 .2-1.7 .3 2 .2-2.4 .3 2 .2-3.4 .3-.7 .3 2.1 .2-2.8 .3-1.1 .2 4.3 .3-3.5 .2-.6 .3 4.6 .2-4.3 .3-.8 .2 3.1 .3-4.6 .2 .8 .3-3.2 .3 2.9 .2-.5 .3 .6 .2 .9 .3-2.3 .2 1.1 .3-1.7 .2 .2 .3 .7 .2-.8 .3 1.7 .2-.2 .3-2.9 .3 .7 .2-2.1 .3 1.1 .2 1.7 .3 .5 .2 6.3 .3-5.4 .2-.1 .3 1.3 .2-.5 .3 1.6 .2 2.3 .3 1.8 .3-4.2 .2 2 .3 3.5 .2 .4 .3 .3 .2 3.7 .3-3.7 .2 .2 .3 1.4 .2-2.2 .3 1 .2 3 .3 2.9 .2-3.6 .3 4.8 .2 2.7 .3-5.1 .2 3.2 .3-1 .2 1.7 .3-1.2 .2 5.2 .3-4.8 .2 1.8 .3-3.1 .2 4.9 .3 1.6 .2-1.2 .3-5.2 .2 1.4 .3 5.2 .2-1.8 .3-.1 .2 3.7 .3-8.2 .2 5.7 .3-2 .2 .2 .3 .5 .3-.7 .2 1.4 .3-.5 .2-.4 .3-2.2 .2 1.3 .3-1.9 .2 1.7 .3-.4 .2-.3 .3-2.7 .2 3.7 .3-1.8 .3-1 .2-3.6 .3-2.9 .2 2.4 .3 .3 .2-.3 .3-.4 .2-.1 .3-2.1 .2-4.1 .3 1.3 .2-2.1 .3 .1 .3-1.4 .2-.6 .3-.8 .2 .1 .3-2.1 .2-1.9 .3-.8 .2-2.4 .3-1.3 .2-.3 .3-2.1 .2-1.2 .3-2.9 .3-3 .2-3.5 .3 1.3 .2-2.2 .3 1.6 .2-3 .3-.6 .2 1.1 .3-1.4 .2-5.7 .3 .6 .2-.7 .3 1.1 .3-2.1 .2 .4 .3-.7 .2-1.4 .3 .4 .2-2.7 .3-.7 .2 2.4 .3-4.5 .2 3.3 .3-3.6 .2-1.4 .3-4.2 .3 2.5 .2-.4 .3-1.6 .2-.5 .3-1.1 .2 2.1 .3-3.2 .2-.5 .3 .4 .2-2.3 .3 8.3 .3-11.6 .2 1.7 .3-1.6 .2 4.3 .3-2.8 .2 2.6 .3-.2 .2-.5 .3 4 .2-1.7 .3 1.6 .2 .8 .3 1.4 .3 2.1 .2-4.3 .3-6.7 .2 10.8 .3-4.8 .2-3.1 .3 3.7 .2 1.3 .3-.1 .2 1 .3-4 .2-1 .3 7 .3-1.1 .2-1.1 .3-.8 .2-1.9 .3-1.3 .2-.6 .3 .7 .2 5.2 .3-1.3 .2-.6 .3 2.4 .2 3.3 .3 .4 .3-3 .2 5.5 .3 .1 .2 .1 .3 .4 .2 2.1 .3-1.8 .2 3 .3 .2 .2-3 .3 4 .2-.9 .3 1.4 .3 .9 .2 .4 .3-1.2 .2 .5 .3 1.9 .2-1.3 .3 1.6 .2 .8 .3-3 .2 1.8 .3 5.8 .2-3.1 .3-.7 .3 2.7 .2 1.5 .3-2.4 .2 .2 .3 1.4 .2 2.3 .3 2.4 .2-.2 .3-2.7 .2 3.3 .3-2.3 .2 .9 .3 2.3 .3-1.9 .2-4.3 .3 2.7 .2-4.4 .3-.1 .2 .9 .3 4.2 .2-3.6 .3 0 .2 1.8 .3-1.8 .2-.9 .3 .4 .3 .3 .2-3.4 .3 2 .2-2.1 .3-1.3 .2-.5 .3 0 .2 .6 .3 1.7 .2-3.7 .3 1.3 .2-.2 .3-2.2 .3-1.2 .2 1.3 .3-1.4 .2 3.3 .3-1.4 .2-3.2 .3 0 .2-1.7 .3 2.5 .2-.5 .3 3.5 .2 3.4 .3-3.1 .3-4.3 .2 1.4 .3 2.1 .2-.5 .3 2.4 .2 1.7 .3 3.2 .2-2.7 .3 1.5 .2 1.2 .3 1.5 .2 1.6 .3 2.2 .3-5.7 .2 4.8 .3-.8 .2 1.2 .3-.9 .2 2.6 .3-.7 .2-1.9 .3 1.6 .2 .7 .3 1.9 .2 .8 .3-.8 .3 1.9 .2-.7 .3 .9 .2-3.6 .3-1.3 .2 1 .3 1.3 .2 4.2 .3-.8 .2 1.1 .3-1.3 .2 2 .3 2.4 .3-4.6 .2 1 .3-.3 .2 .8 .3 3.1 .2-3.7 .3 1.7 .2-2.1 .3 2.5 .2-.8 .3-2 .3-1.9 .2 3.7 .3-3.5 .2 1.5 .3-2.9 .2 3.5 .3 1.6 .2-2.6 .3-.5 .2 .4 .3-2.3 .2 .1 .3 2.6 .3 .8 .2-1.2 .3-2 .2-1.5 .3-1.1 .2-6.4 .3 6.1 .2-3.7 .3-1.5 .2 .7 .3 2 .2-3.1 .3-.3 .3 .3 .2-.5 .3-1.7 .2 3.8 .3 4.4 .2-5.6 .3-1.6 .2 3.8 .3-3.3 .2 0 .3-3 .2 4.8 .3-.1 .3-3.2 .2-2.9 .3 .1 .2 0 .3 2.4 .2 0 .3 .1 .2-.1 .3 1.6 .2-1 .3-3 .2-.8 .3 2.2 .3 1.3 .2 .9 .3-3.6 .2-2.5 .3 1.1 .2 0 .3-.6 .2-.7 .3-2.3 .2 6.7 .3-3.4 .2-.2 .3 .9 .3-2.8 .2-2.2 .3-.4 .2 5.8 .3-.2 .2-1.9 .3 0 .2 .2 .3 2.8 .2-2 .3-.2 .2 4.9 .3-8.3 .3 1.5 .2 5.4 .3-7.3 .2 .8 .3 2.2 .2-1.5 .3-.3 .2 1.2 .3 .2 .2-3.7 .3-2.1 .2 3.8 .3 4.3 .3-3.8 .2 .8 .3-.6 .2 5.5 .3 .1 .2-8.3 .3 3.9 .2-.2 .3-1.4 .2 2.8 .3-1.8 .2 .4 .3-.3 .3-.1 .2-.3 .3 3.8 .2 2.1 .3-3.8 .2-1.1 .3 3.8 .2-3.6 .3-.7 .2-.8 .3-1.7 .2 3 .3 2 .3-4.3 .2 6.3 .3-11.9 .2 5.5 .3-1.4 .2 2.2 .3 0 .2-1.1 .3 .9 .2 4.7 .3-2.3 .2 2.7 .3 1.5 .3-3.1 .2 2.1 .3 .5 .2-2.8 .3 2.7 .2 2.3 .3-1.3 .2-2.4 .3 4.3 .2-.7 .3 3.7 .2-5.6 .3 3.9 .3-1.9 .2 .6 .3-3.1 .2 1.6 .3 1.5 .2-1.1 .3-.6 .2 .7 .3 2.9 .2-4.4 .3-.5 .3 4.6 .2 0 .3-3.4 .2 .7 .3 .8 .2-.1 .3-.5 .2 3 .3 .7 .2-.3 .3-1.9 .2 3.2 .3 1 .3-3.4 .2-1.8 .3 2 .2 5.9 .3-5.7 .2 .6 .3 .5 .2 5.3 .3-2.1 .2-10.7 .3 9.6 .2 3.6 .3-.7 .3 1.7 .2 4.8 .3-6.1 .2 .5 .3-3.3 .2 4.7 .3-5.3 .2 4.8 .3-5.3 .2 3.3 .3 1.2 .2 .6 .3 .8 .3-3 .2 .4 .3 5.9 .2-.9 .3 2.1 .2-4 .3-.9 .2 .9 .3 1.9 .2 1.6 .3-.8 .2-1.1 .3 .7 .3 4.3 .2 .3 .3-2.6 .2-3.8 .3 5.6 .2-2.5 .3 2.5 .2-.6 .3-1.9 .2 1.7 .3-.7 .2 4 .3-.7 .3 .7 .2-1.5 .3 1.3 .2-2.9 .3 1.4 .2 .2 .3 .1 .2 2.2 .3-7.2 .2 3.3 .3 .9 .2 .6 .3-3.2 .3 11.6 .2-8.5 .3-4.9 .2 1.7 .3 .1 .2-1.7 .3-2.9 .2 3.6 .3-.5 .2 1.8 .3 3.5 .2 .3 .3 3.5 .3-.2 .2 1.2 .3 .1 .2 .3 .3 1.9 .2-1.1 .3 1.7 .2 1.6 .3 3.6 .2-3.2 .3-.3 .2 1.8 .3 1.5 .3-3.4 .2 .8 .3 3.1 .2-1.2 .3-2.1 .2-1.2 .3 4.6 .2-1.2 .3 1 .2 1.4 .3 .1 .2-.7 .3 .1 .3 .4 .2 2.2 .3-.7 .2 1.3 .3-3.9 .2-3.2 .3 3.4 .2 .6 .3-.6 .2 .2 .3 .7 .2 .7 .3-1.2 .3 2.8 .2 1.6 .3-2.8 .2 0 .3-.9 .2-3.6 .3 5.4 .2-5.5 .3 2.2 .2 1.5 .3 .9 .2 .6 .3-1 .3 2.1 .2-3 .3-.2 .2 3.2 .3-4.2 .2 1.1 .3-.6 .2-3.3 .3-.4 .2 2.1 .3 .2 .2 3.4 .3-2.1 .3-4.5 .2 3 .3-2 .2 .7 .3 .8 .2-.6 .3-1.1 .2 2.9 .3-1.6 .2-1.6 .3-.6 .3 0 .2 12.4 .3-12.9 .2 .8 .3 2.9 .2-5.1 .3-.4 .2 5.1 .3-7.4 .2 2.7 .3 3.5 .2-.8 .3 1.5 .3 .4 .2-4.1 .3-.2 .2 4.3 .3-1.2 .2 1.7 .3-1 .2 6.6 .3 1.2 .2 2 .3 2.4 .2-3.6 .3 .4 .3 3.6 .2-1.9 .3 4.1 .2-2.9 .3-4.7 .2-1.1 .3 .3 .2 3.2 .3-3.1 .2 .6 .3-2.9 .2 .9 .3-2.6 .3 2.2 .2-1.7 .3-.6 .2-5 .3-1.2 .2 5 .3-.8 .2-1.2 .3 .3 .2 1.5 .3-2.4 .2 2.3 .3-2.6 .3 .7 .2 2 .3-.5 .2 2.7 .3-1.9 .2 1.1 .3-2.1 .2-.1 .3-1.6 .2-2.9 .3 1.2 .2-1.5 .3-1.4 .3-3.8 .2-1.1 .3 1.5 .2-3.3 .3 2.8 .2-1.8 .3-.1 .2-5.2 .3 2.7 .2 .3 .3 3.7 .2-2.7 .3 2.4 .3-.1 .2-4.8 .3 2.5 .2-1.2 .3 .4 .2 .7 .3 1.3 .2-4 .3 2.9 .2 0 .3-1.9 .2 5.3 .3-5 .3 2.3 .2 3 .3-.2 .2 1.7 .3 .6 .2-2.2 .3 4.3 .2 1.7 .3 1.6 .2-1.5 .3-1.4 .2-4.3 .3 7.4 .3-3 .2 3.8 .3-.9 .2 2.8 .3 1.8 .2-2.9 .3-.5 .2 3 .3 .3 .2-2 .3 2.7 .2-.2 .3 6.1 .3 1.2 .2-2.1 .3 .1 .2-.6 .3 3.9 .2-.8 .3 2.2 .2 .5 .3 3.2 .2-.3 .3-.8 .2 1.4 .3-1.4 .3 2.7 .2 2.5 .3-2.9 .2-.3 .3 4.3 .2 3 .3-5.4 .2 6.9 .3-1.3 .2-4 .3 5.3 .2 1.3 .3-1.2 .2 2.3 .3-1.9 .2 4.1 .3 8.6 .2-1.9 .3 .8 .2 2.7 .3-1.1 .2 2.5 .3 4.9 .2-2.7 .3-1.3 .3 2.1 .2-3.4 .3 2 .2-.3 .3 .7 .2 .1 .3 0 .2 1 .3-1.5 .2-1 .3 0 .2-1.3 .3 8.2 .3-8.5 .2 2.7 .3-3.5 .2-1.7 .3 1.3 .2-1.3 .3 1.1 .2 1.3 .3 0 .2-1.5 .3 1.6 .2-1.2 .3-.1 .3 1.9 .2-.6 .3 .6 .2 1.9 .3 2.6 .2-4.2 .3 4.1 .2 1 .3-.4 .2-2.1 .3 5.1 .2 .7 .3 .2 .3-2 .2 4.6 .3-3.2 .2 1.8 .3 .6 .2-1 .3 2.7 .2-.6 .3 .3 .2-2.9 .3-1.2 .2 .1 .3-.5 .3-2.8 .2-2.6 .3-1.5 .2-.1 .3-.6 .2-1.6 .3 .6 .2 1.4 .3-3.6 .2-.5 .3-3.1 .2-2.4 .3 6.4 .2 .9 .3 1 .3-.2 .2 5.1 .3 7.5 .2-4.4 .3 3.9 .2-1.1 .3 .5 .2 6.4 .3-2.1 .2 .5 .3 3.2 .3-4.3 .2 .6 .3-1.8 .2 2 .3-3.3 .2 1.4 .3-3.5 .2-1.7 .3 1.3 .2 .7 .3-2.5 .2-2 .3 .9 .3 2.7 .2-4.3 .3 .6 .2 3.8 .3-2.6 .2-3.8 .3 5.5 .2 0 .3 4.1 .2-3.2 .3 1.4 .2-.1 .3 .2 .3-3.2 .2 1.3 .3 2.7 .2 .8 .3-3.7 .2 5.2 .3-1.4 .2-1.5 .3 4.7 .2-3.1 .3-.8 .3 0 .2 3.6 .3-2.1 .2-2 .3 1.7 .2-.4 .3 .4 .2-2.6 .3 2.2 .2 2.9 .3 1.9 .2 .1 .3 4.1 .3-3.6 .2 5 .3-1.7 .2-1.1 .3 3.9 .2-.3 .3-2.2 .2-1.8 .3 7 .2-3.7 .3 2.6 .2 .7 .3 1.7 .3 .6 .2 1.2 .3-2.9 .2 4.8 .3-8.8 .2 6.7 .3 .5 .2 1.1 .3 2.3 .2 5 .3-2.3 .2 .3 .3-.6 .3 2.9 .2-2 .3-.6 .2-3 .3-4.3 .2 .6 .3 .1 .2 2.8 .3-2.3 .2 3.2 .3-1.9 .2 1.8 .3 .5 .3 .6 .2-.6 .3 5.9 .2-2.4 .3-3.3 .2 3 .3-2 .2 2.8 .3-1.5 .2-3.2 .3-1.4 .2-2 .3-5.1 .3 4.2 .2-2.2 .3-1.6 .2 .2 .3-.6 .2 1 .3-3.8 .2-1.1 .3-3.5 .2 2.3 .3-4 .2-1.5 .3 1.1 .3 3.4 .2 .4 .3-2.8 .2-2.9 .3 .3 .2-1 .3-1.7 .2-1.4 .3 2.8 .2-1.4 .3-2.9 .2-.7 .3 .2 .3-1 .2 3.1 .3-1.5 .2-2.4 .3 4.8 .2 0 .3-.5 .2 0 .3 1.5 .2-1.3 .3 4.3 .2-4.7 .3 4.6 .3-4 .2-.8 .3 .4 .2-2.5 .3 .7 .2-.4 .3-2.5 .2 3.7 .3-2 .2-2.6 .3 .4 .2 1.5 .3 4.6 .3-1 .2 6.2 .3-1.5 .2 0 .3-2.4 .2-3 .3 4.9 .2-3.7 .3-.8 .2-2 .3-1.1 .2 0 .3 2.4 .3-1.6 .2-4.2 .3 .6 .2-4.8 .3 5 .2-2.2 .3 1.5 .2-.7 .3-.6 .2 1.5 .3-2.6 .2-3 .3 .2 .3-.7 .2 .6 .3-1.7 .2-.6 .3-3.3 .2 1.2 .3-.8 .2 1.5 .3-3 .2-1.2 .3 2.8 .3 1.2 .2 3.8 .3-3 .2-3.4 .3 5.6 .2-.7 .3 .1 .2 .6 .3-3.1 .2 1.7 .3-3 .2-3.5 .3 1.9 .3-1.8 .2 4.5 .3-4.3 .2 2.5 .3 1.4 .2 .9 .3 10 .2-8 .3 1.1 .2 .2 .3-.2 .2-2.9 .3 .6 .3-1.4 .2-1.5 .3 3.2 .2-3.1 .3-1.6 .2 .8 .3-2.7 .2 .7 .3 2.6 .2-1.8 .3 .4 .2-.4 .3 .9 .3-2.9 .2 7.2 .3-2.8 .2 3.6 .3-6.4 .2 7.7 .3-.2 .2-1.8 .3 7.6 .2-1.7 .3 2.3 .2 .4 .3 1 .3 1.2 .2 3.2 .3-1.6 .2 2.2 .3-6.1 .2-2.5 .3 .9 .2-3 .3 2.6 .2-5.4 .3 .6 .2 1.8 .3-2 .3-.1 .2 0 .3 1.5 .2-2 .3 .9 .2 .3 .3-1.9 .2 1.2 .3 1 .2-2.9 .3-2.5 .2-1.1 .3 .8 .3 1.6 .2 4.6 .3-5.5 .2 4.5 .3-3.5 .2 1.4 .3 1.9 .2 1.1 .3 1.8 .2-3.2 .3 2.1 .2-2 .3 2.2 .3-2.4 .2-1.3 .3-3.3 .2 4.1 .3-6.9 .2 .2 .3-.1 .2 2.1 .3 .7 .2-4.1 .3 2.8 .2 0 .3-.7 .3-.2 .2 1.1 .3 .7 .2 3.8 .3-1.3 .2 1.8 .3 1.1 .2 .2 .3-.3 .2 .1 .3 .6 .2 3 .3-.5 .3-1 .2 3.2 .3-2.5 .2-2.1 .3 2 .2-.6 .3-.8 .2 .3 .3 3.5 .2-1.7 .3 3.4 .2-4.1 .3-3.3 .3 .5 .2 .4 .3-4.3 .2 2 .3-2.6 .2 .3 .3 4.8 .2-3.3 .3-.6 .2 3 .3-2.9 .2-1.8 .3 1.6 .3 4.6 .2-4.3 .3-.2 .2 .8 .3 2.5 .2 .9 .3 .2 .2-2.9 .3 4.3 .2-1.7 .3-2 .2 3 .3-4.3 .3 .6 .2 1 .3 2.8 .2-1.9 .3 5.5 .2-2.4 .3 2 .2-2.1 .3-2.2 .2 4.4 .3-2.9 .3-.2 .2 1.7 .3-.6 .2 .1 .3 1.9 .2 .1 .3-3.1 .2 0 .3 2.3 .2-6.6 .3 .9 .2 1.9 .3-.9 .2-1.7 .2 1.4 .3-.5 .2-1.5 .3 1.8 .2-2.4 .2 2 .3 5.7 .2-2.9 .3-2.3 .2 5.6 .3-5.9 .2-1.7 .3 1.4 .2 3.8 .3-1.8 .2-4.7 .3 2.6 .3-.5 .2 2.6 .3-3.2 .2 1.9 .3-1.8 .2 .5 .3-1.5 .2-.8 .3 4.5 .2-1.7 .3 1.1 .2 .3 .3-.7 .3-3.5 .2 3.7 .3 3.7 .2-2.7 .3 2.8 .2-1.7 .3 1.3 .2 1.2 .3 4.1 .2-3.7 .3-3.3 .2 .5 .3 1.1 .3 3.3 .2 2 .3 1.1 .2-8.2 .3 8.7 .2 0 .3-6.6 .2 2.7 .3 .2 .2 .5 .3-2.7 .2 .8 .3-3.9 .3 2.9 .2-5.2 .3-2.3 .2 1.4 .3-1.2 .2-.1 .3-4 .2-3.7 .3-1 .2 .3 .3 1.2 .2-3.7 .3-3.2 .3-.5 .2 1 .3-.3 .2-.5 .3-2.5 .2-5.8 .3 3.7 .2-2.2 .3 1.8 .2-5.6 .3 1.7 .2-.6 .3-1.8 .3-1 .2 3 .3-3.9 .2 .8 .3-3.4 .2 3.1 .3 1.7 .2 1.8 .3 2.4 .2-2.5 .3 3.4 .3-2.9 .2 3 .3 3.6 .2-.3 .3 .1 .2 3.8 .3-1.9 .2-.7 .3-1.1 .2-4.1 .3 1.1 .2 3.7 .3-2 .3 .4 .2 3.9 .3 .9 .2-11.4 .3 9.5 .2-2.3 .3 4.2 .2-2.3 .3 .1 .2 5.6 .3 1.4 .2 3 .3 1.5 .3-3 .2 5.1 .3 1.2 .2 .5 .3 3.1 .2 1.6 .3-1 .2-2.3 .3 0 .2 1.2 .3-1.3 .2-.9 .3-.6 .3 .9 .2-4.1 .3-1.7 .2 2.1 .3 2.7 .2-.9 .3-2.9 .2-2.5 .3 9 .2-7.3 .3 2.9 .2-1.5 .3-1.6 .3 .8 .2-1.1 .3 .3 .2 .8 .3-3 .2-4.3 .3-2.7 .2-.9 .3 0 .2 .3 .3-.5 .2-4.4 .3 .7 .3-.2 .2-2 .3 4 .2-2.5 .3 3 .2 2.7 .3-1.4 .2 4.4 .3 .3 .2 1.7 .3 3.2 .2-.4 .3 1 .3 3.8 .2 .6 .3 .2 .2 5.3 .3 .5 .2-3.9 .3-1.5 .2 .7 .3-5.5 .2 4.2 .3-3.6 .2-1.8 .3-.7 .3 0 .2-.1 .3 3.3 .2-4.5 .3-.3 .2 5.1 .3-5.7 .2 1.3 .3 2.8 .2-3.1 .3 1.1 .2-2 .3 .7 .3 2.3 .2-2.9 .3 1.7 .2-3.6 .3 1.2 .2-3.8 .3 4.1 .2 .2 .3-1.3 .2 0 .3-.4 .2 0 .3 1.2 .3-.7 .2-2.8 .3-.8 .2 3.9 .3-5.4 .2-1.2 .3 1.7 .2-1.8 .3-2 .2-.5 .3-.4 .2-.7 .3 .6 .3 .5 .2 .5 .3 .7 .2-.2 .3 .5 .2-4.4 .3 5.9 .2-2.7 .3-.8 .2 3.3 .3-.3 .2-3 .3 2.5 .3 .3 .2-1.4 .3-.4 .2-1.5 .3 1.9 .2-1.3 .3-.9 .2 3.9 .3-.2 .2-2.9 .3 0 .2 1.6 .3-1.4 .3-2.1 .2 .8 .3-.4 .2 2.9 .3-2.4 .2-1.4 .3-3.3 .2 2.2 .3-.4 .2 .1 .3 .7 .3 2.7 .2 1.1 .3-2.2 .2 .7 .3-1.6 .2 3.1 .3-3.4 .2 1.9 .3-1.7 .2-.4 .3-.3 .2-.4 .3-1.3 .3 2.4 .2 2.2 .3-4.6 .2 1.6 .3-1 .2-5.1 .3 7.4 .2-7.6 .3 2 .2-1.3 .3-2.7 .2 3.6 .3 .9 .3-1.1 .2 .6 .3 2 .2-3.3 .3-1.2 .2-.1 .3-2.5 .2 3.7 .3-4.7 .2 .9 .3 .8 .2-1.3 .3 .7 .3-1.4 .2 1.5 .3 .8 .2-6 .3 2 .2 .3 .3 3.8 .2-4.1 .3 4.3 .2 1.6 .3-1.1 .2 1.6 .3-.9 .3-2 .2 .5 .3-.3 .2 .3 .3-3.5 .2-6.1 .3 8.7 .2-2.2 .3 1.8 .2 2.9 .3-4.5 .2-2 .3-1.3 .3 2.5 .2 3.1 .3-5.2 .2 1.3 .3-2.3 .2 1.5 .3-.8 .2 .5 .3-2.7 .2 .9 .3-1.5 .2 1.7 .3-7.2 .3 1.5 .2 .9 .3-2.2 .2 2.8 .3-5.4 .2 2.6 .3-2.9 .2 .4 .3 1.4 .2-3.5 .3-1.8 .2 1.9 .3-3.1 .3 .6 .2-3 .3 3.8 .2-1.4 .3-2.6 .2 3.2 .3-2.6 .2 4.7 .3 2.2 .2-1.8 .3 3.9 .2-.1 .3 2.7 .3 2.3 .2-3.9 .3 .3 .2-.9 .3-.1 .2-1.2 .3-2.1 .2-.5 .3-1.9 .2 3.1 .3-2.5 .2-.7 .3-2.9 .3 .2 .2-2.3 .3 2.5 .2-4.3 .3-2.9 .2-3 .3 5.6 .2-3.5 .3 2 .2-3.8 .3 .2 .2 .1 .3-1 .3 .5 .2 1.2 .3 3.9 .2-2.5 .3-.7 .2 2.6 .3-1.6 .2 .5 .3 6.9 .2-5.9 .3 2.5 .2-5.1 .3-2.9 .3 7.8 .2-.8 .3 1.5 .2-3.7 .3 2.8" fill="none" stroke="#029e73" stroke-width="1.6" stroke-linejoin="round"/>
<path d="M135.5 583.1l.3-10.4 .3-3.8 .2 1.8 .3-1.4 .2 1.1 .3-3.7 .2 1 .3-2.5 .2-.4 .3 3.5 .2-1.6 .3-.3 .2 2.3 .3 .6 .2 1.4 .3-1.7 .2-1.8 .3 7.3 .2-2.5 .2-.3 .3 3 .2 3.8 .3-.3 .2-1.9 .3 2.1 .2-1 .3 .8 .2 2.2 .3-.8 .2-1.7 .3-3.6 .2 2.7 .3-1.5 .2 4.7 .3-2.1 .2-2 .3-4.7 .2 5.4 .3-1.8 .2-2.6 .2 .3 .3 .5 .2-4.6 .3 10.2 .2-4.7 .3 1 .2 1.8 .3-.9 .2 .6 .3 .7 .2-.6 .3 5 .2-.5 .3-2.3 .2 2.1 .3 .7 .2 2.9 .3 1 .2-6.1 .2 4.6 .3 3 .2-2.6 .3-1.1 .2-.1 .3 3.2 .2 .3 .3 0 .2-1.8 .3 1 .2 2.8 .3 4.2 .2-3.3 .3-3 .2 2.1 .3 1.7 .2-2 .3-.9 .2-1.5 .3-1.4 .2-1.1 .2-1.4 .3-.2 .2-1.5 .3-2.5 .2-.4 .3-3.2 .2 4.6 .3 2.5 .2-.2 .3 9 .2-14.5 .3 4.7 .2 3.1 .3-.1 .2 1.5 .3-1.5 .2 .8 .3-2.2 .2 6.9 .3-4.5 .2 2 .2-1.1 .3 4.5 .2-1.3 .3 1 .2 7.7 .3 1.4 .2-1.4 .3 1.2 .2-2.1 .3 1.6 .2-4.3 .3 5.7 .2 .3 .3-4 .2 .4 .3-2.7 .2-3 .3-2.7 .2-2.5 .3-5 .2 2.1 .2 4.4 .3-4.1 .2-3 .3 1.9 .2-7.2 .3 3.4 .2-2.2 .3 2.5 .2 0 .3 2.9 .2-7.8 .3 8.1 .2-9.7 .3-.4 .2-2.4 .3 .2 .2 4.3 .3-.4 .2 3.6 .2-1.4 .3 3.9 .2 .9 .3-1 .2 4.6 .3 2.2 .2-3 .3 3 .2-3.7 .3 1.5 .2-7 .3 4.2 .2-1.2 .3-.5 .2-1.1 .3-3.6 .2 1.4 .3 5 .2-2.5 .3-3 .2 .1 .2-2.3 .3-.4 .2-1.8 .3 .3 .2 .1 .3-.3 .2 3 .3-1.3 .2-1.7 .3 2.5 .2-.7 .3 .4 .2-1.8 .3 2.7 .2 .8 .3-.4 .2 0 .3-2.3 .2 6.1 .3-3.6 .2 .7 .2 2.5 .3 1.5 .2-.7 .3-2.1 .2 1.9 .3 .3 .2 1.5 .3-3.7 .2 0 .3 2.2 .2 .1 .3-1.8 .2 4.5 .3-2.2 .2 4.9 .3 1.7 .2-3.4 .3 1.2 .2-1 .2 1.4 .3-.6 .2-1.3 .3-1.5 .2 1 .3-2.5 .2 1.6 .3-1.7 .2 3.5 .3 .5 .2-.2 .3-1.5 .2 1.8 .3-1 .2-.5 .3-4.6 .2 3.6 .3-4.8 .2-1.4 .3 1.1 .2-1.6 .2-3.2 .3-3 .2 1.1 .3-3.2 .2-.9 .3 3.2 .2 .6 .3 1.2 .2-1.4 .2 5.5 .3-3.7 .2-1.3 .3 4.5 .2-2.5 .3 3.9 .2-5.4 .3 3.4 .2 3.3 .2-3.8 .3 5.5 .2-3.8 .3-1.4 .2-.2 .3 .4 .2 .9 .3-1 .2 .7 .3 .9 .2 1.6 .3-3.4 .3-2.8 .2-1.2 .3 2.4 .2-.4 .3-2.3 .2 1 .3 1.8 .2-2.4 .3-.4 .2 3.6 .3-3.4 .2 .1 .3 .5 .3-1.2 .2-2.7 .3 3 .2-2.9 .3 2.8 .2-2.5 .3-2.2 .2 4.7 .3-4.6 .2 2.2 .3 .6 .2 .1 .3 .3 .3-4.3 .2 2.2 .3-.2 .2-1.8 .3 .4 .2 1.1 .3 1.7 .2-3.5 .3 .2 .2-1.8 .3-3.5 .2 5.7 .3-4.8 .3 2.8 .2-2.1 .3 1.7 .2 1.1 .3-1.1 .2-1.7 .3 1.2 .2 9.8 .3-10.8 .2 .1 .3 4.8 .2 .7 .3 2.2 .3 1.3 .2-3.2 .3-1 .2 2.7 .3 1.8 .2-3.3 .3-.3 .2-.2 .3 0 .2-3.9 .3 3 .2-4.3 .3 2.1 .3-.2 .2-.4 .3-2.4 .2 3.8 .3-1.7 .2 1.3 .3-2.7 .2-1.3 .3 4.5 .2 2.5 .3-.7 .2-.6 .3 5 .3-5.9 .2 5.9 .3-2.3 .2 1.9 .3 2.5 .2 2.7 .3-1 .2-4.3 .3 6.6 .2-2 .3-1.3 .2 1.2 .3-2 .3-3 .2 4.3 .3-3.5 .2 2.5 .3-1.9 .2-1 .3-3.8 .2-.2 .3-2.5 .2 3 .3-1.3 .3 1 .2 2.5 .3-4.1 .2-2.1 .3-2.4 .2 2.4 .3-1.1 .2-4.2 .3 3.4 .2-1 .3-.5 .2 1.4 .3-4.6 .3 1 .2-3.1 .3 5 .2-4.7 .3 5.7 .2-3.6 .3 1.6 .2 .4 .3-2.4 .2-.2 .3-2.3 .2 2.1 .3-1 .3 .5 .2-3.4 .3 2.6 .2 4.4 .3-2.3 .2 1.6 .3-3.7 .2 3 .3-5.2 .2 3.7 .3-.3 .2-.9 .3 3.2 .3 1.2 .2-2.8 .3 3 .2 2.1 .3 1 .2-.7 .3-.2 .2 3.7 .3-1.8 .2 2.7 .3-3.3 .2 1.6 .3 1.8 .3-2.4 .2 .6 .3 .8 .2 3.1 .3-2.6 .2 1.8 .3-7.6 .2 9.8 .3-3.5 .2 .7 .3-1.2 .2 3.3 .3-1.5 .3-.3 .2-.2 .3 3.5 .2-1.3 .3 1.7 .2 .7 .3 2.1 .2-1.1 .3-.2 .2-.5 .3 1.7 .2 4 .3-1.2 .3 3.2 .2-2.6 .3 3.6 .2-.2 .3-.4 .2 2.2 .3 3.4 .2 1.6 .3-1.7 .2 4.5 .3-5.3 .2 .4 .3 4.3 .3 1 .2-3.9 .3 .8 .2-.7 .3 1.7 .2 3.1 .3-2 .2 .8 .3 3.5 .2-1.9 .3-.6 .2-1 .3-3.4 .3 3.3 .2-4.6 .3-1.8 .2-1.8 .3 2.6 .2-4.5 .3 2.3 .2-.3 .3-3.1 .2-2.8 .3-2.5 .2 6.1 .3 1 .3-7.7 .2 .2 .3 4.2 .2 5.7 .3 3.2 .2-1.3 .3 6 .2-1.8 .3 4.8 .2 2.2 .3 2.1 .2-1 .3 6.1 .3-1.2 .2-2.2 .3-3.9 .2 .9 .3-5.6 .2-1.4 .3 1.2 .2-4.2 .3-1.4 .2-4.8 .3 2.9 .2-2.6 .3-1.1 .3-.8 .2 2.8 .3-4.6 .2 6.1 .3 1.9 .2-5.9 .3 2.7 .2-.3 .3-1.4 .2-1.7 .3-.9 .2-1.1 .3 2.1 .3-1.2 .2-.7 .3-1.7 .2 5.5 .3 .5 .2 3.5 .3 4.6 .2-5.4 .3 4.5 .2-.3 .3-.6 .3 5.6 .2 3 .3-.9 .2-1.3 .3-3.1 .2-4.1 .3-.9 .2-2.2 .3-4 .2 .9 .3-4.8 .2-3.7 .3 1.2 .3-7.1 .2 .7 .3-3.1 .2 1.2 .3 1 .2 2.7 .3-2.3 .2-3.6 .3 .4 .2-6.6 .3 8.6 .2-4.5 .3-3.1 .3 2.5 .2 .3 .3 0 .2 .1 .3-.7 .2 .9 .3 .4 .2-1.5 .3-2.8 .2 .2 .3-.3 .2 .1 .3 1.9 .3 .7 .2 1.8 .3-4.7 .2 .4 .3 .8 .2 1.4 .3-3.3 .2-1.6 .3-1.2 .2-.1 .3 1.2 .2-5.9 .3 4.2 .3 .1 .2 2.1 .3-4 .2 1.1 .3 1.7 .2-1.9 .3 4.9 .2 2.6 .3 4 .2-.4 .3-7.1 .2 8.5 .3 2.5 .3-1.6 .2 .3 .3 4.7 .2 2.9 .3-.2 .2 .4 .3 1.6 .2-1.6 .3 1.2 .2-2.9 .3-3.7 .2 2 .3-2.4 .3 .4 .2 .5 .3-6.8 .2 0 .3-1.5 .2-1.6 .3 .8 .2-.3 .3-4 .2-1.4 .3 1.4 .2 1.9 .3 .8 .3 .3 .2 2.5 .3-4.1 .2 1.2 .3-2.2 .2 3 .3-1.6 .2 2.3 .3-.4 .2-3.2 .3 5.3 .2-1.8 .3 2.4 .3-3.9 .2-3.9 .3 3.5 .2 0 .3-3.5 .2 .7 .3-4.8 .2 1.5 .3 0 .2-4.8 .3 .3 .2 0 .3 1.1 .3-2 .2-.8 .3 .5 .2-2 .3 .6 .2 .1 .3 2.6 .2-1.9 .3-.8 .2 6.1 .3-4 .2-1.2 .3-.2 .3-.4 .2 1.6 .3-3.4 .2 2.5 .3-2.4 .2 4.6 .3-3.1 .2-.7 .3-.5 .2 1.8 .3 .1 .3-2.6 .2 2.4 .3 .2 .2-3.5 .3-.3 .3 3.5 .2 1.1 .3-2.6 .2-2.1 .3 4.2 .2-4.6 .3 3 .2-1.1 .3 1.1 .3 5.9 .2-3.6 .3 3.7 .2 2.7 .3-1.8 .2-.3 .3 1.5 .2-4.4 .3 2.9 .2 .3 .3 1 .2 .1 .3-9.1 .3 9.8 .2-2.3 .3-1.9 .2 2.8 .3 2.3 .2-.9 .3-2.3 .2 3.9 .3 .3 .2-.1 .3 0 .2 1 .3-1.3 .3-4 .2-1.5 .3 5.2 .2-.2 .3-3.8 .2 .9 .3 .6 .2-.8 .3 .5 .2-.2 .3 0 .2 3.3 .3-.7 .3-2.7 .2-2.8 .3 4.7 .2-.2 .3 .5 .2 3.1 .3-.9 .2-.4 .3-.3 .2-1.4 .3 .5 .2 .1 .3-7.1 .3 3.5 .2-5.7 .3 5 .2 2.9 .3-5.4 .2 1.7 .3 1.2 .2 3.4 .3-7 .2 1.3 .3-1 .2 0 .3-1.4 .3 1.2 .2-3.4 .3 5.9 .2-5.6 .3 1.5 .2 3.9 .3-5 .2 3.8 .3-.9 .2 1.5 .3-2.1 .2 .6 .3 0 .3-5.3 .2 2.8 .3 2.1 .2-1.5 .3-2 .2-2.2 .3-2.3 .2 1.3 .3 .2 .2-5.5 .3-2.6 .2 2.9 .3-2 .3-.5 .2-1.8 .3 2.6 .2-1.3 .3 3 .2-.4 .3-3.7 .2-1 .3-.8 .2-1.4 .3 1.3 .2-.3 .3-1.9 .3-1.6 .2 3.2 .3-6.7 .2-1 .3-4.2 .2 1.2 .3-.3 .2 3.7 .3 .1 .2-.3 .3 2.4 .2-1.6 .3 4.2 .3 9 .2 1.8 .3-2.7 .2 1.6 .3 0 .2-.3 .3 3 .2-3.5 .3 2.2 .2-1.3 .3 3.6 .2 7.3 .3-1.5 .3 3.5 .2 3.6 .3-.3 .2-.5 .3-4.2 .2 .4 .3-2.9 .2-1.6 .3 3.1 .2-3.2 .3 2.6 .2 .1 .3-1.9 .3 1.4 .2-1.4 .3 .3 .2 .7 .3-.6 .2-1.6 .3 5.4 .2-3.6 .3-1.2 .2 1.6 .3 3.3 .3-3.9 .2 5.8 .3-6.7 .2 1.7 .3-3.1 .2 5.7 .3-4.4 .2-.1 .3-.6 .2-3.2 .3 .6 .2 2.9 .3 .6 .3-.4 .2 .7 .3-2.7 .2-1.5 .3 3.1 .2-4.6 .3-.1 .2 3 .3-1.4 .2-1.2 .3 .7 .2 1.5 .3-3.2 .3 .3 .2 3.3 .3 4.4 .2-2.2 .3 2.6 .2-2.6 .3-.3 .2 .2 .3 3.1 .2-2.9 .3 0 .2-2.4 .3 1.6 .2-.8 .3 2.2 .2 .2 .1-5 .2-1.5 .3 3.8 .2-3.1 .3 5.3 .2-4.5 .3 6.1 .2 2.2 .3 3.1 .2 1.3 .3 2.5 .1 8.4 .2 2.2 .2-.5 .2-1.4 .3-5.9 .3-2.2 .3 3.4 .2-1.3 .3 1.6 .3 5.1 .2-2.8 .3 3.1 .2-.3 .3 .2 .2 3.7 .3-1.6 .2 3.8 .3 .4 .2 2.6 .2-2.5 .3 7.5 .2-1.3 .2-1.9 .2-2 .3 1.7 .2 .6 .2 .9 .3 1.1 .2 .1 .3 .6 .2 9.6 .3-2.7 .3 .7 .2 2.9 .2 1.4 .3-1.7 .2 4.8 .2-1.4 .3 3.5 .2 .2 .2 1 .2-1.7 .2-1 .3-.1 .2 1.9 .3-.7 .3 2.5 .2-3.9 .3 2.3 .2-4.7 .3 3.5 .2-1.4 .3 4 .2 1.1 .3-.5 .2 1.8 .2-1.1 .3 .6 .2 1.7 .2 .1 .3 2.7 .2-2.5 .2-4.8 .3 1.4 .2 3.4 .3-4 .2-1.3 .2 0 .3-.6 .2 .6 .3 1.8 .2 .3 .3 1.2 .3 2.9 .2-1.6 .3-1 .2 2.9 .3 .4 .2 1.6 .3-.4 .2 .4 .2 5.4 .2-1.4 .2 2.1 .3-3.8 .2 4.9 .3-2.9 .2-2.6 .3 .7 .2 2.2 .2-4.1 .3 4.7 .2-1.8 .3 2.5 .2-2.4 .2 0 .3 4.8 .2 1.4 .2 3.8 .3-.2 .2 1.6 .3-.8 .2 2.5 .3 3 .2 .2 .3-.8 .2 2.6 .3-4.5 .3 4.3 .2-5.3 .3 .5 .2-1.3 .3 3.2 .2-1.4 .3-5 .2 2.6 .3-.8 .2-2.2 .3-3.5 .2 2.5 .3-.9 .3-2.9 .2 .5 .3 1.4 .2-2.8 .3-2.4 .2-.5 .3-3.2 .2-.6 .3-.7 .2-.8 .3-.4 .2 3 .3-7.1 .3 .8 .2 1.1 .3-.5 .2-2.3 .3-1.2 .2-1.8 .3 1.9 .2-.7 .3 1.4 .2-4 .3 1.1 .3 .4 .2-5.9 .3 4 .2-1.2 .3 2.4 .2 .5 .3-7.1 .2 4.6 .3-2 .2 .3 .3 1.4 .2 3.3 .3-3.8 .2-.5 .3 .8 .2-3.8 .3 4 .2 1 .3-.8 .2-1.2 .3-4.8 .2 4.1 .3-2 .2 1.9 .3 1.3 .3 1.7 .2 1 .3 .1 .3-3.3 .2 3.6 .3-.4 .2-1.3 .3-.3 .2 1 .3 1.9 .2-2.2 .3 1.4 .2-.6 .3-1.6 .2 2 .3 1.1 .2-3.9 .3 2.1 .2-5.5 .3 2.4 .3-1.7 .2 .7 .3-4.8 .2 .4 .3 1.2 .2-1.2 .3 3.3 .2-1.4 .3 4.7 .2-1.1 .3-1.4 .2 .1 .3 .4 .2-2.2 .3-.2 .2-.3 .3 1.7 .2-1.4 .3 .4 .3-1.4 .2 2.5 .3 3.2 .2-2.2 .3 1.5 .2-2.5 .3-1.2 .3 2.8 .2-1.4 .3 1.4 .2 .8 .3-1.8 .2-5.7 .3-1.1 .2-2.1 .3 4.4 .2-7.8 .3-.2 .2-3.8 .3-2.5 .2-1.6 .3-2.3 .3 5.1 .2-4.9 .3 5.5 .2 1.7 .3-.9 .2-3.3 .3 4.6 .2-4.1 .3-2 .2 1.3 .3 1.4 .2-4 .3 0 .2 2.1 .3-2.3 .2-3.9 .3 5 .2-2 .3-.7 .2-2.6 .3 3.2 .2-.5 .3-4.1 .2 1.7 .3-.8 .3 .2 .2-3.9 .3 3.5 .2-2.5 .3 1.6 .3-2.3 .2 .9 .3-2.9 .2 2.7 .3-3.5 .2 .9 .3 .5 .2-1.1 .3-.2 .2-.7 .3-1.1 .3 7 .2-6.5 .3 3.3 .2 .7 .3 .5 .2 1.9 .3 .4 .2 4.6 .3-3.4 .2 4.1 .3-2.7 .2 3.3 .3-.6 .3 5.8 .2-1.7 .3 .9 .2-.1 .3-.5 .2 1.5 .3 2.1 .2-1.3 .3 1.5 .2-3.6 .3 3.4 .2-3.6 .3 1.3 .3-2.7 .2-2.7 .3 1.3 .2-3.6 .3 1.1 .2 1.8 .3-5.5 .2 .6 .3 .1 .2-1.7 .3 .3 .2 2.4 .3-2.2 .3 3.9 .2-2 .3-.9 .2 2 .3 1.9 .2-4.5 .3 2.3 .2-2.2 .3 1 .2 7.4 .3-5.8 .2 .1 .3 4 .3 0 .2-2 .3 4 .2-2.3 .3-2.6 .2 5.4 .3-2.8 .2 .1 .3-.2 .2 2.6 .3-2.2 .2 2.7 .3 .7 .3-1.4 .2 2.1 .3-2.4 .2-1.5 .3 6.7 .2-3.2 .3 2.4 .2 2.3 .3-2.7 .2 1.8 .3 3 .2-1 .3 2.7 .3 1.3 .2-.8 .3-1.5 .2 .2 .3 0 .2 2.6 .3-2.1 .2-1.6 .3-3.2 .2-.9 .3-.5 .2 .4 .3 1.8 .3 .8 .2 2.7 .3-2.2 .2-4.5 .3 5.8 .2-.6 .3 1.3 .2-.9 .3 5.2 .2-2.8 .3-1.6 .2 .1 .3 5.2 .3-5.3 .2 3.1 .3-1.2 .2 .7 .3-1.5 .2-3.4 .3-1.1 .2 2.6 .3-1.8 .2 1.1 .3 1.4 .2-1.7 .3-1.6 .3 .7 .2-.6 .3 1.4 .2-1.3 .3 .2 .2 1.8 .3-3.2 .2-6 .3 7.1 .2-3.6 .3 3.2 .2-3.2 .3 0 .3-2.3 .2-1.1 .3 1 .2 2 .3 2.6 .2-6.1 .3 2.6 .2-2.9 .3-.9 .2-2.2 .3-.1 .2 .8 .3-.5 .3 .3 .2-1.7 .3-.3 .2-2.2 .3-2 .2 0 .3 .7 .2 2.9 .3-.5 .2 .1 .3 4.8 .3-5.2 .2 3.6 .3-.7 .2-1.8 .3 2 .2-.8 .3 2.7 .2-1.1 .3-1.3 .2 4.4 .3 3.4 .2-.4 .3 2.6 .3 .9 .2 .8 .3 3.8 .2-.2 .3-2.4 .2 .4 .3 2.6 .2 0 .3 .8 .2 1.2 .3 3.8 .2-2 .3-1 .3-.2 .2-3.3 .3 4.5 .2-1.6 .3-.7 .2-.9 .3-.2 .2-.2 .3 2.3 .2-2.8 .3-4.3 .2 2.7 .3-1.4 .3-1.3 .2-3.6 .3 1.7 .2 2.8 .3 .7 .2 .7 .3-2.3 .2-.3 .3-1.5 .2 2.9 .3-.7 .2-1.3 .3 0 .3-.7 .2 4.7 .3 .4 .2-1.6 .3 1.4 .2-2.7 .3 .2 .2 1.1 .3 2.2 .2 .1 .3 1.8 .2-1.7 .3 4.3 .3-5.6 .2 1.2 .3-.8 .2-.4 .3-1 .2-4.6 .3 3.8 .2-4.8 .3-3.1 .2 1.3 .3-.5 .2-.5 .3-2.2 .3 3.9 .2 .9 .3 3 .2 1.4 .3-1.2 .2-.8 .3 2.8 .2 5.8 .3-5.6 .2 2.7 .3-.8 .2 2.1 .3-3.5 .3 3.1 .2-4 .3 1.7 .2 3.7 .3-1 .2-2.3 .3 4.1 .2-4.8 .3 .9 .2 .1 .3-.3 .2 .1 .3 3.2 .3-1.7 .2-1.1 .3 1.8 .2 .4 .3 1.2 .2 .8 .3-2 .2 2.3 .3-4.2 .2 3.7 .3-3.4 .2 3.1 .3 .6 .3 .2 .2-3.7 .3-1 .2-.6 .3 1.1 .2-4.7 .3 9.8 .2-4.3 .3 1.8 .2 0 .3-.2 .2 3.5 .3-.6 .3 0 .2-1.2 .3-1.7 .2 0 .3 2.2 .2-.4 .3-.8 .2 .7 .3 1.1 .2-2.1 .3 4.1 .2-2.1 .3 1.7 .3-1.7 .2-.6 .3-.2 .2 1.5 .3 .9 .2 1.3 .3 .4 .2-1 .3 1.9 .2-.7 .3-.2 .3 0 .2-1.7 .3-3.9 .2 2.6 .3 2.1 .2-1.2 .3 1.4 .2-.4 .3 4.7 .2 0 .3-.5 .2 .7 .3 0 .3 .2 .2 4.6 .3-.5 .2-.7 .3 2.6 .2-2.2 .3 1.1 .2 6.3 .3-4.5 .2 3.5 .3-2.4 .2-.8 .3 2.3 .3 1.9 .2-13.5 .3 12.4 .2-3.1 .3 2.8 .2 4 .3-3 .2-.7 .3-2.1 .2 2.8 .3 .3 .2-.7 .3 2.2 .3-3.2 .2-3.9 .3 2.4 .2 1.5 .3 3.5 .2-2.1 .3-.5 .2 1.2 .3 1.7 .2 .8 .3 .2 .2 1.5 .3 1.4 .3-1.8 .2 1.3 .3 2.3 .2-6 .3 3.9 .2 4.2 .3-3.6 .2 .5 .3 2 .2-.6 .3-.1 .2 4.4 .3-.1 .3-1.2 .2-3.4 .3 4.9 .2-2.6 .3-1.4 .2 .6 .3-1.5 .2 4.7 .3-2.4 .2-.6 .3-2.5 .2 1.9 .3-1.8 .3 .4 .2-5.1 .3 2.9 .2 1.4 .3-2.4 .2 2.8 .3 2.4 .2 .2 .3-.9 .2 2 .3 2.7 .2-3.4 .3 .2 .3-.5 .2 .8 .3 .6 .2 3.6 .3-1 .2 2.1 .3 .8 .2 3.5 .3-2.6 .2 1 .3 2.8 .2-1.5 .3-1.4 .3 4.3 .2 .6 .3-2.8 .2 2.6 .3 .1 .2 1.7 .3 2.2 .2-5.4 .3-.9 .2-1.9 .3 .8 .2-2.7 .3 6.8 .3-2.6 .2 2.5 .3-2.4 .2 3.5 .3-.9 .2-3.7 .3 1.6 .2-1.5 .3 2.8 .2-2.7 .3-3.1 .2 3.3 .3-5 .3-.8 .2-.1 .3 1 .2-.5 .3-2 .2 2.3 .3 3.9 .2 1.9 .3-5.4 .2 1.9 .3 1.7 .2 .9 .3 .4 .3-.6 .2 .2 .3 1.7 .2-.4 .3-.6 .2 .7 .3 1.5 .2-2.8 .3 5.9 .2-1.1 .3-3.5 .2 3.6 .3-.5 .3 2.8 .2-2.7 .3 .3 .2-7.5 .3 11.9 .2-2.4 .3-.7 .2 1.8 .3-6.9 .2-4.1 .3 3.2 .3-2.4 .2-3 .3 4.4 .2-8.3 .3 1 .2 .4 .3-1.6 .2-1.8 .3-.6 .2 .1 .3-1.2 .2-1.9 .3 .3 .3-1.8 .2-.6 .3-1.8 .2-5.3 .3 6.3 .2-3.9 .3-2.6 .2 1.1 .3 .2 .2-1.8 .3-.6 .2-1.1 .3 .8 .3-5.4 .2 3.1 .3 1.4 .2-1.9 .3-1.3 .2 1.6 .3 2.5 .2-1.6 .3 2.2 .2-1.1 .3-.5 .2 2.7 .3 .5 .3 2.4 .2 2 .3-4.1 .2 7.3 .3-2 .2 1 .3-.5 .2-.2 .3-.3 .2-1.3 .3 2.5 .2-.9 .3 7 .3-3.1 .2-2.9 .3 2.6 .2-.6 .3 2.2 .2-3.2 .3 6.1 .2-4.2 .3 1.7 .2 4.3 .3 .2 .2-1.7 .3-.1 .3 3.3 .2-.7 .3 3.6 .2 1.2 .3-.5 .2 1.6 .3-2.2 .2 0 .3 1.1 .2 2.9 .3-.1 .2 1.1 .3-1.6 .3-1.8 .2 1.4 .3 .2 .2-1.9 .3 2 .2-5.1 .3 4.7 .2-.1 .3-2.2 .2-3.4 .3-1.9 .2 5.7 .3-2.4 .3 0 .2-1.6 .3 2.3 .2-1.7 .3 .4 .2-1.2 .3-.5 .2 1.3 .3-1.3 .2 .7 .3 2.7 .2-2.5 .3 1.1 .3-3.5 .2 3.2 .3 .7 .2 1.8 .3-1.9 .2-.9 .3 1.9 .2-1.6 .3 3 .2-.1 .3-1 .2-6.9 .3 4.8 .3 3.8 .2-2.9 .3-1.8 .2 1.7 .3 1.4 .2-3.3 .3-.3 .2 4.3 .3-.6 .2-2.5 .3-.6 .2 1.1 .3 1.3 .3-1.2 .2-.1 .3-2.3 .2 1 .3-.7 .2 4.4 .3 .1 .2 5.1 .3-8.6 .2 3.5 .3-1 .2 2.4 .3 1.6 .3 1.2 .2-.4 .3 2.1 .2 .9 .3-2.4 .2 .2 .3-.9 .2 3.3 .3 1.2 .2 .2 .3 2.1 .2 .2 .3 .3 .3 3.8 .2-.9 .3-.7 .2-2.1 .3 1.9 .2-1 .3 2.2 .2-2.3 .3 1.7 .2-1.7 .3 1.4 .3-.5 .2-9 .3 4.7 .2-.6 .3 0 .2 6.5 .3-6.5 .2-2.8 .3 1 .2-.6 .3-1.3 .2 2.1 .3-.3 .3-.5 .2 3.3 .3-2.8 .2 1.9 .3 1.6 .2-2.7 .3-.2 .2 .3 .3 1.5 .2-1.9 .3 2.6 .2-.1 .3 0 .3 6.1 .2 .3 .3-6.2 .2 6.6 .3-.6 .2 2.7 .3-1.5 .2-.9 .3-.3 .2 2.7 .3-4.2 .2 2.3 .3 .8 .3 .5 .2-1.9 .3 .2 .2 3.4 .3-1.9 .2-3.6 .3 .7 .2 1.6 .3-4.3 .2 2.3 .3-.4 .2-3.1 .3-1.5 .3 1.6 .2-2.1 .3 1 .2-.2 .3-3.9 .2 3.4 .3-1.4 .2 1.6 .3 1.5 .2-4.3 .3-.8 .2 3.8 .3-1.2 .3-2.8 .2 2.5 .3-.1 .2-.9 .3-3.3 .2 7.8 .3-8 .2-1.1 .3-3 .2-.2 .3-.2 .2-1.1 .3-1 .3 1.2 .2 3.6 .3-1.6 .2-3.8 .3-3.1 .2 3.5 .3-.2 .2-2.2 .3 1.7 .2-2.6 .3-3 .2 1.4 .3-4.6 .3 5.7 .2-2.4 .3-5.4 .2 2 .3 .6 .2-.6 .3-2.8 .2-.2 .3-1.2 .2-2.5 .3 3.8 .2-1.5 .3-1.5 .3-2.1 .2-2.3 .3 1 .2-1.9 .3-.6 .2-3.3 .3 1.8 .2-3.3 .3-4 .2-1.5 .3-.1 .2-3.9 .3 .7 .3-3.8 .2-1.7 .3-1.4 .2 .2 .3 .8 .2 7.1 .3-1.2 .2-1.8 .3 3.5 .2-.5 .3 .7 .2-2.6 .3 8.5 .3-1.7 .2 1.2 .3 3.4 .2-3.3 .3 .2 .2 4.4 .3-2.4 .2 .7 .3 .8 .2 1.9 .3 1.5 .2 1.1 .3 2.1 .3-2.3 .2-.3 .3 1.5 .2 2.6 .3-1.8 .2-2.1 .3 4.2 .2 4.4 .3-4.1 .2 1.8 .3 4.7 .2 .9 .3-1.6 .3-1.5 .2-.9 .3-2.1 .2 1.9 .3-3.7 .2-2.4 .3-.6 .2-2 .3-2.2 .2 4.4 .3-8.4 .3-.8 .2 3.8 .3-6.7 .2 4.8 .3-1.9 .2 1.1 .3-1.1 .2-.8 .3-3.7 .2 3.5 .3-1 .2-14.7 .3 9.8 .3 2.3 .2-2.6 .3 1 .2-1.9 .3-3.1 .2-.1 .3-3.7 .2 1.3 .3 .5 .2-2.1 .3 3.4 .2-5 .3-1.3 .3 2.8 .2-3.8 .3-2.7 .2-1.7 .3-4.9 .2 4.8 .3-.7 .2 1.2 .3-1.9 .2-4.1 .3 2.2 .2 1.2 .3-.3 .3 .8 .2-3.8 .3-2.8 .2 1.3 .3 1.3 .2-3 .3-.1 .2 1.8 .3-.4 .2-1.5 .3-1.2 .2-1.8 .3-.4 .3 2.8 .2-3.2 .3-1 .2-.6 .3-2.5 .2-.3 .3 0 .2-1.4 .3 .6 .2-.2 .3 .8 .2-2 .3 .3 .3-1 .2 4.1 .3-5.8 .2 2.7 .3-3.6 .2 .2 .3 3.2 .2 .3 .3-3.1 .2-1.3 .3-.2 .2 3.7 .3-2 .3-2.7 .2 2.3 .3-2.9 .2-1.4 .3 2.4 .2-.5 .3 .3 .2-3.7 .3 1.7 .2-.9 .3 0 .2-.3 .3-2.3 .3 .6 .2-1.1 .3 3 .2 1.3 .3-.7 .2-.5 .3-2.1 .2 1.6 .3-1.2 .2-1.2 .3 .4 .2-3.1 .3-.7 .3 2.8 .2-3.5 .3 1.5 .2 2.1 .3-4 .2-1.6 .3 4.1 .2-2.4 .3 3.3 .2-1.5 .3 2.6 .2-3.9 .3-2.5 .3-1.8 .2-.7 .3-4.1 .2 1.8 .3 2.4 .2-.6 .3-1.5 .2-1.6 .3-.7 .2 2.6 .3-.5 .2-2.2 .3-1.9 .3 3.2 .2-1.2 .3 2.6 .2 .5 .3 3.7 .2-5.2 .3 3.6 .2 2.7 .3-4.1 .2 1.3 .3 4.9 .2-.5 .3 1.2 .3 4.1 .2 .5 .3-3.6 .2-.2 .3 8.8 .2-3.7 .3 .4 .2 2.4 .3-1.2 .2 4 .3 1.2 .2-1.3 .3-.7 .3-.1 .2-4.7 .3 4.9 .2-1.8 .3-.5 .2-.3 .3-3.3 .2 1.3 .3 1 .2-1.9 .3-.4 .3-.7 .2 1.2 .3-2.3 .2 .4 .3-.8 .2 1.4 .3 .6 .2-.6 .3 3.4 .2-2.2 .3-1.8 .2 6.2 .3-2.5 .3-.5 .2-1.6 .3 .3 .2-7.3 .3 5.3 .2 2.5 .3 .4 .2-1.4 .3 3.7 .2-.6 .3-1.8 .2 .8 .3 .5 .3 1.9 .2-3.1 .3 3.1 .2 .5 .3 1.1 .2-.7 .3 2.8 .2-1.6 .3-1.1 .2 3.8 .3-11.8 .2 5.2 .3 .2 .3 .1 .2-2.8 .3 .6 .2-.5 .3-1 .2-.6 .3-.6 .2 2.7 .3-2.7 .2-2.3 .3 .7 .2-1.7 .3 .6 .3 0 .2 0 .3 .5 .2-3.2 .3 1.5 .2-1.3 .3 .4 .2 .4 .3-1.4 .2-.8 .3-1.9 .2 2.6 .3 .9 .3-2.7 .2 .8 .3-.4 .2-.2 .3-.7 .2 .2 .3 3.4 .2-3.7 .3 1.1 .2-.9 .3 2.1 .2-.5 .3-1.3 .3-1 .2 1.1 .3 2.5 .2-4.5 .3-.8 .2-.2 .3-6.1 .2 6 .3-3.8 .2 .2 .3-2.2 .2 4.3 .3-3.4 .3 1.4 .2-4.4 .3 2.7 .2 .9 .3 1.4 .2-4.4 .3 .2 .2 2.4 .3 4.8 .2 .5 .3 3.8 .2 3.9 .3 3.1 .2 .1 .3 2.9 .2 3.4 .3 2.7 .2 5.3 .3-5.8 .2 4.6 .3 3.5 .2-.1 .3 2.5 .2 4.7 .2 1 .3-4.3 .3 3.7 .2-4.4 .3 1.6 .2-5.2 .3-.1 .2-2.9 .3-1.4 .2 1.8 .3-6.2 .2 .1 .3-3 .2 .5 .3-2 .3 2.3 .2 1 .3-.9 .2-3 .3-2 .2-1.3 .3 3.3 .2-1.1 .3-.5 .2-3.5 .3-.3 .2-.3 .3-3.6 .3 1.2 .2-2.7 .3-1.6 .2-.3 .3-.2 .2 2.6 .3 .1 .2-1.9 .3 4 .2-2.7 .3-2.4 .2 2.5 .3 .6 .3-1.4 .2 0 .3-1.3 .2 .7 .3-.4 .2 1.8 .3-2.1 .2-3 .3 3 .2 1.3 .3 .9 .2-2.8 .3 1.7 .3 3.1 .2-6.7 .3 .5 .2 1.1 .3 .6 .2-2.4 .3-.2 .2 1 .3-.6 .2 .3 .3-1.2 .2-2.2 .3-2.2 .3-2.5 .2 4.4 .3-.4 .2-2.5 .3 1.7 .2-3.8 .3-1.2 .2 2.1 .3 3.3 .2-1.7 .3 .7 .3-5.2 .2 .7 .3-3.4 .2-2.6 .3 1 .2-3.1 .3 2.1 .2 .2 .3-.6 .2-.1 .3-1 .2 2.7 .3-1.9 .3 1.5 .2-.1 .3-.3 .2-1.4 .3 0 .2 1.6 .3-.3 .2 3 .3 3.9 .2-2.6 .3 1.2 .2-2.5 .3 2.6 .3-.6 .2 2.1 .3 .5 .2 2.5 .3 .4 .2-6 .3 2.6 .2-.6 .3 2.2 .2-3.1 .3 4.2 .2-4.1 .3 .5 .3-1.9 .2 2.3 .3-.1 .2-.1 .3 3.9 .2 1.4 .3 2.7 .2 4.6 .3 2.3 .2 3.9 .3-.4 .2 1.9 .3 1.8 .3 4.1 .2 .4 .3 2.6 .2 1.8 .3 2.1 .2 5 .3-3.6 .2 .5 .3-3.7 .2 .2 .3-3.5 .2-.1 .3-1.1 .3-4.3 .2-.6 .3 .7 .2-4 .3-2.2 .2-.2 .3 .1 .2-1.6 .3-1.9 .2 .3 .3-1.1 .2-.1 .3-1.9 .3 .3 .2-2.8 .3-1 .2 3.7 .3-2.9 .2-1.9 .3 .5 .2-.2 .3-1.6 .2-.9 .3 .6 .2-1.7 .3 1 .3-2.9 .2 3 .3-3.3 .2 3.3 .3-2.1 .2 .8 .3-2.1 .2-.5 .3 1.2 .2-1 .3-.3 .2-1.2 .3 .4 .3-2.2 .2 3.4 .3 1.8 .2-1.5 .3-2 .2 1.7 .3-4.7 .2 4.5 .3-2 .2-2.7 .3-.1 .2 2.1 .3 .5 .3 1.5 .2-2.8 .3-3.6 .2 3.1 .3-4.3 .2 3.2 .3 3.7 .2-4.9 .3-.4 .2-2.7 .3 .2 .2 3 .3-2.8 .3 2.6 .2-4.5 .3 .4 .2-.1 .3 1 .2-.7 .3 2.5 .2-.3 .3 .1 .2 3 .3-.4 .2-1.5 .3 4.2 .3-.5 .2 1.9 .3-3.3 .2-1.3 .3 4.5 .2-.7 .3 0 .2 .7 .3 0 .2-.3 .3 0 .2-.4 .3-3.9 .3 5.4 .2-.4 .3 1.1 .2-.6 .3 2 .2-2.7 .3 .5 .2-1 .3 1.2 .2 5.7 .3-4.6 .3-.1 .2 3.9 .3-3.2 .2 3.1 .3 .1 .2 .6 .3 3.2 .2-5 .3 1.2 .2 3.9 .3-4.2 .2 2.1 .3 0 .3 2 .2-3 .3 1.7 .2 .7 .3-.4 .2-2.9 .3 4.4 .2 3 .3 6.1 .2-4.3 .3-1.5 .2 5.6 .3-3.8 .3 1.5 .2 2.7 .3 2.7 .2-2.1 .3 .5 .2-.2 .3-1.4 .2 1.1 .3-3 .2-.1 .3 .6 .2-1.4 .3 0 .3-1.4 .2-1.1 .3-3.6 .2 4.1 .3-2 .2 .8 .3-.3 .2 2.4 .3 2 .2 5.2 .3 .4 .2-.3 .3 1.8 .3 1.9 .2 .6 .3 5.1 .2 .8 .3 1.4 .2 .3 .3 .6 .2 1.3 .3-5.7 .2 6.2 .3-.8 .2-1.3 .3 .8 .3-1.2 .2-.5 .3 8.4 .2 1.2 .3-9.6 .2-1.2 .3 4.1 .2 2.8 .3-2.7 .2 4.2 .3-.3 .2-2.6 .3-1 .3 3.4 .2-1.8 .3-2.8 .2 6.4 .3-4.7 .2 .6 .3-6.5 .2 5 .3 3.5 .2-1.4 .3-4 .2-.5 .3-2.1 .3 2 .2-.3 .3-2.5 .2-1 .3-2.6 .2 .2 .3 0 .2 1 .3-2.2 .2 2.4 .3-6.5 .2 4.6 .3-2.8 .3-1.7 .2 2.2 .3 3.7 .2-1.8 .3 .5 .2-1.9 .3 1.5 .2 .2 .3 2.4 .2-3.5 .3 1.9 .2-1.1 .3 .7 .3 .6 .2-3.5 .3 1.9 .2 1.5 .3-2.7 .2-1 .3 2.1 .2 3.8 .3-1 .2 3.7 .3-5.5 .2 3 .3-3.1 .3 2.7 .2-1 .3-.5 .2 5.5 .3-3.4 .2-.1 .3-1.3 .2 2.9 .3-.3 .2 .6 .3-.4 .2-1.8 .3 10.8 .3-11.9 .2 5 .3-2.6 .2-1.2 .3 .8 .2-1 .3-.5 .2-1 .3 1.9 .2-.4 .3 3.6 .3 .3 .2-1.5 .3-1.6 .2-5 .3 4.1 .2 1.9 .3 2.8 .2 .2 .3-1.2 .2-.8 .3-1 .2-3 .3 1.1 .3-1.5 .2 6.2 .3-4.8 .2-3.6 .3 3.6 .2-.8 .3-1.6 .2-3.7 .3 2.7 .2-4 .3 2.1 .2 2.7 .3-.4 .3 0 .2-.4 .3-2.2 .2 3.9 .3-2.4 .2-1.9 .3 1.7 .2-1.2 .3-.2 .2-3.8 .3 4.5 .2 .6 .3 .5 .3-1.1 .2 3.6 .3-1.5 .2 .1 .3 0 .2 1.6 .3-2.2 .2-1.9 .3 1.2 .2 1.9 .3-3.3 .2 1.4 .3 .7 .3-.2 .2-5.1 .3 3.4 .2 2.1 .3-5 .2 2.6 .3 1 .2-2.5 .3 6.3 .2-2.8 .3-.6 .2-3.5 .3 3 .3 1.4 .2-5.3 .3 3.3 .2 1.8 .3-2 .2-1 .3-1.4 .2 4.2 .3-.3 .2 2.9 .3-3.8 .2 2.2 .3-4.2 .3 3.5 .2 1.4 .3 1 .2-2.7 .3 .6 .2 2.1 .3-.9 .2 .6 .3 3.4 .2-8.9 .3 7 .2-.5 .3 4.2 .3-3.4 .2 2.4 .3-2.3 .2-.5 .3 1.9 .2 1.1 .3-.1 .2 .4 .3 .5 .2 .4 .3 2.8 .2-4.1 .3-2.2 .3 2.3 .2-1 .3-.1 .2-3.2 .3-1.5 .2 1.3 .3 2.7 .2-1.7 .3-3.2 .2 2 .3 3.8 .2 1.7 .3 .9 .3-.1 .2-1 .3-1.3 .2 4.7 .3-.9 .2-.8 .3 .6 .2-.9 .3-2.4 .2 1.7 .3 1.6 .2-2.5 .3 4.1 .3-3.3 .2 6.2 .3-5.3 .2-.4 .3 10.5 .2-7.9 .3 .2 .2-.3 .3-1.8 .2 1 .3-3.7 .2 3.9 .3 .6 .3-1 .2 0 .3-5.2 .2 3.6 .3-.3 .2 .5 .3 .8 .2-3 .3 4.5 .2-3.5 .3-1.4 .2-.1 .3-4.8 .3 3.3 .2-.1 .3 1.8 .2 9.5 .3-7 .2-.2 .3-3.2 .2-1 .3 2.2 .2 .1 .3-.2 .3-5.2 .2 4.9 .3 .2 .2-2.3 .3 1.5 .2 2 .3-1.7 .2-1.5 .3 1 .2-1.8 .3 4.4 .2 0 .3-2.1 .3 .8 .2-2.2 .3-3.4 .2 5.2 .3-3.3 .2 .5 .3-3 .2 2.8 .3-3.5 .2 2.1 .3 1.2 .2 .4 .3-1.3 .3 1.8 .2-1.1 .3-1 .2 .3 .3 .3 .2-.4 .3 .4 .2-2.6 .3-3.7 .2-1.4 .3-1.5 .2 4.3 .3-3 .3-1.9 .2-1.7 .3-.1 .2 5 .3-6.4 .2 3 .3 0 .2-2.2 .3 .3 .2-3.4 .3 2.4 .2 1 .3 .2 .3 .9 .2 .8 .3 5.5 .2-4.4 .3-1.3 .2 1.8 .3 1 .2-1.6 .3 1.1 .2 1.2 .3 .6 .2-1.6 .3-.6 .3-1.1 .2 2.9 .3-1.2 .2-3 .3-1.4 .2 1.8 .3 .2 .2-3.8 .3 2.1 .2 .2 .3-.8 .2-3.1 .3 .4 .3-1.2 .2 1.4 .3-2.5 .2-2.2 .3 6 .2-1.1 .3-2.7 .2 1.6 .3-.1 .2-.5 .3 2.5 .2 .4 .3-.3 .3 0 .2 1 .3-1 .2 1.6 .3 2.8 .2 .5 .3-2.1 .2 2 .3-1 .2-1.5 .3 4.8 .2-.2 .3-3.5 .3 1.2 .2 3.8 .3-4.7 .2-.6 .3 .1 .2-1.7 .3 1.4 .2-.4 .3 2.1 .2 1.2 .3-4.3 .2 .5 .3-.5 .3 1.1 .2 1 .3 .5 .2 1.4 .3-.1 .2-3.1 .3 1.7 .2 .5 .3 2.6 .2 1.1 .3-2.3 .2-2.6 .3 5.4 .3-2.1 .2 2.5 .3-.7 .2 4.5 .3-4.6 .2 .5 .3 .3 .2-3.2 .3-3.9 .2 2.1 .3 2.5 .2 .6 .3-1.5 .3 5.3 .2-7.1 .3 1.9 .2-1.7 .3 0 .2 2.7 .3-1.3 .2 1.4 .3 1.8 .2-3.5 .3-.2 .2 .6 .3-.5 .3 .6 .2-2.7 .3 3.6 .2 3.5 .3-2.3 .2-4.3 .3 5.3 .2-5.2 .3 1.3 .2 2.6 .3-1.8 .3-1.1 .2-1.5 .3 2.2 .2-3 .3 .9 .2-.9 .3 3.8 .2-3 .3 3.1 .2-.1 .3-1.5 .2-.1 .3-.2 .3 2.7 .2-5.1 .3 5.8 .2-4.6 .3 2.8 .2-1.7 .3 1.8 .2-2.6 .3-2.3 .2 1.7 .3 .8 .2-.9 .3 3.1 .3-2.2 .2 2.4 .3-.7 .2 .3 .3 2.3 .2-4.6 .3-.2 .2 4.3 .3-4.3 .2 .7 .3 4.6 .2-.1 .3-2.6 .3-2 .2-1.1 .3 2.4 .2 1.5 .3-3.9 .2 2.3 .3 .3 .2 .8 .3-.3 .2 1.4 .3-.5 .2 5.1 .3-2.3 .3-2.5 .2 1.3 .3 .6 .2-3.9 .3 2 .2 .9 .3-1.9 .2 2.9 .3-3.9 .2 3.2 .3 1.7 .2-6.4 .3 3.1 .3 1 .2-1.4 .3-.5 .2-1.8 .3 3.8 .2-4 .3 0 .2-2.1 .3 2 .2 1.5 .3 1.2 .2-3.7 .3 1.5 .3 .7 .2 .1 .3 1.5 .2 .7 .3-2.7 .2 2.4 .3-1.3 .2-1.8 .3-1.3 .2 4.1 .3-3.4 .2 7.7 .3-6.9 .3 1 .2 2 .3-2.2 .2 1.8 .3-1.2 .2 1.8 .3-3.7 .2 1.5 .3 1.5 .2-3.2 .3 .9 .2 1.6 .3-2 .3 1.1 .2-5 .3 4.9 .2-2.6 .3 1.3 .2 1.1 .3 1.4 .2-2.3 .3-2.4 .2 2.6 .3-.6 .2 3 .3-3.3 .3-1.5 .2 2.2 .3-.2 .2 .4 .3 1.1 .2-1.5 .3-.8 .2 2.5 .3-3 .2 5 .3-1.3 .2 .8 .3-1.7 .3 3.3 .2-.6 .3-2.6 .2-1.5 .3-4.6 .2 3.6 .3-.9 .2 1.5 .3-1.7 .2 2.4 .3-.9 .2 3.4 .3-1.9 .3 .4 .2 1.8 .3-3.7 .2 3.3 .3-4.5 .2 1.4 .3-.6 .2 1.4 .3-2.2 .2-3.3 .3 3.8 .2 2 .3-2.4 .3-2.8 .2 2.3 .3-.1 .2-1.3 .3 1.7 .2-.8 .3-.1 .2 3.1 .3-5.1 .2 .9 .3 2.4 .3-2.2 .2 .3 .3 1.4 .2-5.1 .3 3.3 .2 .4 .3-2.5 .2-1.5 .3 1.5 .2 1.9 .3-3.6 .2 4.9 .3-2.3 .3 1.8 .2-1.1 .3 1.5 .2-.8 .3 .2 .2-2.1 .3 2.1 .2-3.2 .3 1.2 .2 2.3 .3-1.4 .2-1.2 .3 1.1 .3-3.1 .2 .5 .3 3.6 .2 2.7 .3-2.1 .2 2.4 .3 .8 .2-1.4 .3 3.2 .2-4 .3-2.3 .2 2.9 .3-.3 .3-2.6 .2 2.1 .3-1 .2-.5 .3-2 .2 1.4 .3-4.4 .2-2.1 .3 1.1 .2-.2 .3 2.7 .2 3.4 .3-2.4 .3 4.6 .2-.3 .3 1.6 .2 2.7 .3 1.9 .2-1 .3 1.6 .2 0 .3 .2 .2-2 .3 2.1 .2-2 .3-5.2 .3 3.7 .2 2.6 .3 .1 .2-3.1 .3 .3 .2 .2 .3-.7 .2 .7 .3-3 .2 4.4 .3-2.9 .2-2.3 .3 4.4 .3-.3 .2-1.4 .3 1.6 .2-1.1 .3 0 .2-3.1 .3-1.2 .2 2.1 .3 1 .2 1.9 .3-3.1 .2 6.8 .3-6.8 .3 2 .2-2.2 .3 2.5 .2-3.3 .3 .4 .2-.2 .3 5.2 .2-5.4 .3 1.7 .2-1.9 .3 .4 .2-.2 .3 .7 .3-.3 .2-2.3 .3 3.4 .2-2 .3 .8 .2 2.1 .3-3.6 .2-1 .3 4.5 .2-1.5 .3-.8 .2-5.4 .3 7.1 .3-3.1 .2 1.1 .3-.4 .2-3 .3-.3 .2-4.1 .2-3.4 .3-4.5 .2 .2 .3-2.8 .3 5 .2-3.1 .3 6.5 .2-4.1 .3 7.8 .2 2.3 .3 1.6 .3-.1 .2 .6 .3 4.5 .2-1.4 .3-1.1 .2 .2 .3 4.2 .2-1.9 .3-.9 .3 .5 .2-2.1 .3 .4 .2-.3 .3-2.8 .2 2.6 .3-3 .2-2.8 .3 4.7 .2 2 .3-2.4 .2-2 .3 2.2 .3-2.6 .2 .1 .3 1.3 .2-3.1 .3 2.1 .2 3.7 .3-6.8 .2 2.2 .3-.6 .2 .2 .3 1.6 .3-.8 .2-3.9 .3 3.5 .2-3.1 .3-.3 .2 2.4 .3-2.3 .2 1.5 .3 1.1 .2 1.9 .3-3.3 .2-1.6 .3 3.1 .3-.5 .2-2.4 .3 2.3 .2-.1 .3-1.8 .2 2.3 .3-3.4 .2 .8 .3-1.9 .2-1.6 .3-1.3 .2 .3 .3-.4 .3 3.4 .2-4.8 .3 3 .2-.4 .3-3.7 .2 .9 .3 1.9 .2-2.4 .3 1.6 .2-8.7 .3 5.8 .2 1.8 .3 2.2 .3-2.6 .2 1.6 .3-2.5 .2 1.4 .3-2.4 .2 1.3 .3 1.2 .2 .5 .3-3.8 .2 2.6 .3-.1 .2 .5 .3-6.6 .3 4.8 .2-9.5 .3 5.7 .2-1.4 .3-.9 .2 3.3 .3-2.5 .2-1.5 .3 3.2 .2-1.1 .3-1.7 .2 2.3 .3 .7 .3-2.1 .2 .8 .3 3.5 .2-1.6 .3-2.8 .2 1.6 .3-1.2 .2 3.5 .3 .4 .2 0 .3 .7 .2-1.1 .3 2.7 .3 2.6 .2-1.6 .3 1.3 .2 1.3 .3 2.9 .2-.6 .3-2.2 .2 4.4 .3 .4 .2 2.5 .3 2.9 .2 .8 .3 4.7 .3 .1 .2 3 .3-.6 .2-1.8 .3 1 .2-.5 .2-2.4 .3 2.4 .2-3.7 .3 2 .2 4.9 .3-5.5 .2-2.5 .3-.4 .2-2.4 .3 4.8 .2-3.5 .3-4.7 .2 4.4 .3-2.7 .2 3.9 .3-4.2 .2 1.2 .3 1.3 .2-1.8 .3 2 .3 1.3 .2-.9 .3 0 .2 1.9 .3 .6 .2 2.7 .3-2.7 .2 4.8 .3-3.1 .2 3.8 .3-.2 .2 1.7 .3-.1 .3 2.9 .2 .3 .3-2.3 .2 .8 .3-.4 .2 .3 .3 2.6 .2-.1 .3-1.2 .2 4.2 .3 .4 .2-2 .3 .5 .3 2.6 .2-.6 .3-1.6 .2 3.3 .3 .3 .2 5.8 .3 .7 .2 2.8 .3 5 .2 2.7 .3-1.5 .2 5.3 .3-1.7 .3 5.1 .2-1.1 .3 .4 .2 1.9 .3 1 .2 2.8 .3 2.8 .2 3.6 .3-2 .2 2.1 .3 1.8 .2-2.2 .3-1.4 .3 4.7 .2 3.9 .3-.8 .2-.5 .3 4.5 .2-4.3 .3 3.4 .2 6.1 .3-.1 .2-.9 .3 .9 .2 2.1 .3 6.9 .3-3.1 .2-2.1 .3 4.9 .2-1.3 .3-.3 .2 0 .3 3.2 .2-1.9 .3 2.7 .2 1.1 .3-4.3 .3-.1 .2-1.5 .3-4.8 .2-.2 .3-1.3 .2-2.4 .3 1.4 .2-1.8 .3 4.8 .2-.4 .3 2.5 .2 2.6 .3 .5 .3 1.4 .2 .6 .3-.2 .2-2.2 .3 .9 .2-6.5 .3 5.6 .2-1.9 .3 .8 .2-2.6 .3-1.8 .2 4.4 .3 .5 .3 .6 .2 1.6 .3-2.1 .2 4.3 .3-1.4 .2-.9 .3-2.6 .2 .8 .3-.1 .2-8.9 .3 2.5 .2-1.6 .3-1.4 .3-1.8 .2-.3 .3-.7 .2-6.8 .3 8.8 .2-4.2 .3-2.9 .2 2 .3 1.1 .2-.8 .3-3.5 .2-1.1 .3-1.4 .3-1.1 .2 2.9 .3-3.6 .2 2 .3-.2 .2 1.7 .3 4.6 .2-5.9 .3-1 .2-.4 .3 .8 .2 5.7 .3 2.1 .3-.3 .2 2.2 .3 1.3 .2 3.3 .3-.6 .2 3.7 .3-3.7 .2 2.6 .3 3 .2 2.6 .3 4 .2-.4 .3 .4 .3-1.6 .2 3.4 .3-1.1 .2 1.8 .3-4 .2 3.3 .3 5.9 .2 1.1 .3-2.6 .2-.7 .3-3.7 .2 3.8 .3-5.3 .3 .1 .2-1.2 .3 1.7 .2-2.8 .3-2 .2 .9 .3 8.7 .2-5.4 .3 2.7 .2-2.9 .3 4.4 .2 1.2 .3-1.7 .3 3.1 .2 .1 .3 3.1 .2 1.7 .3-.1 .2 0 .3 1.1 .2 2.5 .3 .4 .2-4 .3 1.3 .2 1.8 .3-6.3 .3 .9 .2-1.5 .3 6.4 .2-4.1 .3 1.8 .2 .1 .3 2.6 .2-7.5 .3 .8 .2-4.1 .3 1.6 .2 3.2 .3-5.4 .3 2.9 .2-2.1 .3 .9 .2-3 .3-.1 .2-3.5 .3-2.2 .2-6.9 .3-4.1 .2-2.4 .3-.6 .2-3.9 .3-4.8 .3-1.6 .2 2.4 .3 4 .2 2.2 .3 .2 .2 3.3 .3 1.5 .2 .2 .3-1 .2 .2 .3 2.4 .2 .1 .3-3.6 .3-.3 .2 .7 .3-.6 .2 1.4 .3 5.5 .2-.9 .3 3 .2 1 .3 5.8 .2 .3 .3 2.2 .3-4.3 .2 0 .3-5.3 .2-2.4 .3-2.8 .2-3.8 .3-6.2 .2-1.6 .3 1.5 .2 4.2 .3 4.4 .2-2.2 .3 5.7 .3-.2 .2 1.9 .3 5 .2 2 .3-4.4 .2 3.1 .3-1 .2-2.8 .3 .1 .2-.8 .3-.2 .2 2.2 .3-4.4 .3 .7 .2-1.2 .3 .9 .2 1 .3 .2 .2-.4 .3-.6 .2-2.8 .3-1.9 .2 4.2 .3-.1 .2-2.5 .3 3.3 .3 3.2 .2-3.5 .3 .9 .2 1.7 .3-3.9 .2-.5 .3 3 .2 .7 .3-1.2 .2 .5 .3 .6 .2-3.5 .3-2.4 .3 5.1 .2-2.4 .3 1.1 .2-2.4 .3-.4 .2-1 .3 1.5 .2-2.8 .3-3.4 .2 3.6 .3 0 .2-2.1 .3 1.1 .3-2.9 .2 .5 .3 2 .2-3.7 .3-.8 .2 4.1 .3-3.5 .2 .4 .3 1.4 .2-1 .3 2.5 .2 1.3 .3 1.9 .3 2.6 .2 1 .3-2.4 .2 .8 .3-.3 .2 1.4 .3-4.4 .2-1.3 .3 2.2 .2-1.3 .3-4.5 .2 4.9 .3-2.7 .3 1.5 .2-.5 .3 4 .2-2.1 .3-3.7 .2 5.1 .3-2.4 .2-2.2 .3 5.6 .2-1.5 .3-1.2 .2-2 .3 3 .3 2.2 .2 1.5 .3-1.4 .2-.2 .3 .2 .2-1.7 .3 9 .2 .5 .3-4.9 .2-2.5 .3 5.6 .2-3.2 .3 .1 .3 .5 .2 4.1 .3-.3 .2 .6 .3-1.3 .2 .8 .3-1.3 .2 .7 .3-.9 .2-.4 .3 2.4 .2-3.3 .3 2.1 .3-4.1 .2-1 .3 5.2 .2-3.9 .3 2.6 .2-4.6 .3 .3 .2 1.2 .3-3.2 .2 .6 .3 1.9 .2 .6 .3-.9 .3 3.6 .2-2.6 .3-1.7 .2 2.1 .3-.7 .2 4 .3-1.9 .2 .4 .3-2.8 .2-.5 .3 .8 .3-.1 .2 6.9 .3-4.7 .2-3 .3 1.8 .2 1.9 .3-.9 .2-1.4 .3 1.4 .2-3.1 .3-.2 .2-4.7 .3-1.4 .3-3.7 .2-6.3 .3 5.1 .2-.7 .3 4.7 .2-1.6 .3 1.6 .2-.1 .3-.1 .2 3.4 .3 4.5 .2 .3 .3-1.9 .3 3.9 .2 1.2 .3-3 .2-.6 .3 3.1 .2 0 .3 3.5 .2 .3 .3 .2 .2 2.6 .3-2.9 .2 .3 .3-3.4 .3-.7 .2 1.3 .3-1.7 .2-1.3 .3 .9 .2-2.8 .3-.9 .2 .1 .3 4.3 .2 .1 .3-2.6 .2 1.2 .3-1 .3 1.5 .2 1.5 .3-1.9 .2 .9 .3 3.4 .2 2 .3 6.3 .2 .8 .3 4.3 .2 3.5 .3 3.2 .2-8.2 .3-1.4 .3 2.9 .2 0 .3-1.7 .2-1.1 .3 .2 .2-3.8 .3 5.7 .2 1.1 .3-3 .2 3.1 .3-1.4 .2-3.2 .3 2.7 .3-1.3 .2 .1 .3-2.4 .2 .2 .3-2.7 .2 3.1 .3-5.4 .2-.7 .3-3.4 .2 1.1 .3 1.5 .2 10.8 .3-2.8 .3 1.7 .2-8.6 .3-2.7 .2-9 .3-5.1 .2 1.3 .3 1.6 .2 .9 .3 3.5 .2 5.6 .3-.7 .2 4.3 .3-4.3 .3 2 .2-2.6 .3 .5 .2-1.1 .3 4.6 .2 .2 .3-4.2 .2 2.3 .3 .6 .2 1.2 .3-2.3 .2 2.1 .3-3.3 .3 2 .2-.7 .3 2.7 .2-2.1 .3-2.8 .2 4 .3-2.4 .2 .2 .3-.5 .2-2.7 .3 5.1 .2-2.7 .3 .6 .3-.7 .2-1.7 .3 2.5 .2 .9 .3 1.1 .2-4.2 .3 3.3 .2-4 .3 3.6 .2-3.9 .3 3.5 .2-.1 .3 2.6 .3-3.8 .2 6.9 .3-5.7 .2-.7 .3 1.4 .2 3.9 .3-1.5 .2-.5 .3-4 .2 2.8 .3-1.2 .2 1.5 .3 .9 .3 .4 .2 .1 .3-3.8 .2 4.6 .3 .5 .2 1.6 .3-.9 .2 .5 .3 .9 .2 0 .3 1.9 .2 .2 .3-1.7 .2-.6 .3-.6 .2 1.4 .3-4.7 .2 2.5 .3-.4 .2 1.2 .3-2.9 .2-1.3 .3 2.8 .2 .5 .3 .3 .3-2.3 .2 5.3 .3-.1 .2-3.6 .3-.2 .2 1.9 .3 1 .2 1.4 .3 .7 .2 .6 .3-8 .2 8.4 .3-.9 .3-1.4 .2 2.8 .3-2.1 .2 2.6 .3-1.6 .2 1.7 .3-.8 .2-2.6 .3 .6 .2-1.1 .3-.3 .2 3.4 .3-2.1 .3 1 .2 2.3 .3-4.1 .2-.9 .3-.7 .2 .4 .3-.2 .2-1.5 .3 6.9 .2-3.5 .3 .3 .2 2.4 .3-1 .3 1.5 .2 .4 .3-1.3 .2 5.6 .3-1.2 .2-5.5 .3 3.2 .2 4.8 .3-3.1 .2 .6 .3 1.8 .2-1.1 .3-2.3 .3 3.4 .2-3.4 .3 6.5 .2-6.6 .3 2.9 .2-.9 .3 1.8 .2-1.6 .3-2.9 .2 1.1 .3 .2 .2 .7 .3-5 .3 1.3 .2 2 .3-1 .2 2.7 .3 1.6 .2-3.5 .3-1.3 .2 .1 .3 .2 .2 4.9 .3-1 .2-.4 .3-1.8 .3 2.3 .2-.3 .3 1.2 .2 1.9 .3-2.8 .2 3.8 .3-.9 .2 5.2 .3-2.1 .2-2.7 .3 4.3 .3-1.1 .2 .9 .3-1.2 .2 2.1 .3 .7 .2-1.7 .3 .4 .2-2.2 .3 1.9 .2-.3 .3-5 .2 3.3 .3-1.3 .3 .9 .2 2.2 .3-1.6 .2-1.8 .3-.3 .2-1.2 .3 1.5 .2-.5 .3 1.9 .2-.4 .3-3.8 .2 2.6 .3-2.9 .3-.2 .2-3.9 .3-.4 .2 3.5 .3 .1 .2-1 .3 1.3 .2 1 .3-5.7 .2 3.3 .3-3 .2 2.8 .3-2.6 .3-3.6 .2 .6 .3 .7 .2 .1 .3 1.9 .2-4.4 .3 .9 .2 .2 .3 1.7 .2-2.9 .3 1.9 .2-1.1 .3-2.8 .3 2.8 .2-1.5 .3 .2 .2-.8 .3-1.5 .2 3.5 .3-4.1 .2 2.7 .3-1.1 .2 .7 .3 2.8 .2-.6 .3-2.5 .3 2.4 .2-.5 .3 .6 .2-3.2 .3 2.6 .2-.6 .3-2.6 .2-1 .3 2.7 .2-6.7 .3 3.9 .2-4.3 .3 2.9 .3-.4 .2 .5 .3 .6 .2-2.1 .3-.4 .2-.5 .3-4.5 .2-.9 .3 5.3 .2-.8 .3 .7 .2-3.6 .3-.1 .3-.1 .2 1.5 .3-1.5 .2-2.2 .3-1.8 .2 .5 .3 .6 .2-.9 .3 2.8 .2-3.1 .3 .6 .2 .3 .3 1.2 .3-2.2 .2 6.1 .3 1.2 .2-2.9 .3 3 .2-4.4 .3 5.1 .2 2.9 .3 2.7 .2 0 .3 1.8 .2 2.8 .3-2.4 .2-4.7 .3-3.7 .3 1.8 .2-4.2 .3-2.5 .2-1.6 .3 4.6 .2-7.6 .3 4.9 .2-7.3 .3 1 .2 1 .3-3.3 .3-1.4 .2 .5 .3-.1 .2-.5 .3 .7 .2-1 .3-1.8 .2 3.5 .3-1.5 .2-.7 .3 .3 .2-1.7 .3 1.3 .3-.4 .2 4.9 .3-3 .2-1.5 .3-.2 .2 3.3 .3-.1 .2-.9 .3 .5 .2-2 .3 2.6 .2-.2 .3 3.2 .3-3.7 .2-.7 .3 3 .2-1.3 .3 .4 .2 1.5 .3-4.7 .2 3 .3 4 .2-.7 .3-1 .3 .2 .2-3.2 .3 5.6 .2-1.6 .3-1.2 .2-2 .3-.8 .2 0 .3-.1 .2-.4 .3-1.5 .2-1 .3-1.3 .3-2 .2 2 .3-2.8 .2-3.1 .3 4.7 .2-.5 .3-2.7 .2-1.9 .3-4.2 .2 1.9 .3-1.3 .2 .4 .3-.3 .3-2.3 .2 2.8 .3-4.2 .2 .2 .3 2.7 .2 1.7 .3-2.7 .2 .8 .3 .5 .2-2.3 .3-2.2 .2 2.1 .3-4.4 .3-.9 .2 2.2 .3 2.3 .2 3.1 .3 1.9 .2 1 .3 .6 .2 .7 .3 3.1 .2-2.6 .3 1.1 .2-2.2 .3 2 .3-.9 .2-1.6 .3 2.6 .2 1.9 .3 1.5 .2 .4 .3-1.8 .2-.9 .3 .8 .2 2.4 .3-.4 .2 0 .3-.2 .3-.4 .2-1.7 .3 2.3 .2-3.3 .3-.6 .2-3.4 .3 3.7 .2 .3 .3-2.9 .2-1.6 .3 2.7 .2 3.3 .3-4.5 .3 .1 .2-2.4 .3 3.4 .2-3.2 .3 4.3 .2-1.5 .3-.8 .2-1.5 .3 .6 .2-1.8 .3-4.3 .2 4.6 .3-1.7 .3 2.1 .2-.5 .3-2.8 .2-.2 .3 .8 .2-.1 .3 2.4 .2-1.9 .3 3.5 .2-2.5 .3 1.8 .2 2.1 .3 .7 .3 .3 .2-1.3 .3 .2 .2-1.8 .3 1.1 .2-2.8 .3 4.4 .2-2.1 .3-2.4 .2-6.5 .3 10.4 .2-7 .3 .2 .3 2.4 .2 2.6 .3-.2 .2-11.4 .3 7 .2 .7 .3 1.2 .2-2.4 .3 6 .2 7 .3-7.1 .2 3.8 .3-2.4 .3 4.8 .2 1.8 .3 3.6 .2 2.1 .3-3.6 .2-1.2 .3 2.1 .2-2.5 .3 2.4 .2-4.3 .3-.6 .2 1.4 .3 3.3 .3-3.4 .2 3.6 .3-.2 .2 2 .3-3 .2 1.5 .3 .1 .2-1.5 .3-3.2 .2 5.9 .3-5.7 .3 3.6 .2-6.9 .3 1.5 .2-.2 .3 .1 .2-2.3 .3-1.8 .2 2.6 .3-3.8 .2-2.6 .3-.4 .2 1.9 .3-6.7 .3 1.6 .2-1.9 .3 .2 .2-5.2 .3 3.2 .2-1 .3-4.8 .2 .1 .3 1.3 .2-1.1 .3 .5 .2 .9 .3-2 .3 1.7 .2-3.3 .3-2 .2 2.2 .3-.3 .2-2.8 .3-.8 .2 1.1 .3-.9 .2-1 .3-.9 .2 .6 .3-1.3 .3 0 .2 2 .3-3.3 .2-1.4 .3 1.7 .2-.6 .3-2.2 .2-1.2 .3 3.7 .2-3.5 .3 2 .2-5 .3 3.6 .3-2.5 .2-.2 .3-4.8 .2 5.2 .3-5.3 .2-1.2 .3 4.4 .2-2 .3-1 .2 1.7 .3-.8 .3-2.2 .2-1.9 .3-1.3 .3-2.4 .2-1.1 .3-6.6 .2-4.3 .3 8 .2-5.5 .3-.5 .2-4.2 .3-.6 .2 .3 .3-5 .3 2.7 .2-5.5 .3 2.2 .2 2.9 .3-3.9 .2 6.6 .3-2.4 .2 .8 .3-.7 .2 2.2 .3 1.9 .2 .2 .3 .9 .3 5.5 .2 1.6 .3-.9 .2 .2 .3-1 .2-.2 .3 5.2 .2-6.5 .3 2.3 .2-4.2 .3 0 .2 2.5 .3-1.3 .3-2.6 .2 3.6 .3-3.6 .2 4.1 .3-5.9 .2-1.5 .3 9.2 .2-5.1 .3-.9 .2-2.6 .3-1.5 .2-1.5 .3 .8 .3-2.9 .2 1.6 .3-.1 .2-1.8 .3-3.2 .2-.1 .3 .5 .2-2.6 .3 2 .2-1 .3-.9 .2 2.7 .3 1.2 .3 .5 .2 3.1 .3-2 .2 0 .3-.1 .2 3 .3-.8 .2 3.3 .3 2.3 .2-4.4 .3 5.1 .2 2.2 .3-2.4 .3 2.6 .2 .7 .3 1.8 .2-1.4 .3 1.8 .2-4.1 .3 3.5 .2-1.5 .3 2.7 .2-.4 .3 .4 .2 3 .3-2.5 .3 1.2 .2-.1 .3 2.5 .2-1.5 .3 .4 .2-.4 .3-4.9 .2 1 .3-3.8 .2-6.2 .3 6.6 .2-4.9 .3 1.4 .2 1.4 .3 2.2 .2-1.5 .3-3.5 .2 2.8 .3 5.6 .2-.5 .3-.7 .2-3.2 .3 .9 .2 3.6 .3 3.1 .2-3.5 .2-.2 .3-3.4 .2-1.9 .3 1.8 .2-5.6 .2-1.8 .3-5 .2-.1 .3 1.1 .2 0 .3-2.3 .2-.6 .3 3.1 .2-1.7 .3-5 .2 3.1 .3 1.9 .3-4.7 .2 2.4 .3-1.4 .2 4.8 .3-1.6 .2 2.9 .3 .5 .2 4.3 .3-4.7 .2 4.9 .3 1.3 .2 2.4 .3 2.6 .3-7.3 .2 6.1 .3 0 .2 2.5 .3 .5 .2 .5 .3-6.1 .2 6.9 .3-4.1 .2 4.1 .3-.7 .2 0 .3-5.4 .3 3.9 .2 .4 .3 1.6 .2 2 .3-2.8 .2 4.2 .3 2.6 .2-3.5 .3 5.9 .2-4 .3 .9 .2 2.8 .3 2.1 .3-4 .2 2.2 .3-5.1 .2-4.5 .3 1.2 .2-1.8 .3 1 .2-4.9 .3-1.2 .2-3.4 .3 .2 .2 0 .3 0 .3-1.2 .2-5.1 .3 3.1 .2-.4 .3-1 .2-1.1 .3-4.6 .2 .5 .3 3.8 .2-1.2 .3-1 .2-.8 .3 4.5 .3-1.4 .2 .4 .3-3.1 .2 3.2 .3-2.4 .2-.8 .3 2.8 .2-1.2 .3-.8 .2 1.7 .3 1.5 .3-4.5 .2-.7 .3 .2 .2-.8 .3 0 .2 2.6 .3 .1 .2-2.1 .3 1.5 .2-1.2 .3 0 .2 .7 .3-2.3 .3 3.5 .2-4.7 .3 3.1 .2-2.6 .3 3.4 .2-1.8 .3 2.7 .2-1.9 .3 3.4 .2-.1 .3 .6 .2 2.7 .3-1.8 .3 1 .2-1.9 .3 .9 .2 .6 .3 1.9 .2-1.7 .3 5.3 .2-2.7 .3 1.9 .2 .4 .3-3.1 .2 .8 .3 2 .3-3.2 .2 2.1 .3 1.9 .2-3.9 .3 1.9 .2 2.2 .3 0 .2 .2 .3-.2 .2-2.1 .3 2.2 .2-2.6 .3 .1 .3 3.5 .2-2.7 .3-2 .2 1.1 .3-2.6 .2-1.2 .3 .4 .2 .5 .3-1 .2-.7 .3-3.9 .2-1.5 .3 .5 .3 .4 .2-2.4 .3 1.8 .2 8.6 .3 1.9 .2-.2 .3 4.7 .2 2.7 .3 .3 .2 2.5 .3 1 .2-.7 .3 4 .3-4.9 .2 4.8 .3-2 .2 1.2 .3 .1 .2 3.7 .3 1 .2-5.7 .3 3.6 .2 .4 .3-2.8 .2-.9 .3-.4 .3 3.6 .2-2.9 .3-.5 .2 3.5 .3-4.1 .2-1.4 .3-.9 .2 2.3 .3 1.5 .2 .3 .3-1.4 .2 4 .3 .3 .3 3 .2 3.1 .3-5.3 .2-.1 .3 1.3 .2 2 .3-.5 .2-1.9 .3 3.7 .2-.6 .3-1 .2-1.2 .3 .7 .3 5.1 .2-.2 .3-5.2 .2 1.5 .3-2.9 .2 4 .3 2 .2-2.1 .3-1.1 .2 3.1 .3 5 .2-.4 .3 3.4 .3 2.1 .2-1.1 .3 3.6 .2 4.3 .3-4.1 .2 2.7 .3 4.1 .2 3.9 .3-1 .2 1.3 .3-7.7 .2 .2 .3-1.3 .3 1 .2-4.1 .3 .1 .2-1.4 .3 .3 .2-2.7 .3-3 .2 1 .3-.1 .2 0 .3-1.8 .2 1.8 .3-.4 .3 1 .2-2.8 .3 1 .2-.5 .3-3.5 .2 .7 .3 2.7 .2 2.1 .3-.3 .2-3.8 .3-.1 .3-.9 .2-.3 .3 2.1 .2-1.7 .3 3.5 .2-3.6 .3-.1 .2-2.5 .3 1.9 .2-3.1 .3 4.2 .2-1.8 .3-2.5 .3-.7 .2 .9 .3 .5 .2-1 .3-4.7 .2 .7 .3-2.1 .2 .6 .3-.1 .2-1.4 .3-1 .2-.9 .3-1.4 .3-.7 .2 2.3 .3-5.5 .2 .6 .3 .6 .2-2.3 .3 3.7 .2-2.9 .3 .7 .2 3.6 .3-1.1 .2 .9 .3 0 .3 2.6 .2 1.2 .3 4 .2-.6 .3 2.2 .2-2.1 .3 .8 .2 1.9 .3-1.4 .2 3.7 .3-1 .2 .8 .3-2.3 .3-1.6 .2 3.1 .3-4.1 .2 4.2 .3 2.7 .2-1.5 .3-4.5 .2 5.6 .3 2.5 .2-2.4 .3-2.1 .2 .4 .3 .2 .3 .2 .2 2.9 .3 .7 .2 .8 .3-3.3 .2 2.8 .3-.9 .2-2.3 .3 4.4 .2-3.4 .3 .7 .2 3.8 .3 .1 .3 .4 .2-2.8 .3-1.4 .2 4.3 .3 1 .2 .3 .3-2.3 .2 0 .3-.7 .2 1.9 .3 2.8 .2 1.6 .3 1.7 .3 1.1 .2-2.5 .3 3 .2 .5 .3 .3 .2-1.1 .3-.4 .2-.2 .3 1.3 .2-.8 .3 1.6 .2 3.5 .3-.8 .3-2.4 .2 3.4 .3-1.9 .2 2 .3 1.7 .2-.4 .3-3.1 .2 3.3 .3-.5 .2 .6 .3-4.5 .2 .1 .3-.9 .3 .5 .2-2.9 .3 2.8 .2-6.5 .3-.7 .2 4.5 .3-2.6 .2 .5 .3 .4 .2-1.6 .3-.7 .2 4.4 .3 1.2 .3-1.1 .2-4.4 .3 6.9 .2-2 .3 2 .2 2.5 .3-4 .2-.7 .3-2.5 .2-5.8 .3 .1 .2 .7 .3-2.9 .3-3.2 .2 3 .3-2.9 .2-2 .3-.1" fill="none" stroke="#d55e00" stroke-width="1.6" stroke-linejoin="round"/>
<path d="M135.5 583.1l.3-5.5 .3-1 .2-3.9 .3-1.4 .2 2.5 .3-2 .2-4.2 .3 2 .2-.9 .3 0 .2-.2 .3-1.5 .2 2.1 .3-1.6 .2 3.2 .3-2.8 .2-1.6 .3-.7 .2-3.4 .2-.4 .3-4 .2 2 .3-.4 .2 4.1 .3-1.2 .2 1.3 .3 1.2 .2 .8 .3 2.7 .2 1.1 .3 .4 .2-1.5 .3 1.4 .2 3.2 .3 3.1 .2-.1 .3 3.7 .2 3.5 .3 .8 .2 2.6 .3-8.7 .2-6.6 .2-3.5 .3-.3 .2-3.8 .3-5.1 .2-1.7 .3-2.6 .2-.4 .3 2.2 .2-1.1 .3-1 .2-1 .3-1.5 .2-4.8 .3 4.6 .2-.7 .3-.9 .2 2.9 .2-5.8 .3 1.2 .2 .4 .3 .6 .2-2.2 .3-1.1 .2-.3 .3-1.9 .2-.8 .3 2.6 .2-3.2 .3-2.4 .2 4.7 .3-2.3 .2-1.3 .3-1.7 .2 5.5 .3 1.2 .2-4.7 .3 .4 .2 1.3 .2-1.1 .3-.4 .2-1.8 .3 3.6 .2-3 .3-10.1 .2 7.8 .3-3.8 .2-2.9 .3 3.1 .2-.9 .3-4.9 .2-3.5 .3-2.4 .2 1.8 .3-1.7 .2-2.7 .3 3.9 .2-7.5 .3 3.1 .2-.9 .3-2.2 .2-.8 .3-.7 .2 2.1 .3 4.6 .2 .2 .3-3.8 .3 2.4 .2-1.5 .3 3.9 .2-3.1 .3 4.4 .2 .5 .3-1.4 .2 6.1 .3-1.6 .2 .6 .3 1.4 .2-1.5 .3 2.8 .3-.9 .2-2.3 .3 4.3 .2-1.9 .3-2.4 .2 1.1 .3 1.5 .2-2.1 .3-2.6 .2-1.3 .3 1.7 .2-3.9 .3 2.2 .3-.5 .2-.6 .3-1.2 .2-3.7 .3 2.2 .2 1.9 .3-4.4 .2 0 .3 .2 .2-1.7 .3 .4 .2 4.1 .3-2.1 .3-.4 .2-1.3 .3 2.7 .2-1.5 .3 1.5 .2 1.2 .3-1.7 .2 6.2 .3-6.9 .2 3.3 .3 1.2 .2 1.3 .3-2.2 .3 .5 .2 .8 .3 7.7 .2-6.7 .3-3.9 .2 6.6 .3-3.7 .2 .5 .3 .9 .2 1.3 .3 2.2 .2-2.6 .3 .1 .3-2.7 .2 2.2 .3-2.9 .2 .6 .3-2.2 .2 .2 .3-2 .2-1.3 .3 1 .2-1.5 .3 1.2 .2-4.7 .3 2.3 .3-2.7 .2-.8 .3 3.2 .2 .1 .3-2.2 .2 1.8 .3-2.3 .2 2.5 .3-3.8 .2 .2 .3 1.1 .3-1.1 .2-3.4 .3 1.9 .2 2 .3-.2 .2-4 .3 1.7 .2 1.6 .3 .4 .2 1.8 .3-2.1 .2-2.1 .3 1.6 .3-5.4 .2 2.8 .3-1.6 .2-.9 .3 4.3 .2-5.9 .3 1 .2 4.8 .3 2.7 .2-2.2 .3 4 .2 2 .3 5.9 .3 1.1 .2 4.1 .3-1.1 .2-.6 .3-5.7 .2 1.1 .3 .3 .2 1.1 .3-3.9 .2 1.7 .3-3.5 .2 3.1 .3-1.7 .3 4.5 .2-1 .3-4.3 .2 1.8 .3-.5 .2 3.8 .3-3.8 .2 0 .3-.8 .2 .2 .3 2.9 .2-.9 .3-.9 .3 .2 .2-.8 .3 2.2 .2-1.9 .3 .2 .2-.7 .3-1 .2 1.3 .3-.9 .2 1.3 .3-.4 .2-.5 .3-.8 .3-2.6 .2 1.1 .3 .3 .2-1.1 .3 1.2 .2 4.5 .3-2.8 .2-1.1 .3 .9 .2 2.1 .3 1.2 .2-4.7 .3 5.6 .3-1.8 .2 2.1 .3-3 .2 8.6 .3-4.3 .2-1.5 .3 .5 .2-.1 .3 .2 .2-.1 .3-1.1 .2-2.6 .3 5.4 .3-1.6 .2 0 .3 .4 .2-1.8 .3 0 .2 1.6 .3-.8 .2 .8 .3 .7 .2-1.2 .3 2 .2-2.3 .3 3 .3 0 .2-2.9 .3-2.5 .2 4.4 .3 2.1 .2-2.9 .3-.1 .2 .1 .3 .7 .2-.7 .3 2.6 .2-2.6 .3 2.9 .3-.2 .2-.2 .3-2.4 .2-.1 .3 2.9 .2-1.9 .3 3.1 .2-.3 .3-.9 .2 2.5 .3 .2 .2-.1 .3-.5 .3-.7 .2 .6 .3-.7 .2 2.1 .3-4.8 .2 5.3 .3-3.5 .2-3.1 .3-1.9 .2 1.7 .3 2.3 .2-.3 .3-.8 .3-3.2 .2 3.5 .3-1.5 .2-1.8 .3 .2 .2 3 .3-1.2 .2 4.6 .3-3.5 .2-.3 .3 2.3 .3-4.6 .2 1 .3 6.3 .2-4 .3-1.2 .2 5.3 .3-1.6 .2 1.3 .3-1 .2-1.8 .3-4.1 .2 2 .3 0 .3 1.1 .2 .9 .3 2.5 .2 2 .3-1.1 .2 1.8 .3-.9 .2 5.8 .3-2.1 .2 .3 .3-2.7 .2 7.4 .3-1.7 .3 1 .2 2.5 .3-.6 .2 .7 .3 .7 .2-.3 .3 3.1 .2-1.5 .3 .4 .2 4.5 .3-1.7 .2-.9 .3 2.7 .3 1.4 .2 2.8 .3-2.6 .2 2.8 .3 .1 .2 2.5 .3 .7 .2-.8 .3-2.7 .2-5.7 .3 .4 .2-.6 .3 2.3 .3-6.5 .2-.6 .3 1 .2-.8 .3-1.5 .2-2 .3 .2 .2 .6 .3 3.6 .2-10 .3 7.5 .2 .8 .3-2.9 .3-.7 .2-2.5 .3-.1 .2-1.1 .3-.2 .2 .9 .3 .1 .2 1.8 .3-1 .2-.7 .3-1.4 .2 .9 .3-3.2 .3 2.2 .2-.9 .3-.2 .2 3.7 .3-3.6 .2-2.2 .3-2.1 .2 4.7 .3-1.8 .2-.3 .3-1.9 .2 2.3 .3-1.8 .3-3.1 .2 .1 .3 1.4 .2 .3 .3-.9 .2 3.8 .3-5.9 .2 3.9 .3-.6 .2 3.6 .3-.5 .2 0 .3-4 .3 2.9 .2 3.2 .3 .8 .2 1.1 .3 3.5 .2-3.8 .3 6.3 .2-2.6 .3 1.5 .2 1.6 .3-6.7 .2 7.3 .3-2.8 .3 .6 .2-1.2 .3 .7 .2-2 .3-4.7 .2 1 .3-2.5 .2-3.9 .3 5.3 .2-2.5 .3 1.7 .2 .3 .3-3.3 .3 3.4 .2-3.4 .3-1 .2 1.5 .3 2 .2 1.1 .3 .1 .2-1.2 .3-1.2 .2-2.7 .3 6.5 .2-5.6 .3 8.3 .3-1.1 .2 2.1 .3 .3 .2-2.4 .3-.9 .2 2.4 .3-1.6 .2 .6 .3 2.4 .2-.1 .3-5.5 .2 1.4 .3 1.2 .3-1.7 .2-1.5 .3 4.1 .2-1.8 .3-2.3 .2-1.3 .3 5.2 .2-2.5 .3 3.7 .2-3.9 .3-2.2 .3 4.1 .2-2.1 .3-2.6 .2 7 .3-2.5 .2 .5 .3-1.5 .2 3 .3 .8 .2 .2 .3-3.8 .2-.1 .3 2.4 .3 3.3 .2-3.6 .3-2.7 .2-1.3 .3 4.6 .2-1.5 .3 .3 .2-.4 .3-.6 .2 3.3 .3-2.9 .2-1.1 .3 .8 .3-.6 .2-1.2 .3 .3 .2 1.9 .3-.1 .2 1.7 .3 1 .2-1.6 .3 2 .2-5.2 .3 .6 .2 3 .3-1.2 .3-.8 .2-2.7 .3 1.7 .2-2.7 .3 2.5 .2-2.4 .3-.9 .2 1.3 .3-1.2 .2-.5 .3-1.4 .2-2.8 .3-.1 .3 1 .2-3.6 .3 .4 .2 .9 .3 0 .2 5.3 .3-3 .2 .7 .3 1.3 .2-.9 .3-4.7 .2 5.7 .3 .1 .3 4.1 .2-1.4 .3-1 .2 3.1 .3 .9 .2-.9 .3 3.5 .2 4 .3-5 .2 7 .3-1 .2 2.3 .3 4.2 .3 1.2 .2-.3 .3-.1 .2-3.1 .3-.7 .2-3.3 .3 .7 .2-2.4 .3-.5 .2-3.4 .3 .5 .2-2.2 .3-1.4 .3-.2 .2-1.6 .3 2.3 .2 1.8 .3-.7 .2-2.5 .3 4.3 .2-4.8 .3 2.1 .2 .8 .3 4.2 .2-1.7 .3-.8 .3-.3 .2 0 .3 2 .2 3.5 .3-5.3 .2-.1 .3-4.1 .2 1.1 .3 2.9 .2-3.4 .3 .5 .2 2.8 .3-.5 .3-2.4 .2 6.7 .3-3.7 .2-2.9 .3-.7 .2 .7 .3 .7 .2-1.9 .3-.5 .2 .9 .3-1.5 .2-2.2 .3 2.4 .3 .4 .2 1.7 .3-1.6 .2-1.5 .3 0 .2 .7 .3 2.3 .2 .6 .3 .3 .2 3.5 .3-2.4 .2 1.7 .3-1.3 .3-.8 .2 4.6 .3-1.6 .2 3.9 .3 1.4 .2-1.5 .3-.5 .2 4.3 .3-.1 .2-.6 .3-3.2 .2 1.2 .3-.6 .2 1.2 .3-2.3 .2 .3 .3-1.1 .2 .1 .3-1.7 .2 2.8 .3-3.8 .2 2.8 .3 2.1 .2-2.9 .3 2.6 .2-3.1 .3-2.1 .2-1 .3-6 .2 7.1 .3-3.5 .2-2.6 .3-.6 .2 2.4 .3-.4 .2 .5 .3-3.5 .2-.1 .3-4.3 .2 1.3 .3 .5 .2-4.2 .3 1.6 .2-.1 .3-.9 .2-.5 .2 2.1 .3-2.4 .2 2.6 .3-4 .2 0 .3-1.2 .3 2.6 .2-2 .3-3.9 .2 3.4 .3-3.7 .2-.3 .3 .3 .2-1.1 .3-.2 .2 3.2 .3-2.2 .2 .5 .3 1 .3 4.1 .2-3.1 .3 2.4 .2 1.1 .3 1.3 .2 2.9 .3 .2 .2-2.7 .3 .8 .2 .9 .3-.6 .2 3.7 .3-4.1 .3-.3 .2 .6 .3-.7 .2 7.3 .3-2.3 .2 1.9 .3 1.5 .2 .7 .3 1.2 .2-1.8 .3-3.2 .2-1.1 .3-1.1 .3 .6 .2-2.7 .3-2.5 .2-.4 .3-1.1 .2-.6 .3-.3 .2-1.2 .3-1.1 .2-1.1 .3 0 .2 .3 .3 2.3 .3 .9 .2-2.9 .3 1.6 .2-.5 .3-.5 .2-.7 .3 2.9 .2 1.7 .3 .8 .2-.4 .3 2.1 .2 3.1 .3 2.7 .3 1.5 .2 .7 .3-4 .2 .7 .3 2.5 .2-2.5 .3-5.9 .2-4.8 .3 1.6 .2-2.9 .3 3.5 .2-1.3 .3-4 .3 3.9 .2-1 .3 1.1 .2 6.9 .3-3 .2 0 .3-6.5 .2-4.2 .3-2.2 .2-3.3 .3-2.6 .2-4.4 .3-4.2 .3 1.2 .2 1.1 .3 1.5 .2-2.1 .3 3.8 .2 0 .3 1.5 .2 .1 .3 2.7 .2-3.2 .3 4.1 .2 .3 .3-.9 .3 1.9 .2 .4 .3 .8 .2 .1 .3 2.3 .2 4.5 .3 3.8 .2 4 .3 2.6 .2 2.9 .3 .1 .3-.7 .2-4.5 .3 0 .2-3.5 .3-12.4 .2 7.1 .3-4.3 .2-3 .3-.6 .2 0 .3-3.7 .2-.4 .3 3.7 .3 1.2 .2-1.8 .3-1.9 .2 1.2 .3-.9 .2 .2 .3-2.1 .2-3.4 .3-2.8 .2 2.7 .3-2.1 .2 .8 .3-2 .3-6.3 .2 3 .3-1.4 .2-5.6 .3 1 .2-3 .3 .5 .2-1.5 .3-3.7 .2-3.6 .3 .3 .2 4 .3-.1 .3-3.3 .2-1.8 .3 4.6 .2-1.3 .3 1.6 .2 2 .3-1.1 .2 1.3 .3-.1 .2 0 .3-.6 .2-1.8 .3-1.8 .3-4.6 .2-.3 .3-.1 .2 0 .3-.2 .2-.1 .3-.5 .2-2.8 .3 1.9 .2-3.3 .3 .2 .2 2.8 .3-2.6 .3-.7 .2 1.6 .3 .7 .2-3.6 .3-.2 .2-2.3 .3-4.7 .2 .5 .3-6.3 .2-1.4 .3-1.1 .2 2.1 .3-2.1 .2-3.1 .3-3.7 .2-2.6 .3-5.1 .2-.3 .3-4 .2 .8 .3-2.9 .2-1.5 .3-4.5 .2-.2 .3-.9 .3-1.6 .2-1.6 .3 3.6 .2-1.7 .3-4.1 .2-2.9 .3 3.3 .2-4.3 .3-1.8 .2 .8 .3-.4 .3 1.5 .2 0 .3-3 .2-1.2 .3 .8 .2-.9 .3-4.3 .2-4.1 .3 3.9 .2-.5 .3-.5 .3-1.3 .2 1.5 .3-2.7 .2 1.5 .3-2.2 .2-3.3 .3 .5 .2-2.1 .3-3.6 .2 5.4 .3-7.2 .2 5.1 .3-3.4 .2 1.7 .2-7.2 .3 1.9 .2-.6 .3-1.4 .2 1.6 .3-1.7 .3-6.9 .2 2.8 .3 3.2 .2 2.7 .3 .7 .2-2.2 .3-3.9 .2 .2 .3-.6 .2 2.4 .3-3.4 .3 1.3 .2-1.6 .3 .9 .2-.3 .3-.1 .2-6 .3 6.2 .2 .3 .3-3.8 .2-.8 .3 2.8 .3-3.9 .2-.2 .3 .8 .2-.8 .3 1.1 .2 .3 .3 .8 .2-.1 .3 0 .2-3.5 .3 1.6 .2-4.3 .3 3.2 .2 0 .3 2.5 .2-4.9 .2 1.8 .3-1.7 .2 .8 .3 1.6 .2 2 .3-1 .2 1.3 .3 .9 .2 3.3 .3 .4 .2-.8 .3 1.8 .2 3.3 .3-.8 .2-1.6 .3 2.2 .2-2.2 .3 1.2 .2-3.1 .3-3.4 .2 5.9 .3-5.1 .3 1.8 .2-2.1 .3 1.7 .2-4.3 .3 .3 .2 4 .3-2.7 .2 1 .3-1.2 .2 0 .3-1.1 .3 1.3 .2-1.9 .3-2.2 .2 3.7 .3 1.6 .2-5.4 .3-.8 .2 2.7 .3-3.5 .2 2.6 .3-1.8 .3-.4 .2-.8 .3-.2 .2-1.3 .3-1.2 .2 1.9 .3-1.6 .2 3.2 .3-2.1 .2 1.6 .3 0 .3-1.1 .2 .2 .3 .3 .2 .6 .3-1.2 .2-1 .3 1 .2-.7 .3-1.5 .2-2.4 .3-1.9 .2 .3 .3 .4 .3 2.3 .2-2.7 .3-.3 .2-3.1 .3 1.8 .2-3.5 .3 .3 .2-5.4 .3 .4 .2 5.5 .3 1.3 .2-.3 .3 2.5 .2 2.4 .3-1 .2 2.7 .3 2.6 .2 4 .3-.4 .2 3.8 .3 1 .2-2 .3-1 .2 .1 .3 .1 .2 .1 .3-5 .2 6.1 .3-2.7 .3 .7 .2-2.4 .3-.1 .2 .9 .3-2.6 .2-.6 .3 2 .2 2.6 .3 4.2 .2 .2 .3 2.8 .2-1.4 .3 8.4 .2-1.1 .3 1.5 .2 4.7 .2-4.2 .3 6.7 .2 1.6 .3 2.1 .3-3 .2 6.1 .3-2.7 .2-1 .3 3.3 .2 .5 .3-3.1 .2 5.7 .3 1.2 .2-1.8 .3 .3 .3 .3 .2 2.3 .3 1.8 .2 .7 .3 4.2 .2 1.1 .3 2.9 .2 .8 .3 1.2 .2 5.5 .3-4.3 .3 4.4 .2 .9 .3-.5 .2 3.4 .3 .8 .2 2.8 .3 3.7 .2-.5 .3 1.7 .2-7.6 .3 1.1 .2-1 .3-1 .2-1.8 .3-4.2 .2-.8 .3-.4 .2 1.1 .2-3.4 .3-2.6 .2-6.5 .3-2.4 .2-6.5 .3-4.5 .2-3.1 .2-3.9 .3-3.3 .2-3.8 .3 3.6 .2 0 .3 3 .2-1.3 .3 .2 .3 1 .2 1.5 .3 .9 .2-.3 .3-.5 .2-.2 .3 4.3 .3-1.3 .2-2.6 .3 4.9 .2-.3 .3 .4 .2 4.3 .3 0 .2 1.5 .3-3.9 .2 2.3 .3 1.4 .2-2.3 .3-1.1 .2 4.6 .3-4.2 .2-2.1 .2 .2 .3 1.2 .2 .7 .3-1.2 .2-5.2 .3 0 .2 3.6 .3-4.3 .2 2.2 .3-3 .2-2.1 .3 .9 .2-.6 .3 1 .2-2.7 .3-2.6 .2-3.8 .3 1 .2-.8 .3-2.1 .3-2.7 .2 .5 .3-1.8 .2-1.1 .3 .6 .2-.3 .3-2.5 .2-1.1 .3 .7 .2 0 .3 2.2 .2 0 .3-4.8 .3 3 .2-3.1 .3-2.4 .2 .5 .3 2.6 .2 1.7 .3-2.5 .2-4.4 .3 .1 .2 0 .3 1 .2-1.4 .3-1.5 .2 2 .3-2 .2 4.6 .3-5.9 .2 .3 .3-1.8 .2 1.5 .3-2.6 .2 2.3 .3 5.2 .2-.8 .3-3.9 .2-1.8 .3 3.2 .2-1.9 .2-6.4 .3 6.4 .2-1 .3-.6 .2 2 .3-1.6 .2 1.8 .3 4 .2-.6 .3 2 .3 1.6 .2-2.3 .3-.5 .2 0 .3 2.2 .2 .1 .3 3.9 .2-.8 .3 1.2 .2-.4 .3 1.6 .2 1.5 .3 1.7 .2-2.3 .3 2.4 .2-3.6 .3 6 .2-2.9 .3 2 .2-1 .3 .9 .2 4.3 .3-5 .2 .7 .3 .6 .2 2.3 .2 1 .3-2.2 .2 4 .3-2.4 .2-.5 .3 .9 .2-.3 .3 .5 .2-2.1 .3 2.1 .2 .7 .3-7 .3 7.6 .2-5.3 .3 .6 .2-2.9 .3 2.4 .2 1 .3-.4 .2-5.3 .3 .3 .2 3.3 .3-3.6 .3-.2 .2-4.8 .3 7.8 .2-5.5 .3 2.9 .2-3.3 .3-5.1 .2 .5 .3 2.2 .2-3.6 .3 .8 .3 2.7 .2-.1 .3-2.9 .2-1.7 .3-.6 .2 3.1 .3-3.4 .2-1.8 .3 .4 .2 1.5 .3 0 .3 1.6 .2 1 .3-.2 .2-1.6 .3 .5 .2 2.1 .3 3.5 .2-1.8 .3 3.2 .2 .1 .3 .7 .2-1.1 .3 3.9 .2-6.3 .3 4.2 .3 2.5 .2-3 .3 .3 .2 2.5 .3-2.3 .2 .1 .3 2.7 .2 2.4 .3-4 .2-.3 .3 .7 .2-.8 .3 2.3 .2-1.7 .3-.6 .2-2.6 .3 3.8 .2 .2 .3-.9 .2-.7 .3 0 .2 .7 .3-.2 .2 1.8 .3 1.3 .2-4.9 .3 1.1 .2 .4 .3-1 .2 1.2 .2 4.1 .3-1 .2-1.5 .3 .3 .2 1.5 .3 .5 .2-2.1 .3 .7 .2-2 .3 1.5 .2 0 .3 0 .2 7.8 .3-6.9 .2-.8 .2-.5 .3 2 .2-.9 .3 1.6 .2 6.5 .3-7.9 .2 2.8 .3-2.7 .2-.5 .3 .5 .2 1.9 .3-3 .2 2.5 .3-3 .2 1.6 .2 .3 .3 .9 .2 1.5 .3-1.7 .2-1.2 .3-.7 .2 .8 .3-1.6 .2 2 .3-3.4 .2 2.5 .3-.4 .2-2.1 .3 2.6 .2-.8 .3-.9 .2 2.2 .2-4.4 .3 7 .2-2.5 .3-.8 .2 1.6 .3-4.9 .2 2.8 .3-1.5 .2 3 .3-1.3 .2-.3 .3 .9 .2 2.8 .3-3.8 .2 1.6 .3 1.5 .2-6.2 .3 1.2 .2 0 .3-1.1 .3-1.1 .2 2.5 .3-.2 .2-2.6 .3 2.2 .2-5.6 .3 3.8 .3-5.9 .2 2.2 .3-3.4 .3-3.5 .2-.3 .3 1.2 .2-4.3 .3-3 .3 6.1 .2-2.4 .3 2.6 .2-6.9 .3 3.4 .2-1 .3 .8 .2-3.1 .3 3.5 .2-5 .3 .8 .3-.1 .2-.7 .3-1.5 .2-4.2 .2 2 .3 9 .2-10.4 .3 1.4 .2-.2 .3-2.2 .2 3.3 .3-1.8 .2-3.8 .3 3 .2 0 .3 4.2 .2-3 .3 1.5 .2-.7 .3-1.3 .2 2.3 .2-1.1 .3-3.2 .2 .7 .3 .3 .2 1 .3 .9 .2 2.7 .3-3.1 .2-3.9 .3 4.6 .2-2.4 .3-1.4 .2-.9 .3 2.8 .2-2.2 .3 .1 .2-1.9 .3-.9 .2-3.2 .3-.1 .2-2.4 .3 2.4 .2 1 .3-6.1 .3 5.2 .2-5.1 .3 2.2 .2-2.1 .3-1.7 .2-.2 .3-2.1 .2 8 .3-.1 .2-2.4 .3 6.4 .2-1.3 .3-.2 .3 3.4 .2 .8 .3-3.3 .2 5.4 .3-.2 .2 3.9 .3 .9 .2 1.6 .3 .9 .2 .3 .3-2.5 .2 .1 .3-1.1 .2-4.4 .3-3.5 .2-.9 .3 .2 .2-.6 .3-1.9 .2-1.7 .3 1.3 .2-2.1 .2 1.5 .3-5.5 .2-3.5 .3 3.5 .2-4.4 .3 1.9 .2-4.9 .3-1.5 .2-1.5 .3 1.4 .2 3.3 .3-1.8 .2-1.5 .3 4.6 .2 5.1 .2-6.1 .3 5.7 .2 2.5 .3 .8 .2 2.3 .3 .7 .2-1.6 .3-.2 .2 .9 .3 2.7 .2-3 .3-1.5 .2-.8 .3-.3 .2 1.2 .3 2.9 .3-3.6 .2 .8 .3-.1 .2-2.2 .3-2.2 .2 4.7 .3 .6 .2-3.5 .3 .3 .2 1.8 .3-1.9 .2 2.8 .3-3.7 .2 1.9 .3-1.8 .2-.3 .3 1 .2-3.1 .3 2.9 .2-1.3 .3-.1 .2-1.3 .3-2.9 .2 .5 .3-6.2 .2 5.5 .3-1.2 .2 .4 .3-2 .2 0 .3-1.3 .2 3.5 .3-4.7 .2-.6 .3-1.9 .2 3.3 .3-9.5 .2 10.3 .3-3.7 .3-.2 .2-2.2 .3 4.9 .2-3.7 .3 .5 .2-.5 .3 2.2 .2-4.7 .3 1 .2 1.4 .3-2.8 .2-.2 .3-1.1 .2 2 .3-1.7 .3-.1 .2-.1 .3 2.8 .2 .1 .3-1.5 .2 3.7 .3-.7 .2 5.4 .3-1.8 .2-.2 .3-1 .2 6.8 .2 2.4 .3 4.4 .2 2 .3-2 .2 2.1 .3 1 .2 6.2 .3 .5 .2 1.6 .3 3.3 .2 1.9 .3 .6 .2 5.7 .3-.5 .2 4.7 .3-1.1 .2-1.2 .3-.6 .2-3.8 .3 .1 .2-3.2 .3-3 .2 2 .3-4.3 .2-1.5 .3 .3 .3-.4 .2-3.8 .3 1 .2-3.2 .3 1 .2 .7 .3-4.2 .2-1.6 .3-2.2 .2 1.7 .3-1.2 .3-1.7 .2 0 .3-.9 .2-2.9 .3-1.9 .2-2.1 .3 2 .2 .6 .3-3.9 .2 1.3 .3 1.1 .2-5.5 .3 2.8 .2-5.9 .3 3.5 .2-3.2 .3 1 .2-1.8 .3-2.2 .2 .4 .3-1 .2-2.2 .3 2.9 .2 1.8 .3-2.1 .2-2.5 .3 .2 .2-1.6 .3-.4 .2 1.2 .3-1.6 .2 .6 .3-1.9 .2-.3 .3 2.3 .2-2.8 .3 .7 .2-.4 .3-.4 .2-.7 .3-1.6 .2 2 .3-6.2 .2 6.2 .3 .6 .2-1.2 .3-.5 .2-1.6 .3 .9 .2 1.9 .3-1.1 .2-1.3 .3 4.9 .2-4.1 .3 .8 .2 2.6 .3 1.1 .2-.4 .3-.2 .2 1.3 .3-2 .2-1.2 .2-.8 .3 1.1 .2-.8 .3-.3 .2 1.5 .3-2.2 .2-1.4 .3 3.8 .2 5 .3-3.4 .2-1.6 .3-.6 .2 1.5 .3-4.8 .2-.4 .2 6.5 .3 .6 .2 2.8 .3 .3 .2 .1 .3 2.5 .2-.1 .3 .9 .2-1 .3 2.1 .2-1.9 .3 1.9 .2 1 .3-.7 .2 .1 .2 1.9 .3 2.8 .2-5.1 .3 1.7 .2 8.1 .3-.9 .2-1.9 .3 1.1 .2 6.8 .3 2.9 .2-1.1 .3-1.9 .2-.9 .3 4.1 .2-2.7 .2 .9 .3 2 .2-1.9 .3-.5 .2 1.9 .3-1.3 .2-.9 .3-.8 .2-1.7 .3 2.7 .2-5.9 .3 4.4 .2 2.1 .3-2.4 .2 1.3 .2-3.8 .3 1.3 .2-1.4 .3-.8 .2 1.3 .3-.9 .2 2.5 .3 .2 .2-.2 .3 1.8 .3-2.3 .2-.3 .3-.5 .2 4.4 .3-.7 .2-2.2 .3 .1 .2 3 .3-3.8 .2 2.5 .3 .5 .2 2.2 .3 1.6 .2-2.5 .3 1.6 .2-2.2 .3 1.7 .2 .7 .3-3.9 .2 1.6 .3 2.2 .2 1.8 .3-3.4 .2 .2 .3 1.9 .3 2.2 .2 .8 .3-1.7 .2 3.6 .3-.5 .2 2.5 .3-.8 .2 5.9 .3-2.3 .2-1.1 .3-.4 .2 .9 .3-2.9 .2-1.6 .3-1.6 .2-3.4 .3 2 .2-2.9 .3-2.4 .2-3.6 .3-.2 .2-3.3 .3 4.7 .2-2.9 .3 2.4 .2 1.1 .2-.7 .3-.2 .2 3.9 .3 2.2 .2 3 .3-.8 .2 .8 .3 .2 .2 2.3 .3 1.2 .2-.1 .3 3.6 .3 4 .2-.6 .3 4.5 .2-1.4 .3 3 .2 4.6 .3 5.4 .2-7.3 .3 5.3 .2-1.9 .3 1.7 .3-2.3 .2 2.9 .3-2.7 .2 .9 .3-1.7 .2 .9 .3-5.9 .2 3.1 .3-.6 .2-5.2 .3-.9 .2-.2 .3-.6 .3-5.1 .2 1.2 .3-.1 .2-1.8 .3 2.3 .2 .9 .3-.9 .2 1 .2 .9 .3-4.8 .2 1.1 .3 3.1 .2-.3 .3 .6 .2 5.3 .3-4.6 .2 3.7 .3 .2 .2 1.7 .3 1.7 .2-1.7 .3-.5 .2 3 .2-5.2 .3 5.1 .2-.1 .3 .2 .2-1.3 .3-3.3 .3-1.3 .2 4.7 .3-1.6 .2 .2 .3-.3 .2 1.6 .3 2.8 .2 1.4 .3-.4 .2 .8 .3-1 .2 .4 .3 3.4 .2-2.9 .3 1 .2 3.6 .3-3 .2 1.4 .3-.6 .2-1 .3 .9 .2 .6 .3-.7 .2-3.9 .3-.5 .2-1 .3-2.4 .3 .7 .2-1.7 .3-1.4 .2 1.8 .3-4.9 .2-2 .3 1.3 .2 .9 .3-5.3 .2 3.9 .3-3.7 .3-.8 .2 3.4 .3-3.2 .2 1.1 .3 3.4 .2-2.5 .3-4.3 .2 4 .3 4.6 .2 .8 .3 3.3 .2-.4 .3 .8 .3 1.5 .2 1.8 .3-.6 .2-.2 .3 1.3 .2-1.4 .3 5.6 .2-4.5 .3 .5 .2 1.4 .3 .9 .2 .3 .3 1.1 .2 2.5 .3-1.2 .2 3.1 .3 2.9 .2 3.5 .3-2.6 .2-3 .3 3.9 .2 2.5 .3-1.8 .2 1.4 .3 1.6 .2 1.5 .3 .5 .3 3.3 .2-1.8 .3 2.8 .2 .2 .3-1.8 .2 0 .2-.9 .3-3.4 .2-.9 .3-1.1 .2-3.1 .3-.8 .2-2.3 .3-.8 .2-3.9 .3 1.2 .2 .6 .3-.9 .2-1.9 .3 1.9 .2-.7 .2-8.8 .3 8.6 .2-1 .3-2.3 .2 1.1 .3 2.6 .2 7.9 .3-6.3 .2 9.5 .3-10.3 .2 3.1 .3-2.1 .2 1.6 .3-1.7 .2 1 .2-.4 .3-2.9 .2 2.8 .3 .4 .2-2.5 .3-.7 .2 1 .3-.1 .2 .4 .3-1.5 .2-2.2 .3-3.1 .2 1.8 .3-2 .2 1 .2-4.9 .3 2.3 .2-.5 .3-2.5 .2 .1 .3-2.6 .2 1.7 .3-2.3 .2-1.1 .3 3.1 .2 .1 .3-3.1 .2 5.2 .3-2.2 .3 2.5 .2 1 .3-2.4 .2-1.6 .3 1.7 .2 1.8 .3-2.4 .2 1.1 .3 1.3 .2 .4 .3-1.7 .2 2.1 .3 .7 .2 1.6 .3-4.2 .2-2.5 .3 4.7 .2-3.2 .3-.1 .2-1.7 .3 1.1 .2 .5 .3 2.4 .2-.3 .2-2.7 .3 1.1 .2-.8 .3-1.1 .2 4.1 .3 1.6 .2-3.8 .3-.5 .2-.3 .3 3.6 .2 1.2 .3 2.3 .2-2 .3 2.4 .2 4 .2-1.1 .3 2 .2 3.2 .3 1 .2 1.4 .3 1.3 .2-3.4 .3-.4 .2-.4 .3-.7 .2-1.2 .3 3.8 .2 .8 .3-.3 .2-1.8 .2 1.7 .3-.8 .2-3.4 .3 7.3 .2-5 .3 4.5 .2-.2 .3-.8 .2 2.6 .3-4.3 .2 2 .3 .2 .2-1.4 .3-4.5 .2 2.8 .3-3 .2-3.3 .3 1.1 .3 1.1 .2-2.6 .3-2.1 .2-6.9 .3 4.5 .2 1.8 .3-1.1 .2-5 .3 2.1 .2 2.3 .3 1.5 .3 .3 .2 .5 .3-3.2 .2 2.9 .3 .8 .2-1.3 .3 4.6 .2 .7 .3-3.1 .2 2.2 .3 .3 .2-2.9 .3 4.2 .3 1.1 .2-2.3 .3-.7 .2-5.9 .3 1.6 .2-4 .3-4.4 .2 2.2 .3-2 .2-.9 .3 .2 .3-5.1 .2-2.6 .3-5.7 .2-2 .3-1.6 .2-.8 .3 0 .2-1.2 .3 0 .2 2.5 .3 2.3 .2 1.5 .3-2.2 .2-.2 .2 3.3 .3-1.6 .2 2.4 .3 2.6 .2 .3 .3-1.7 .2 3.7 .3 6.3 .2-6.3 .3 1.3 .2 8.9 .3-5.8 .2 4.2 .3 2.8 .2-.6 .3-1.9 .2 2.5 .3 1.2 .2 .9 .3-1.3 .2 5.6 .3-.5 .2-1 .3 2.9 .3-3.7 .2-1.8 .3 .9 .2 4.6 .3 3.2 .2-2.8 .3-.6 .2 1.6 .3-2.9 .2 3.4 .3-1.2 .2 2.7 .3-2.6 .2-.5 .3 3.2 .2 2.5 .3 1 .2-1.2 .3-1.9 .2 3.9 .3 4.6 .2 3 .3-7.6 .2 4 .3 .5 .2-3.4 .3 .5 .2 1 .2 2.7 .3-1.9 .2-.3 .3-5.5 .2 .2 .3-3.6 .2-1.2 .3-.7 .2-3.2 .3-7.8 .2-2.9 .2 3.5 .3-4.4 .2-.9 .3-2.1 .2-1 .3-3.5 .2-.7 .3-3.3 .2-1.1 .2 .4 .3-4 .2 1.1 .3-.7 .2 1.1 .3-.8 .3-.5 .2 2.6 .3-.6 .2 3.3 .3-1.1 .2 .7 .3 .2 .2 1.7 .3 .9 .2 1.5 .3 15.4 .3-12.5 .2 .9 .2-.1 .3-1.5 .2-.4 .3 .5 .2-3.6 .3-.5 .2-.9 .3-1.4 .2-1.3 .3 1 .2 .5 .3 1.8 .2-.1 .3-1 .2-.5 .2 2.6 .3-1.9 .2 .8 .3-5.4 .2 4.2 .3-3.2 .2-2.4 .3 4.5 .2-2 .3-1 .2 4 .3-.7 .2-1.6 .3 .2 .2 .9 .3-.9 .2 3.7 .3-4.3 .2-.4 .3 5 .3-3.9 .2-.6 .3 1 .2-1 .3 1.5 .2 .6 .3 2.8 .2-3.1 .3-4.8 .2 7.2 .3-5.5 .2 3 .3-.9 .2-.9 .3 2.8 .2-1.9 .3 3.3 .2-1.1 .2-2.7 .3-.5 .2 4.4 .3-4 .2 5.9 .3-7.4 .2 1.5 .3 .3 .2-.5 .3-.5 .2-.2 .3 3.2 .2-3.8 .3 3 .2 5.9 .2-5 .3-1.8 .2 .1 .3 2.9 .2-1.5 .3-.4 .3 11.7 .2-10.2 .3-.8 .2 .5 .3-.5 .2 1.8 .3-.5 .2 2.5 .3 6.3 .2-4.4 .3-.8 .2 .4 .3 1.1 .2 1.6 .3-4.4 .2 5.1 .3-1.9 .2 1.1 .3 .9 .2-2.2 .3 4.4 .2-3.1 .3 1.2 .2 6.9 .3-5.4 .2-1.7 .3 .6 .2-2.1 .3-.4 .2-.7 .3 1.1 .2-2.1 .2-2.3 .3 2.2 .2-.5 .3 .7 .2 1.3 .3-1.2 .2 .4 .3 4.4 .2-7.4 .3 1.4 .2-1.1 .3 2.5 .2-2.1 .3-1.8 .2-.1 .3-1.2 .2 1.6 .3 2.7 .2-4.6 .3 .9 .2-2.5 .3 1.5 .2-1.9 .3 3.6 .2 1.4 .3-4.5 .2-2.1 .3 .1 .2 2 .3-1.8 .2-3.8 .3 .9 .2 3.8 .3-1 .2-1.2 .3 .1 .2-.9 .3-2.1 .2-.9 .3 2.3 .2 4.5 .3-2.8 .2 0 .3 1.2 .2 .1 .3-.4 .2-1.7 .3 2 .2 .2 .3 1.8 .2-3.4 .3-11.4 .2 11.2 .2 .1 .3-1.4 .2 3.3 .3-1.1 .2 1.7 .3 2.6 .2-2.9 .3 1.8 .2-1.3 .3 .8 .2 .4 .3-4 .2 3 .3-.4 .2-2.6 .3 3.6 .2-3.1 .3 1.3 .2-.3 .3-.9 .2 2.3 .3-.7 .2-2.7 .3 3 .2 1.6 .3 3.7 .2-5 .3-.2 .2 2.5 .3 1.6 .2-1.2 .3 1.6 .2-1.8 .3-1.6 .2 4.5 .3 5.5 .2 2.8 .3-.6 .2 5.1 .2 .1 .3 4.2 .2 4.7 .3-2.2 .2-1.3 .3-.6 .2-3.5 .2-2.7 .3-.8 .2 3.9 .3-1.3 .2-2.4 .3 3.1 .2-4.4 .3-6.4 .2 4.2 .3-.9 .2-4.9 .3 7.1 .2-2.7 .3-.1 .2-2.8 .2-.2 .3-4.3 .2 2.9 .3 1.7 .2-1.1 .3 2.8 .3 1.7 .2-2.8 .3 2.9 .2 .6 .3 3.1 .2-.8 .3 2.7 .2-2.9 .3 1.9 .2 1.8 .3 2.8 .3-3.6 .2 2.7 .3 1 .2-6.7 .3 4.6 .2 1.7 .2-.6 .3-1 .2-3.6 .3-.3 .2 1.8 .3-2.9 .2 5.1 .3 2.1 .2 .9 .3 1.6 .2-4.8 .3-3.8 .2 4.6 .3-3.4 .2 6.6 .2-5.8 .3-.4 .2-.7 .3 1.1 .2-1.5 .3 .9 .2-1.9 .3-1.2 .2-2.8 .3-1.1 .2 1.3 .3 10.4 .3-11.8 .2 2.9 .3 3.6 .2-2.8 .3-1.1 .2-.6 .3 1.4 .2 1.6 .3-.7 .2-1.8 .3 3 .2-.5 .3 3 .2-1.4 .3-1.3 .2-1.7 .3 2.1 .2 2.2 .3 2.7 .2-1.3 .3 0 .2-.6 .3-.4 .2-2.8 .3 3.9 .2-3.9 .2 .3 .3 5.1 .2-2.4 .3-2.1 .2-1.5 .3-.1 .2 1.5 .3-1 .2-2.8 .3 .7 .2-.1 .3-1.2 .2 3 .3-2.4 .2-.9 .3-.5 .2-2.8 .3-.5 .2-2.1 .3-3.1 .2 3.3 .3-2.5 .2-.8 .3-.1 .2 1.1 .3-3 .2-1.7 .3 2 .2-2.1 .2 .2 .3-1.2 .2 3.1 .3-1.1 .2 4.3 .3-6.4 .2 5.2 .3 1.6 .2 4.3 .2-3.9 .3-.8 .2-2.7 .3 3.3 .2 1.5 .3 .2 .2-6.5 .2 1.8 .3 2.6 .2 2 .3-1.4 .2-1 .3 2.5 .2-2.8 .3-1.3 .2 6.3 .3-4.5 .2 2.8 .3-.6 .2-1.1 .3 6.1 .2-7.7 .2 3.8 .3 .8 .2-8.8 .3 5.1 .2-1.7 .3 4.5 .2-.9 .3-2.2 .2 1.8 .3-1.9 .2-.4 .3 2.8 .2 .2 .3 4.7 .2-3.4 .2-2.7 .3 .8 .2 1.3 .3 .1 .2-.4 .3-1.7 .2 2.2 .3 .4 .3 1.7 .2-1 .3 3.6 .2-3 .3 .7 .2-2.1 .3 4.1 .2 1.9 .3 0 .2-.5 .3 .9 .3-2.3 .2 1.8 .3-1.4 .2 .3 .3-2.2 .2 1.7 .3-2.4 .2-.8 .3 0 .2-.4 .3-.3 .2 2.5 .3-3.2 .3 3.4 .2 .9 .3-2.9 .2 1.8 .3-2.4 .2 1.7 .3-1.9 .2 4.8 .3-3.2 .2 .3 .3-.1 .2 2.2 .3 2.2 .2-1.8 .2 1.2 .3 2.7 .2-.7 .3 .9 .2 3.5 .3 .5 .2-.4 .3 .3 .2-.5 .3 4.6 .2 1.4 .3-.5 .2 1.8 .3-1.7 .2 7 .2-7.2 .3-.4 .2-1.1 .3 .1 .2 2.6 .3 .4 .2-3.9 .3-1.5 .2 4.7 .3-5.1 .2 2.4 .3-2.8 .2 1.5 .3 2.9 .2-6.3 .2 2.2 .3 .6 .2-.5 .3-.4 .2-3 .3-1.8 .2 1.4 .3 1.4 .2 .4 .3-1.6 .3 3.2 .2-5.5 .3 2.3 .2-2.5 .3 2.3 .2 .4 .3-3 .2-2.1 .3 .2 .2-3.9 .3 4.7 .2 2.2 .3 1.9 .2-.8 .3-1.3 .2 .9 .3 2.5 .2-2.5 .3-2 .2 3.7 .3 8.3 .2-6.1 .3-2.2 .2 1.7 .3-2.9 .2-1.9 .3-3.5 .2 0 .2 .4 .3-.8 .2 1.5 .3-6.7 .2 3.6 .3-1.6 .2 .7 .3 3.6 .2-1.6 .3 .5 .2-.3 .3 .4 .2-4.1 .3 3.8 .2 3 .2-.3 .3-4.2 .2 .8 .3-.2 .2-.4 .3-.5 .2 5.9 .3-4.7 .2-.5 .3-1.1 .2 4 .3-.5 .2 2.3 .3-3.4 .2-3.4 .2 .4 .3-.7 .2 2.3 .3-3.8 .2-1.7 .3-1.6 .2-.3 .3 .3 .2-2.6 .3-6.9 .2 8.1 .3-3.3 .2-4.7 .3-.3 .2 .7 .2 .3 .3-1.7 .2 .2 .3 .8 .2 3.3 .3-1.7 .2-.1 .3-.3 .2 .7 .3-1 .2-1.6 .3-.8 .2-1.3 .3 3.5 .2-1.4 .2 1.5 .3-1.8 .2-.3 .3 3.3 .2-.5 .3 2.3 .2-1.4 .3 .1 .2-2.8 .3 4.4 .2-2.8 .3 2.4 .2-2 .3 4.5 .2 0 .3-.5 .2 3.1 .3-2.4 .2 2.8 .3 .3 .3-.9 .2 2.1 .3 .8 .2 2.3 .3-1.8 .2-.6 .3 2.2 .2-7.1 .3 .6 .2-6.5 .3-.6 .3-3.1 .2-1.2 .3-5.7 .2-4.3 .3-2.7 .2-3 .3-7.7 .2-1.4 .3-2.8 .2-3.9 .3-.9 .3-4 .2 2.5 .2 4 .3 1.3 .2 2.8 .3 2.6 .2-1.6 .3 6.2 .2 2.5 .3 2.9 .2 3 .3 3.6 .2-3.4 .3 .1 .2 .8 .3-6.4 .2 1 .3-.2 .3-4.7 .2 .6 .3-2.2 .2 .5 .3-1.6 .2-2.2 .3 .1 .2-3.1 .3-2.1 .2 1.1 .3-6.1 .2-.6 .3-1 .2-2.7 .3-3.3 .2-3.7 .3-1.9 .2-5.7 .3-.5 .2-1.5 .3-5.7 .2-2.3 .3-.3 .2 3.8 .3-3.3 .3 6.1 .2 0 .3 3 .2 4.6 .3 4.2 .2-1.2 .3 4.5 .2 .4 .3 1.7 .2 1.9 .3 4.9 .2-.7 .3-3.2 .2 1 .3-2.1 .2-5.7 .3 1.8 .2-1.4 .3-1.5 .2 0 .2-2 .3-1.9 .2-1.3 .3 3.3 .2 .7 .3 4.7 .2 3.8 .3-.7 .2 5.4 .3 2.2 .2 2.1 .3 5.8 .2-1.5 .3 2.7 .2-7.1 .2 1 .3-6.7 .2-.7 .3-5.3 .2-2.9 .3-1.9 .2-3.9 .3-5.1 .2-7.6 .3 .9 .2-1.1 .3-4 .2 1.7 .3-2.5 .2-2.9 .2 1.1 .3-6.2 .2 2.1 .3-2.3 .2-3 .3-1.9 .2 2.5 .3 1.7 .2 1.3 .3-1.2 .3 3.6 .2-1.6 .3 4.5 .2 .6 .3-4.3 .2 3.3 .3-.1 .2 2.1 .3 0 .2 1.1 .3 2.6 .3 .1 .2-4.9 .2 1 .3-2.3 .2-4.6 .3-.2 .2-4.6 .3-4.1 .2-5 .3-2.8 .2 2.7 .3-5 .2 .5 .3-2.2 .2-3.7 .3 2 .2-2.7 .2 3.1 .3-7.5 .2-.5 .3-1.1 .2-4.1 .3 2.6 .2-3.1 .3 4.3 .2-.4 .3-3 .3 4.4 .2-5 .3 1.5 .2-.7 .3-4.2 .2 5.1 .3-.9 .2-2.8 .3 2.5 .2-2 .3 3.3 .3-1.7 .2-1.5 .2-3 .3 2.7 .2-2.9 .3-1.8 .2 1.2 .3-1.2 .2 2.1 .3-3.4 .2-3.3 .3 .6 .2-3.6 .3 2.2 .2 3.9 .3-5.4 .2-2.6 .2-.2 .3-.8 .2-2.2 .3-2.3 .2-.2 .3-1.4 .2 6.4 .3-3.2 .2 6.2 .3 .6 .3 1.8 .2-1.6 .3 5.3 .2 1.2 .3 4.3 .2-2 .3 2.7 .2-1.9 .3 6.8 .2 2.2 .3 .4 .3 2 .2-2.2 .3 2.1 .2-1.2 .3-.2 .2 2 .3-2.1 .2 4.4 .3-4.2 .2 .6 .3-2.3 .2 3.1 .3-4.2 .3 4.7 .2-1.9 .3-1.1 .2-2.9 .3 .6 .2-3.6 .3-3.3 .2-2.5 .3-4.2 .2 .6 .3-3.6 .3 0 .2-1.1 .3-2.6 .2-1.5 .3-2.6 .2-.3 .3-7.5 .2-2.4 .3 1.5 .2 3.4 .3-2.2 .3-.6 .2 3.6 .3-2.1 .2-1.5 .3 6.8 .2-5.4 .3-.6 .2 1.3 .3 .3 .2 2.6 .3-1.8 .3 3.3 .2 1.1 .3-.1 .2 .5 .3 2.6 .2 3.1 .2 .3 .3-5.1 .2 10.8 .3-1.8 .2 1.8 .3-.4 .2 5.3 .3 1.9 .2-.7 .3 3.9 .2-1.1 .3 2 .2 .8 .3 4.5 .3-.4 .2-1.3 .3-.4 .2 2.9 .3 .2 .2 .6 .3 3.5 .2-.7 .3-3.9 .2 3.7 .3 .3 .3 2.4 .2-2.3 .3 .5 .2 2.9 .3 4.7 .2-6.3 .3 3.1 .2 .3 .3 4.5 .2-2.3 .3 1.9 .3 5 .2-6.7 .3 1.7 .2 1.1 .3 3 .2-4 .3 2 .2-1.9 .3 3.5 .2-1 .3 3.9 .3-1.9 .2 2 .3-.2 .2-2.1 .3-.7 .2-3.8 .3 2.4 .2 1.5 .3 0 .2-2.1 .3 4 .2-4.5 .3 3.4 .2 .6 .3-3.8 .2 3.3 .3 .4 .2 1.9 .3 2.8 .2-3 .3 .2 .2 7.5 .2-4.7 .3-.3 .2-1.2 .3 .7 .2-.8 .3 4.8 .2-6 .3 1.4 .2 .9 .3-1.6 .2 2.6 .3-.1 .2 .4 .3 .3 .2-1.9 .3 4.3 .3 .5 .2 2.2 .3 .4 .2-2.3 .3 2.5 .2-.7 .3 1.3 .2 4.7 .3-1.8 .2-.7 .3 1.8 .3 1.6 .2-.6 .3-.4 .2-2.2 .3 1.1 .2-.9 .3 .8 .2 7.3 .3-6.6 .2-.6 .3 .6 .3 3.6 .2 2.7 .3 .7 .2-.5 .3-.7 .2 2.1 .2 .6 .3-2 .2 5.4 .3-4.5 .2 1.6 .3 2.6 .2-1.7 .3 1.9 .2 .4 .3-1 .2-.7 .3 2.8 .2 .5 .3 2.8 .2-3.2 .2 2.6 .3 2.5 .2-2.9 .3 2.2 .2-.3 .3-.5 .3 1.2 .2-.1 .3 1.9 .2-1.7 .3 1.2 .2-2 .3 1.1 .2-2.2 .3 1 .2 1.6 .3-3.7 .2-.2 .3-1.9 .3 1.9 .2 1.7 .3-4 .2-3.2 .3 3.2 .2 1.3 .3-2.5 .2-2.5 .3 2.8 .2 .8 .3-3.4 .3 1.8 .2-1.1 .3-.5 .2-2.8 .3 2.5 .2-2.2 .3-4.6 .2-.4 .3 5.8 .2-2.2 .3-2.4 .2 1.9 .3-1.9 .2 .9 .2-3.9 .3 3.8 .2-1.8 .3 0 .2-1.1 .3 2.6 .2-3.6 .3-1 .2-1.1 .3 .4 .2 2.3 .3-3.7 .2 .1 .3 1.7 .2 .5 .3 1.1 .2 .9 .2 4.5 .3-.4 .2 3.7 .3 .5 .2-1.1 .3 4.1 .2 .2 .3 2.3 .2-.5 .3-2.2 .2 .7 .3-.1 .2-2.7 .3-3.8 .3-1.2 .2 2.3 .3 .2 .2-3.6 .3 6.7 .2-7.4 .3-2.5 .2 .1 .3-3.6 .2 4 .3 5.1 .3-3.7 .2 2.7 .3-3.8 .2-1.1 .3-.2 .2 .5 .3-1.8 .2 2.9 .3 1.2 .2-2.4 .3-1.7 .2 2.5 .3-3.8 .3 .1 .2 .8 .3 1.7 .2 5.2 .3 2.5 .2 0 .2 6 .3-1.7 .2 7.9 .3-2 .2 2.2 .3 6 .2 2.1 .3-2.9 .2 2.9 .3-2.9 .2-2.5 .3-1 .2-.9 .3 1.3 .2-2.6 .2 1.8 .3-1 .2-3.3 .3-4.2 .2-2 .3-2.7 .2 3.5 .3-2.1 .2-.4 .3-4.4 .2-2.6 .3-1.6 .2 3.3 .3-2.9 .2 4 .3-1.7 .2 5 .3-.9 .2 7.4 .3 .8 .2 3.3 .3 2.4 .2-3.7 .3 4.5 .3 3.1 .2 5 .3 2.1 .2 .3 .3-.2 .2 6.6 .3-.8 .2 4.9 .3 1.1 .2-1.1 .3 2.3 .3 1 .2 4.7 .3-.6 .2-1.2 .3 2.3 .2 .9 .3 2.5 .2 2.5 .3 .7 .2 1.7 .3-.5 .3 1.8 .2-2.4 .3-3.5 .2 .6 .3 .6 .2-2.3 .3 1.1 .2-4.1 .3 2.8 .2-1 .3-2.4 .2-.1 .3 .4 .3-.6 .2-3.8 .3 .7 .2 .8 .3 1.6 .2-5.3 .3-1.7 .2 .9 .2-1.8 .3 0 .2-.3 .3 .6 .2-1.6 .3 3.1 .2-.5 .3-2.9 .2-1.4 .3 2.8 .2-1.4 .3 1.8 .2-3.4 .3 1.3 .2-1.3 .2-1.1 .3 .3 .2 2.7 .3-1.1 .2 3.3 .3 .6 .2 3.2 .3 3.6 .2 .9 .3 .3 .2-.2 .3 .1 .2 4.1 .3-1.9 .2 4.5 .2 1.8 .3 .3 .2 4 .3 2.1 .2 1 .3 3.4 .2 .2 .3-.8 .2 3.1 .3-3.4 .2-3.8 .3-4.4 .2 2.3 .3 1.3 .2 1 .2-7.1 .3-2.9 .2-5 .3 2.8 .2-3.8 .3 .3 .2-1.5 .3 1.5 .3-.3 .2-1.5 .3-.2 .2 0 .3 3.2 .2-3.5 .3-2.6 .2 3.2 .3 1.5 .2-1.8 .3 .6 .3-.6 .2 1.7 .3 1.5 .2-2.6 .2-2.1 .3 .8 .2-.1 .3 2.4 .2 .1 .3 .8 .2-4.1 .3 .4 .2-.8 .3-.4 .2-.1 .3-.3 .2-.1 .3-4 .2-1.1 .2 1 .3-1.1 .2-1 .3 1.9 .2-2 .3-.5 .2-.4 .3 5.2 .3 .2 .2-.8 .3-.7 .2-3.6 .3-.3 .2 4.1 .3-3.8 .2 4.4 .3 .6 .2 .8 .3-1.4 .3 .7 .2 2.3 .3-4.4 .2-.8 .3 2 .2-5.5 .3 4.8 .2 .3 .3 2.8 .2-7.6 .3-.9 .3 1.6 .2-.3 .3-3.7 .2-1.3 .3 1.6 .2-1.3 .3-2.2 .2 1 .3-1.3 .2-.5 .3 1.6 .2-.3 .3 1.7 .2-.5 .3 4.9 .2-2.9 .2 1.8 .3-1.8 .2 5.2 .3-.8 .2-2.1 .3 .9 .2 1.6 .3-.5 .2-1 .3 .4 .2 3.8 .3-5.2 .2 2.1 .3-1.5 .2-.1 .2-1 .3 .7 .2 1.3 .3-3.7 .2 .1 .3 .5 .2 1.9 .3-6.1 .2 .3 .3-.8 .2-2.8 .3 1.9 .2 .5 .3 1.2 .2-1.1 .2 3.8 .3-1.2 .2-4.4 .3-.7 .2 3.1 .3-.9 .2 .4 .3-1.4 .2 .2 .3-3.8 .2 .9 .3-3.3 .2-2.7 .3 3.9 .2-2.8 .2-1.4 .3-2.9 .2-4.1 .3-3.4 .2-3.1 .3-3.9 .2-2.9 .3-2.1 .2-4 .3-6.1 .2 0 .3-4.1 .2 2.4 .3 2.4 .2-2.1 .3 3.8 .2-1.2 .3 2.4 .2-.8 .3 2 .3 2.2 .2-2 .3 2.6 .2 .1 .3 2.2 .2 .3 .3-.3 .2 3.6 .3 1.9 .2-7.1 .3 5.8 .2-5.5 .3-1.3 .2 1.6 .3-4.2 .2 3 .3-.6 .2-1.1 .2-.6 .3 2.5 .3-1.2 .2 .6 .3 3.8 .2 .1 .3-3.3 .2 4.9 .3-.1 .2 1.4 .3 2.8 .2-1.2 .3 1.9 .3 .2 .2 .2 .3-3.7 .2 1.9 .3 .9 .2 1 .3 1.6 .2 2.4 .3-2.7 .2-2.5 .3 5.9 .3-1 .2 3.8 .3-.6 .2 2.4 .3 3.7 .2-5.6 .3 2.9 .2 .6 .3 .8 .2 0 .3-.3 .2-.9 .3-1.4 .2 1.1 .3-3 .2 3.2 .3-3.3 .2-1.1 .3 2.4 .3-6.2 .2-4.6 .3 7.5 .2-1.4 .3-1.9 .2 4.2 .3 2.8 .2-2.5 .3-.3 .2 1.9 .3 .6 .2-3 .3 2.4 .2-.4 .3-1.3 .2-.2 .3 .3 .2 2.2 .3-2 .2 .3 .3-.9 .2 1.7 .3 1.3 .2-.7 .2-4.4 .3 2.5 .2-.2 .3 2.7 .2 3.6 .3-5.1 .2-2.6 .3 .8 .2 5.3 .3-1.5 .2-.5 .3-1.5 .2-.1 .3 1.2 .2 .6 .3 2.2 .2-2.6 .3-.9 .2-.3 .3 1.8 .2-.5 .3-1.9 .2 .7 .3-.4 .2 3.1 .3-2.2 .2-.5 .3 3 .2-1.9 .3 .5 .2-.9 .3 4 .2-4.5 .3 3.4 .2 3 .3-2.5 .2-2.1 .3 2 .2 2.2 .3 1.2 .2-5.6 .3 5.1 .2-.2 .3-.8 .2 .2 .3-.8 .2-2.5 .3 2.5 .2-2.6 .3-.3 .2 6.2 .3 .3 .2-1.9 .3 .5 .3-.9 .2 .6 .3 1.8 .2 1.2 .3 2.4 .2-2.4 .3 4.2 .2-2.8 .3-2.5 .2-2.7 .3 1.5 .2-.4 .3 .7 .2 .9 .3-2.2 .2-2.3 .3-.1 .2 .2 .3 2.1 .2-4.9 .3 2.5 .3-2.2 .2 0 .3 .2 .2-3 .3-2.3 .2 2 .3-1.9 .2-5.2 .3 6.6 .2-2.5 .3-2 .2 1.5 .3 .8 .2 2.6 .3 1.4 .2-1.8 .3 .1 .3-.5 .2 .6 .3-3.2 .2 .2 .3 3.3 .2-2 .3-.5 .2 1.5 .3-1.7 .2 4.8 .3-7.6 .2 .8 .3 .3 .2 1.6 .3 .6 .2-.7 .3 6.4 .2-8.8 .3 6.8 .2-1.8 .3 1.8 .2 .1 .3-.6 .2 2.3 .3 1.2 .2-3.5 .3-1.4 .2 3.4 .2 3.4 .3-2.8 .2-2.9 .3 1.7 .2 1.1 .3 1.3 .2-2.8 .3 1.9 .2-2 .3 1.3 .2 .8 .3-2.3 .2 3.3 .3 .1 .2-.8 .3 2.6 .2-6.3 .3 4.6 .2-.3 .3-3.2 .2-3.6 .3 2.4 .2-1.1 .3-3.7 .3-1.9 .2 .7 .3 1 .2-2.3 .3-.8 .2 1.9 .3-1.5 .2-4 .3 .5 .2-1.4 .3 3.4 .3-2.5 .2 .3 .3-5.4 .2 1.7 .3-2.8 .2-.4 .3-.1 .2-.6 .3-1.8 .2-2.8 .3 2.4 .2-.3 .3-.7 .3 2.5 .2 2.4 .3-1.4 .2 .4 .3 1.4 .2 2.5 .3-4.2 .2 1.5 .3 2.6 .2 .7 .3 1.6 .3-1.1 .2 0 .3-1.1 .2 1.4 .3 1.2 .2-4.7 .3-.1 .2-.5 .2 1 .3 1.6 .2-1.9 .3-1.5 .2 6.5 .3-5.6 .2-4.2 .3 4.9 .2-2.8 .3 3.8 .2-2.1 .3 .6 .2 .2 .3-1.1 .2 .7 .2 .7 .3-2.2 .2-1.1 .3 .5 .3-.8 .2 .5 .3 .3 .2-2.7 .3 2.3 .2 .1 .3 1.3 .2 1.6 .3-5.9 .2 3.9 .3-.2 .3-6.1 .2 4.1 .3-.5 .2 5.6 .3-3.2 .2 1.2 .3-.9 .2 1.5 .3 2.8 .2-1.1 .3 3.8 .3-1.9 .2 3.2 .3-1.1 .2 .2 .3-1.8 .2 4.3 .3-3 .2 4 .3-1.9 .2-1.7 .3-5.8 .2-3.3 .3-3.4 .2 .9 .3-3.8 .2-2.3 .3-.1 .2 .8 .2-5.2 .3 1 .3-1.5 .2-.6 .3 2.3 .2-4.1 .3 2.2 .2 4.6 .3 .1 .2-.4 .3 1.8 .2-.2 .3 .5 .3-1 .2 .5 .3 1.1 .2 .5 .3-.9 .2 1.4 .3-3.8 .2 .9 .3-5.3 .2 4.4 .3-1.6 .3-2.5 .2-.3 .3 2.1 .2-.8 .3-.3 .2-3.8 .3-.5 .2 1.9 .3-3.1 .2-2.2 .3 3.2 .2 2.4 .3-3 .2 .9 .3-.4 .2-4.4 .2 5.2 .3-2.4 .2 3.4 .3-3.5 .2 5.6 .3 1.4 .2-1.4 .3 3.1 .2-1.7 .3-.3 .2 3.3 .3-3.8 .2-5.4 .2 5.8 .3-1.7 .2 2 .3-2.2 .2 1.4 .3 .9 .2 1.6 .3-2.8 .2-.8 .3 1.4 .2 2 .3-2.3 .2-2.7 .3 3.2 .2 1.2 .3 1.5 .2-1.8 .2-.7 .3 3 .2-2.8 .3 4.5 .2-5.1 .3 2.2 .2 1.9 .3-3.4 .2 1.1 .3-2.9 .2 1.5 .3-1.7 .2 .2 .3 .1 .2-4.2 .2-.6 .3 1.1 .2-2.5 .3 1.7 .2 .2 .3-.7 .2-3.3 .3-.5 .3-.6 .2-1.6 .3 2.8 .2-2.7 .3-.7 .2-1.6 .3 1.8 .2 1.5 .3-2.1 .2-1.4 .3-1.6 .2 4.3 .3-1.8 .3-1.3 .2-2.7 .2-.4 .3-.9 .2 1.6 .3-1.1 .2-1.8 .3-4.8 .2-.9 .3-2.7 .2-1.3 .3-.8 .2 2.1 .3-4.2 .2 2.6 .3-2.9 .2 1 .2-1.1 .3 .3 .2 .4 .3-.4 .2-6.5 .3 2.6 .2-1.9 .3 1.5 .2-1.3 .3-1.1 .2-1.6 .3-2.2 .2 .9 .3-2.3 .2 4 .2-4 .3 .2 .3 4.7 .2-7.5 .3 5.6 .2-1 .3 5.8 .2-2.8 .3 1.8 .2 .5 .3-1.5 .2 .2 .3-.2 .3 2.8 .2 2.1 .3-1.3 .2 .1 .3-2.4 .2 1.4 .3-.5 .2 .8 .3 2.8 .2-1.1 .3-5.7 .3 2.4 .2 .6 .3-.1 .2-.7 .3-3.6 .2 4.4 .3-2.8 .2 3.9 .3-4.8 .2 2.4 .3 1.8 .3-3.3 .2 2.4 .3 .6 .2 2.6 .3-.1 .2-1 .3-1.1 .2 1 .3-.4 .2 2.9 .3 .6 .2-1.5 .3 6.2 .3-5 .2 2.4 .3 2.5 .2 .1 .2-1.7 .3 3.6 .2 2.3 .3 .3 .2 1.7 .3 2 .2 .7 .3-.3 .2-3.4 .3 1.2 .2-1.9 .3-3 .2-1.2 .3-1.9 .2-4.8 .2 1.7 .3-4.3 .2 .5 .3-1.9 .2-2 .3 .1 .2-.1 .3 .1 .2-3.5 .3-1.7 .2-3.7 .3 2.3 .2-2.4 .3-1.2 .2-1.5 .3 .5 .2-2.4 .3-1.5 .2-2.7 .3-2 .2-.9 .3 1.8 .2-4.9 .3-1.8 .2 .2 .3 4.3 .3-6.4 .2 1.5 .3-1.9 .2-3.6 .3 .8 .2-1 .3-5.4 .2 3.1 .3 2.7 .2-3.3 .3-2.2 .3-.8 .2 2 .3-2 .2 1.4 .3-3.1 .2 .2 .3-2.3 .2-1.7 .3 0 .2-1.1 .3-4.6 .2 0 .3-2.9 .2 4.1 .3 1 .2-7 .3-3.2 .2-.7 .3 5.9 .2-6.2 .3 0 .2 .5 .2-3.2 .3-2 .2-1.3 .3-5.5 .2-1.8 .3 .8 .2-3.6 .3 1.7 .2-.1 .3-3.2 .2 3.6 .3 .8 .2-3.7 .3 4 .2-.5 .3 4.6 .2-4.5 .2 4.5 .3 2.8 .2-.9 .3 1.6 .2 5.3 .3 5.8 .2 3.7 .2 9.5 .3 1 .2 8.3 .2 5.8 .3 8.1 .2-6.9 .3-.4 .2-7.2 .2-2.5 .3-2.3 .2-2.4 .3-2.7 .2-3.1 .3-6.5 .2-.1 .2 7.4 .3-9.1 .2-1.7 .3 1.1 .2-5.1 .3 7.9 .2-5 .3-1.3 .2-2.2 .3 0 .2-3.4 .3 2.6 .2-.1 .3-4 .2 2 .3-1 .2-.3 .3 .2 .3 .8 .2-3.3 .3 2.5 .2-4.1 .3-2.1 .2 2.3 .3-1.1 .2-1.9 .3 2.5 .2 1.6 .3 2.6 .2 .7 .3-1 .2 3.1 .3 2.4 .2 .2 .3 3.9 .2-.8 .3 1.1 .2-1.6 .3-.8 .2-.5 .3-5.3 .2 6.1 .3-5.4 .2 .6 .3 .5 .2-1.3 .3 4.3 .3-3.3 .2 3.5 .3-5.1 .2 1.2 .3-5.6 .2 1.9 .3-.5 .2 1 .3-3.1 .2 .3 .3 .1 .3 1.2 .2-4.5 .3-.3 .2 2 .3-1 .2-3.1 .3 2.5 .2 .3 .3-2.3 .2 4.8 .3-2.9 .2-3.4 .3-.7 .2-1.4 .3-3.8 .2-3.4 .3-2.7 .2-.4 .3 .9 .2-6.4 .3-3.1 .2-1.4 .3 1 .2-.3 .2 6 .3-.1 .2 2.4 .3-.5 .2 3.8 .3-1.1 .2 .2 .3 1.5 .2 4.8 .3-1.1 .2-1.2 .3 .6 .2-4.9 .3 1 .2-4.3 .3 3.9 .2-2.9 .3-3.2 .2-.4 .3 3.2 .2-2.2 .3-2.8 .3-.6 .2 3.5 .2 3.8 .3 5.2 .2 6.9 .2 3.4 .3 1.9 .2 3.9 .3 5.3 .2 4.9 .2-.4 .3 3 .2-2.1 .3 2.1 .2-2.3 .3 5.8 .2-.4 .3 2.2 .2 2.2 .3 1.3 .2 .8 .3 4.3 .2-.8 .3-1.3 .2-2.8 .3 2.5 .2 4.3 .3 5.4 .3-4.9 .2 6 .3-2.6 .2 .4 .3-.8 .2 9.3 .3-7.4 .2 1.1 .3 .4 .2-.7 .3 1.2 .3-1 .2 2.1 .3 1.4 .2-.4 .3 .8 .2-.3 .3 2.5 .2 3.7 .3-1.8 .2-.6 .3 .5 .3 .6 .2 2.5 .3-1.5 .2-1.9 .3 2.8 .2-2.1 .3 2.8 .2 2.2 .3 1.5 .2-1.5 .3-4 .3 .4 .2 2.9 .3-3.5 .2 2.8 .3-3.1 .2-1.4 .3 .9 .2-2.9 .3 2.7 .2 1.2 .3 3.3 .3-4.9 .2 4 .3 .5 .2 .8 .3 3.5 .2 .5 .3 1 .2-.9 .3 4 .2-1.4 .3 1 .2 1.2 .3-3.9 .3 .6 .2 3.3 .3-3.8 .2-.1 .3-.7 .2 .7 .3-3 .2 2.7 .3-1.5 .2 .3 .3-5.5 .3 4.6 .2-4.4 .3 1.7 .2-1.9 .3 2.7 .2-5.4 .3 4.9 .2-3.8 .3 6.7 .2-.1 .3-1.2 .2-1 .3-1.3 .2 0 .3 3.6 .2 .3 .3 .5 .2-1.7 .3-2 .2 2.5 .3-1.6 .2-3 .3 6 .2-.3 .3 .6 .2 .3 .3-.8 .3 3.3 .2-5.7 .3 .9 .2-.3 .3-3.8 .2 .6 .3 1.6 .2-3 .3 3.4 .2-6.7 .3-.4 .2 1.9 .3-4.5 .2-1.3 .3 4.1 .3-6.7 .2 1.1 .3-1.2 .2-2.4 .3-.4 .2-1.8 .3 1.4 .2-1.4 .3 3.1 .2 2.8 .3-6.9 .2 4.2 .2 .8 .3 .4 .2 .3 .3-1.8 .2 1.5 .3 4 .2-1.5 .3 1.3 .2 2 .3 3.3 .2-3.8 .3-3.4 .2 4.8 .3 .7 .2-1.8 .3-.6 .2 3.3 .3-5.7 .2 2.1 .3-1.9 .2-5.1 .3 5.4 .2-4 .3 .9 .2-3.8 .3 2.6 .3-1.8 .2-3.5 .3 2 .2-.7 .3-2.8 .2-.1 .3 5.5 .2 0 .3-1.2 .2 2.3 .3-4.5 .2 3.1 .2 1 .3 1.5 .2 1 .3 2.3 .2-1.9 .3 .6 .2-7.8 .3 2.8 .2-1 .3-6.6 .2-.2 .3-4.1 .2-.8 .3-.5 .2-2.3 .2-1 .3-2.9 .2-.7 .3-1.3 .2 2.3 .3-7.2 .2 3.9 .3-8.7 .2-2 .3-.4 .2-3.7 .3-3.9 .2-.2 .3-1.5 .2-6.4 .3 .8 .2-2 .3-3.5 .2-3.4 .3-2.4 .2-2.7 .3-2.7 .2-4 .3-1.5 .2-1.9 .3 2.9 .3-.9 .2 1.7 .3 4.8 .2 1.3 .3-.3 .2 4.3 .3-2.5 .3 3.6 .2 5.6 .3 .4 .2 4.1 .3 3.8 .2 .4 .3-2 .2 6.8 .3 3 .3 1 .2 1.6 .3-2 .2-3.4 .2 2.2 .3-1.7 .2-7.2 .3-.2 .2-4.8 .3-3.4 .2 2.5 .3 .2 .2 3.4 .3-.3 .2-1.9 .3 2 .2-2 .3 5.3 .2-5.2 .2 1.6 .3 3.5 .2 1 .3 .7 .2-1.6 .3-2.4 .2-.6 .3-1 .3-6.2 .2-2.1 .3 4.8 .2-4.7 .3-.2 .2-5 .3 5.6 .2-3 .3 1.5 .2-3.8 .3-1.9 .3-1.1 .2-.2 .3-1.2 .2 1.5 .3-2.2 .2-2.4 .3 3.8 .2-1.7 .3 1.7 .2 1.3 .3-3.1 .3 .6 .2-.3 .3-1.7 .2-1.9 .3-.6 .2 1 .3 .6 .2 1.6 .3-5 .2 4.1 .3-2.2 .2 1 .3 .2 .2-3.4 .3-1 .2 5.4 .3-1.2 .3-1 .2 .6 .3-2.5 .2 1.8 .3-.1 .2 2.4 .3-.6 .2 5 .3-3.5 .2 3.5 .3 3.1 .2-.1 .3 .1 .2 3 .3 1.7 .2 2.7 .3-.9 .2 1.3 .3-3.4 .2-1.9 .2-2.9 .3 .6 .2-2 .3-1.4 .2-4.2 .3 1.7 .2-3.1 .3 .9 .2-5.1 .3 .3 .2 1.8 .3-.1 .2-3.8 .3-3.3 .2 5.7 .2-2.4 .3-1.8 .2-3.1 .3 .9 .2-5 .3 1 .2-4.3 .3 3.6 .2-5.7 .3 .3 .2-1.2 .3-3 .2 .8 .3-3.7 .2 .1 .3-.5 .2 1.2 .3-1 .2 3.7 .3-2.4 .2-.4 .3 .5 .2-.8 .3 2.3 .3-1.7 .2-.4 .3-.6 .2 .5 .3 5.7 .2-3.5 .3-1.6 .2 1.9 .3 1.4 .2-4.4 .3-1.1 .3 .8 .2-4.1 .3 2.6 .2 .7 .3-.3 .2 .3 .3-6.9 .2 6.4 .3-.7 .2-1.8 .3-1.3 .2 1 .3-1.3 .2-1.5 .3 .9 .2-1.1 .3 2.9 .2-2.2 .3 1.8 .2-2.8 .3 4 .2 .6 .3-.5 .2-3.7 .3-.5 .2 6.3 .2-2.3 .3-1.1 .2 .8 .3 1.5 .2-.3 .3 .6 .2-.4 .3-2.9 .2 3.8 .3-3.3 .2 3.3 .3-5.8 .2 4.1 .3-.3 .2 1.6 .2-2.2 .3 .6 .2-1.4 .3 2.4 .2-5.5 .3 2.3 .2-2.9 .3 .6 .2 .8 .3-3.7 .2 1.6 .3-.1 .2 1.8 .3-.2 .2 .4 .3-1.8 .2-.5 .3-1.7 .2 2.8 .3-2.5 .2-1.4 .3-.9 .2-.5 .3 .3 .3-3.1 .2-2.3 .3 2.9 .2-.4 .3-.8 .2-1.4 .3 .3 .2 3.7 .3-1.1 .2-4.3 .3 4.3 .2-3.2 .3 1.5 .3-1.9 .2-1.2 .3 1.5 .2 2.2 .3-.2 .2 1 .3 .5 .2-.4 .3 0 .2-1.7 .3 1.4 .3 4.9 .2-1.4 .3-.5 .2-2.4 .3-.3 .2-1.6 .3-.5 .2 .1 .3-3.5 .2 4.6 .3-.8 .3 1.8 .2-4.3 .3 2.9 .2-.5 .3 1.7 .2 2.9 .3 1.3 .2 3.1 .3 .1 .2-.8 .3 .5 .3-2.5 .2 5.4 .3 .2 .2-2.8 .3 3.3 .2-1.7 .3 6.9 .2-4.9 .3-1.1 .2 6.6 .3-6.7 .2 1.6 .3-2.6 .2 5.1 .3-6.4 .2 4 .3-4.9 .2 3.1 .2 .4 .3 1.1 .2-7.5 .3 2.6 .2 3.6 .3-5.8 .2-.5 .3 1.5 .2-4.3 .3 .1 .2 .8 .3 1.2 .2-.5 .3-1.4 .2-4.9 .3 3 .2 1.7 .3 .1 .2-1.8 .3-1.8 .3-.4 .2 .6 .3-.6 .2-.9 .3 4.6 .2-2.8 .3 .1 .2-.5 .3 2.8 .2-3.5 .3 4.8 .3-.4 .2 1.6 .3-4.8 .2 .6 .3 2.6 .2-.1 .3-1.9 .2-1.7 .3 1.2 .2-2.4 .3 5.3 .3-2.6 .2-.1 .3 2 .2-1.5 .2-2.9 .3 4.6 .2-2.8 .3 2.6 .2-1.2 .3 .4 .2-2.1 .3 2.7 .2-3 .3-1.8 .2 1.1 .3-1.4 .2 2.4 .3-2.9 .2-.6 .2 1.5 .3 1.7 .2-1.8 .3 2.5 .2-.9 .3-.1 .2 .8 .3 0 .3-2.1 .2-.7 .3 .3 .2 3.5 .3-4.5 .2 .3 .3 1.8 .2 2.1 .3-2.9 .2 0 .3 .3 .2-1 .3-.5 .3-.9 .2 2.6 .3-1.1 .2 .5 .3 1.5 .2-3.2 .3 7.6 .2-3 .3 2.2 .2-2.9 .3 .6 .3 3.3 .2-3.8 .3 0 .2-.9 .3 .2 .2 2.3 .3-2 .2-5.1 .3-.1 .2 5.1 .3 .8 .3 2.3 .2-1.4 .3-4.3 .2 1.2 .3 3.5 .2 .6 .3-2.6 .2 1.7 .3 1.4 .2 2.1 .3-.6 .2 1 .3 1.7 .3-1.4 .2 2.1 .3 2.8 .2-4.1 .3 4.5 .2 1.8 .3-2.3 .2 1.1 .3-.6 .2 1.4 .3 3.4 .2-1.9 .3 4.4 .2-8.6 .3-.4 .2 1.6 .3 .2 .2-5.4 .3 5.7 .2-6.4 .3 1.9 .2-5.2 .3 6.9 .2-5 .3 1.4 .2-3.2 .3 6.7 .2 .1 .3 1.6 .2 1 .3-3.6 .2 .7 .3 1.7 .2-1.3 .2 1.7 .3-1.9 .2 3.2 .3-3.6 .2-3.2 .3 2.8 .2-5.1 .3 1.5 .2-4.1 .3 1.1 .2-1.3 .3 1.1 .2-11.8 .3 6.9 .2-2 .2 4.6 .3-3.2 .2 .7 .3-.8 .2-4.4 .3 4.7 .2 1.4 .3-5.6" fill="none" stroke="#cc78bc" stroke-width="1.6" stroke-linejoin="round"/>
<line x1="72" y1="583.10" x2="1467" y2="583.10" stroke="#000" stroke-width="1.39" stroke-dasharray="5.5 1.81"/>
<rect x="72" y="10" width="1395" height="770" fill="none" stroke="#cccccc" stroke-width="1.7"/>
<g style="opacity:0.999">
<text transform="translate(130.70 805) scale(0.95 1)" text-anchor="middle" font-family="Liberation Sans, sans-serif" font-size="16.67" fill="#262626">2000</text>
<text transform="translate(328.03 805) scale(0.95 1)" text-anchor="middle" font-family="Liberation Sans, sans-serif" font-size="16.67" fill="#262626">2004</text>
<text transform="translate(525.36 805) scale(0.95 1)" text-anchor="middle" font-family="Liberation Sans, sans-serif" font-size="16.67" fill="#262626">2008</text>
<text transform="translate(722.70 805) scale(0.95 1)" text-anchor="middle" font-family="Liberation Sans, sans-serif" font-size="16.67" fill="#262626">2012</text>
<text transform="translate(920.03 805) scale(0.95 1)" text-anchor="middle" font-family="Liberation Sans, sans-serif" font-size="16.67" fill="#262626">2016</text>
<text transform="translate(1117.36 805) scale(0.95 1)" text-anchor="middle" font-family="Liberation Sans, sans-serif" font-size="16.67" fill="#262626">2020</text>
<text transform="translate(1314.69 805) scale(0.95 1)" text-anchor="middle" font-family="Liberation Sans, sans-serif" font-size="16.67" fill="#262626">2024</text>
<text transform="translate(59.0 687.46) scale(0.95 1)" text-anchor="end" font-family="Liberation Sans, sans-serif" font-size="16.67" fill="#262626">−20</text>
<text transform="translate(59.0 589.10) scale(0.95 1)" text-anchor="end" font-family="Liberation Sans, sans-serif" font-size="16.67" fill="#262626">0</text>
<text transform="translate(59.0 490.74) scale(0.95 1)" text-anchor="end" font-family="Liberation Sans, sans-serif" font-size="16.67" fill="#262626">20</text>
<text transform="translate(59.0 392.38) scale(0.95 1)" text-anchor="end" font-family="Liberation Sans, sans-serif" font-size="16.67" fill="#262626">40</text>
<text transform="translate(59.0 294.02) scale(0.95 1)" text-anchor="end" font-family="Liberation Sans, sans-serif" font-size="16.67" fill="#262626">60</text>
<text transform="translate(59.0 195.66) scale(0.95 1)" text-anchor="end" font-family="Liberation Sans, sans-serif" font-size="16.67" fill="#262626">80</text>
<text transform="translate(59.0 97.30) scale(0.95 1)" text-anchor="end" font-family="Liberation Sans, sans-serif" font-size="16.67" fill="#262626">100</text>
</g>
<text transform="translate(20.5 396.5) rotate(-90) scale(0.9999 1)" text-anchor="middle" font-family="Liberation Sans, sans-serif" font-size="16.67" fill="#262626">% of risk capital, no compounding</text>
<g style="opacity:0.999">
<rect x="80.5" y="17.5" width="327" height="136" rx="3" ry="3" fill="#ffffff" fill-opacity="0.8" stroke="#d6d6d6" stroke-width="1.0"/>
<text transform="translate(243 35.8) scale(0.9999 1)" text-anchor="middle" font-family="Liberation Sans, sans-serif" font-size="16.67" fill="#262626">PnL Category(s)</text>
<line x1="86" y1="52.40" x2="117" y2="52.40" stroke="#0173b2" stroke-width="1.4"/>
<text transform="translate(129 56.70) scale(0.9999 1)" font-family="Liberation Sans, sans-serif" font-size="15.28" fill="#262626">Inflation shortfall (relative)</text>
<line x1="86" y1="74.00" x2="117" y2="74.00" stroke="#de8f05" stroke-width="1.4"/>
<text transform="translate(129 78.30) scale(0.9999 1)" font-family="Liberation Sans, sans-serif" font-size="15.28" fill="#262626">Labor market slackening (relative)</text>
<line x1="86" y1="95.60" x2="117" y2="95.60" stroke="#029e73" stroke-width="1.4"/>
<text transform="translate(129 99.90) scale(0.9999 1)" font-family="Liberation Sans, sans-serif" font-size="15.28" fill="#262626">Effective currency depreciation (relative)</text>
<line x1="86" y1="117.20" x2="117" y2="117.20" stroke="#d55e00" stroke-width="1.4"/>
<text transform="translate(129 121.50) scale(0.9999 1)" font-family="Liberation Sans, sans-serif" font-size="15.28" fill="#262626">Ease of local finance (relative)</text>
<line x1="86" y1="138.80" x2="117" y2="138.80" stroke="#cc78bc" stroke-width="1.4"/>
<text transform="translate(129 143.10) scale(0.9999 1)" font-family="Liberation Sans, sans-serif" font-size="15.28" fill="#262626">Terms of trade improvement (relative)</text>
</g>
</svg></body></html>
